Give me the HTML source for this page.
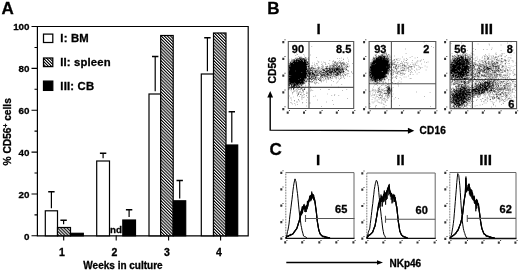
<!DOCTYPE html>
<html><head><meta charset="utf-8"><style>
html,body{margin:0;padding:0;background:#fff;width:520px;height:270px;overflow:hidden}
svg{display:block;will-change:transform}
</style></head><body>
<svg width="520" height="270" viewBox="0 0 520 270">
<rect width="520" height="270" fill="#fff"/>
<text x="1.6" y="14.1" font-size="17" font-family="'Liberation Sans',sans-serif" font-weight="bold" stroke="#000" stroke-width="0.3">A</text>
<path d="M37.4 26.5H248.2V235.8H37.4Z" fill="none" stroke="#000" stroke-width="1.2"/>
<path d="M31.5 235.80H37.5 M34.5 214.87H37.5 M31.5 193.94H37.5 M34.5 173.01H37.5 M31.5 152.08H37.5 M34.5 131.15H37.5 M31.5 110.22H37.5 M34.5 89.29H37.5 M31.5 68.36H37.5 M34.5 47.43H37.5 M31.5 26.50H37.5" stroke="#000" stroke-width="1.1"/>
<text x="29.5" y="239.70" font-size="9.8" text-anchor="end" font-family="'Liberation Sans',sans-serif" font-weight="bold" stroke="#000" stroke-width="0.3">0</text>
<text x="29.5" y="197.84" font-size="9.8" text-anchor="end" font-family="'Liberation Sans',sans-serif" font-weight="bold" stroke="#000" stroke-width="0.3">20</text>
<text x="29.5" y="155.98" font-size="9.8" text-anchor="end" font-family="'Liberation Sans',sans-serif" font-weight="bold" stroke="#000" stroke-width="0.3">40</text>
<text x="29.5" y="114.12" font-size="9.8" text-anchor="end" font-family="'Liberation Sans',sans-serif" font-weight="bold" stroke="#000" stroke-width="0.3">60</text>
<text x="29.5" y="72.26" font-size="9.8" text-anchor="end" font-family="'Liberation Sans',sans-serif" font-weight="bold" stroke="#000" stroke-width="0.3">80</text>
<text x="29.5" y="30.40" font-size="9.8" text-anchor="end" font-family="'Liberation Sans',sans-serif" font-weight="bold" stroke="#000" stroke-width="0.3">100</text>
<path d="M63.7 235.5V240.5 M116.2 235.5V240.5 M168.6 235.5V240.5 M220.6 235.5V240.5" stroke="#000" stroke-width="1.1"/>
<text x="62.0" y="256" font-size="10.5" text-anchor="middle" font-family="'Liberation Sans',sans-serif" font-weight="bold" stroke="#000" stroke-width="0.3">1</text>
<text x="114.5" y="256" font-size="10.5" text-anchor="middle" font-family="'Liberation Sans',sans-serif" font-weight="bold" stroke="#000" stroke-width="0.3">2</text>
<text x="166.9" y="256" font-size="10.5" text-anchor="middle" font-family="'Liberation Sans',sans-serif" font-weight="bold" stroke="#000" stroke-width="0.3">3</text>
<text x="218.9" y="256" font-size="10.5" text-anchor="middle" font-family="'Liberation Sans',sans-serif" font-weight="bold" stroke="#000" stroke-width="0.3">4</text>
<text x="123" y="268.5" font-size="10" text-anchor="middle" font-family="'Liberation Sans',sans-serif" font-weight="bold" stroke="#000" stroke-width="0.3">Weeks in culture</text>
<text transform="translate(11.4,131.8) rotate(-90)" font-size="10.2" text-anchor="middle" font-family="'Liberation Sans',sans-serif" font-weight="bold" stroke="#000" stroke-width="0.3">% CD56<tspan dy="-3.8" font-size="6.5">+</tspan><tspan dy="3.8"> cells</tspan></text>
<defs><filter id="bl" x="-5%" y="-5%" width="110%" height="110%"><feGaussianBlur stdDeviation="0.45"/></filter></defs>
<defs><pattern id="h" patternUnits="userSpaceOnUse" width="2.2" height="2.2" patternTransform="rotate(-45)"><rect width="2.2" height="2.2" fill="#fff"/><rect x="0" y="0" width="1.1" height="2.2" fill="#000"/></pattern></defs>
<rect x="45.30" y="210.80" width="12.20" height="25.00" fill="#fff" stroke="#000" stroke-width="1.2"/>
<rect x="57.50" y="227.50" width="13.00" height="8.30" fill="url(#h)" stroke="#000" stroke-width="1.2"/>
<rect x="70.50" y="233.30" width="12.80" height="2.50" fill="#000" stroke="#000" stroke-width="1.2"/>
<rect x="96.70" y="161.00" width="12.80" height="74.80" fill="#fff" stroke="#000" stroke-width="1.2"/>
<rect x="122.80" y="220.00" width="12.70" height="15.80" fill="#000" stroke="#000" stroke-width="1.2"/>
<rect x="149.00" y="94.00" width="11.70" height="141.80" fill="#fff" stroke="#000" stroke-width="1.2"/>
<rect x="160.70" y="35.50" width="12.50" height="200.30" fill="url(#h)" stroke="#000" stroke-width="1.2"/>
<rect x="173.20" y="200.80" width="12.50" height="35.00" fill="#000" stroke="#000" stroke-width="1.2"/>
<rect x="201.30" y="74.00" width="12.20" height="161.80" fill="#fff" stroke="#000" stroke-width="1.2"/>
<rect x="213.50" y="33.00" width="12.50" height="202.80" fill="url(#h)" stroke="#000" stroke-width="1.2"/>
<rect x="226.00" y="145.00" width="11.70" height="90.80" fill="#000" stroke="#000" stroke-width="1.2"/>
<text x="110" y="232.7" font-size="9.8" font-family="'Liberation Sans',sans-serif" font-weight="bold" stroke="#000" stroke-width="0.3">nd</text>
<path d="M51.40 208.30V191.70 M63.60 224.20V220.20 M103.10 158.30V153.30 M129.10 217.10V209.80 M155.20 91.30V56.50 M179.70 198.50V180.40 M207.40 71.20V37.80 M231.80 142.50V111.70" stroke="#000" stroke-width="1.2" fill="none"/>
<path d="M48.20 191.70H54.60 M60.40 220.20H66.80 M99.90 153.30H106.30 M125.90 209.80H132.30 M152.00 56.50H158.40 M176.50 180.40H182.90 M204.20 37.80H210.60 M228.60 111.70H235.00" stroke="#000" stroke-width="1.5" fill="none"/>
<rect x="43.5" y="34.1" width="9.3" height="8.4" fill="#fff" stroke="#000" stroke-width="1.25"/>
<rect x="43.5" y="58" width="9.3" height="8.6" fill="url(#h)" stroke="#000" stroke-width="1.25"/>
<rect x="43.5" y="81.1" width="9.3" height="9.3" fill="#000" stroke="#000" stroke-width="1.25"/>
<text x="60.3" y="42.1" font-size="11.3" letter-spacing="0.2" font-family="'Liberation Sans',sans-serif" font-weight="bold" stroke="#000" stroke-width="0.3">I: BM</text>
<text x="60.3" y="65.6" font-size="11.3" letter-spacing="0.15" font-family="'Liberation Sans',sans-serif" font-weight="bold" stroke="#000" stroke-width="0.3">II: spleen</text>
<text x="60.3" y="90" font-size="11.3" letter-spacing="0.2" font-family="'Liberation Sans',sans-serif" font-weight="bold" stroke="#000" stroke-width="0.3">III: CB</text>
<text x="267.2" y="13.9" font-size="17" font-family="'Liberation Sans',sans-serif" font-weight="bold" stroke="#000" stroke-width="0.3">B</text>
<text x="318.6" y="33.9" font-size="15.2" text-anchor="middle" font-family="'Liberation Sans',sans-serif" font-weight="bold" stroke="#000" stroke-width="0.3">I</text>
<path d="M288.3 41.5H353.7V108.5H288.3Z M309 41.5V108.5 M288.3 87.4H353.7" fill="none" stroke="#555" stroke-width="1.1"/>
<path d="M282.3 41.0h2v2.2h-2z M284.5 39.3h1v1h-1z M286.7 111.5h2v2.2h-2z M288.9 110.1h1v1h-1z M282.3 57.8h2v2.2h-2z M284.5 56.0h1v1h-1z M303.0 111.5h2v2.2h-2z M305.2 110.1h1v1h-1z M282.3 74.5h2v2.2h-2z M284.5 72.8h1v1h-1z M319.4 111.5h2v2.2h-2z M321.6 110.1h1v1h-1z M282.3 91.2h2v2.2h-2z M284.5 89.5h1v1h-1z M335.8 111.5h2v2.2h-2z M338.0 110.1h1v1h-1z M282.3 108.0h2v2.2h-2z M284.5 106.3h1v1h-1z M352.1 111.5h2v2.2h-2z M354.3 110.1h1v1h-1z" fill="#333" filter="url(#bl)"/>
<text x="400.8" y="33.9" font-size="15.2" text-anchor="middle" font-family="'Liberation Sans',sans-serif" font-weight="bold" stroke="#000" stroke-width="0.3">II</text>
<path d="M369.1 41.5H435.8V108.6H369.1Z M391.4 41.5V108.6 M369.1 83.7H435.8" fill="none" stroke="#555" stroke-width="1.1"/>
<path d="M363.1 41.0h2v2.2h-2z M365.3 39.3h1v1h-1z M367.5 111.6h2v2.2h-2z M369.7 110.2h1v1h-1z M363.1 57.8h2v2.2h-2z M365.3 56.1h1v1h-1z M384.2 111.6h2v2.2h-2z M386.4 110.2h1v1h-1z M363.1 74.5h2v2.2h-2z M365.3 72.8h1v1h-1z M400.9 111.6h2v2.2h-2z M403.1 110.2h1v1h-1z M363.1 91.3h2v2.2h-2z M365.3 89.6h1v1h-1z M417.5 111.6h2v2.2h-2z M419.7 110.2h1v1h-1z M363.1 108.1h2v2.2h-2z M365.3 106.4h1v1h-1z M434.2 111.6h2v2.2h-2z M436.4 110.2h1v1h-1z" fill="#333" filter="url(#bl)"/>
<text x="486.6" y="33.9" font-size="15.2" text-anchor="middle" font-family="'Liberation Sans',sans-serif" font-weight="bold" stroke="#000" stroke-width="0.3">III</text>
<path d="M450.1 41.5H516.6V108.6H450.1Z M472.4 41.5V108.6 M450.1 79.5H516.6" fill="none" stroke="#555" stroke-width="1.1"/>
<path d="M444.1 41.0h2v2.2h-2z M446.3 39.3h1v1h-1z M448.5 111.6h2v2.2h-2z M450.7 110.2h1v1h-1z M444.1 57.8h2v2.2h-2z M446.3 56.1h1v1h-1z M465.1 111.6h2v2.2h-2z M467.3 110.2h1v1h-1z M444.1 74.5h2v2.2h-2z M446.3 72.8h1v1h-1z M481.8 111.6h2v2.2h-2z M484.0 110.2h1v1h-1z M444.1 91.3h2v2.2h-2z M446.3 89.6h1v1h-1z M498.4 111.6h2v2.2h-2z M500.6 110.2h1v1h-1z M444.1 108.1h2v2.2h-2z M446.3 106.4h1v1h-1z M515.0 111.6h2v2.2h-2z M517.2 110.2h1v1h-1z" fill="#333" filter="url(#bl)"/>
<text x="291.8" y="52.6" font-size="11" text-anchor="start" font-family="'Liberation Sans',sans-serif" font-weight="bold" stroke="#000" stroke-width="0.3">90</text>
<text x="351.3" y="52.6" font-size="11" text-anchor="end" font-family="'Liberation Sans',sans-serif" font-weight="bold" stroke="#000" stroke-width="0.3">8.5</text>
<text x="374.2" y="52.6" font-size="11" text-anchor="start" font-family="'Liberation Sans',sans-serif" font-weight="bold" stroke="#000" stroke-width="0.3">93</text>
<text x="429.3" y="52.6" font-size="11" text-anchor="end" font-family="'Liberation Sans',sans-serif" font-weight="bold" stroke="#000" stroke-width="0.3">2</text>
<text x="454.2" y="52.6" font-size="11" text-anchor="start" font-family="'Liberation Sans',sans-serif" font-weight="bold" stroke="#000" stroke-width="0.3">56</text>
<text x="512.8" y="52.6" font-size="11" text-anchor="end" font-family="'Liberation Sans',sans-serif" font-weight="bold" stroke="#000" stroke-width="0.3">8</text>
<text x="514.3" y="107.6" font-size="11" text-anchor="end" font-family="'Liberation Sans',sans-serif" font-weight="bold" stroke="#000" stroke-width="0.3">6</text>
<path d="M270.2 96V130.1L410 130.7" fill="none" stroke="#000" stroke-width="1.4"/>
<path d="M267.3 97.6L270.2 91L273.1 97.6Z M407.9 127.8L414.3 130.75L407.9 133.7Z" fill="#000"/>
<text transform="translate(276,70.2) rotate(-90)" font-size="10.4" text-anchor="middle" font-family="'Liberation Sans',sans-serif" font-weight="bold" stroke="#000" stroke-width="0.3">CD56</text>
<text x="419.6" y="134.1" font-size="10" letter-spacing="0.2" font-family="'Liberation Sans',sans-serif" font-weight="bold" stroke="#000" stroke-width="0.3">CD16</text>
<path d="M311.6 46.3h0.5v0.5h-0.5zM296.6 53.8h0.5v0.5h-0.5zM297.1 54.3h0.5v0.5h-0.5zM303.6 54.3h0.5v0.5h-0.5zM310.1 54.8h0.5v0.5h-0.5zM295.6 55.3h0.5v0.5h-0.5zM304.1 55.8h0.5v0.5h-0.5zM298.1 56.3h0.5v0.5h-0.5zM299.6 56.8h0.5v0.5h-0.5zM300.6 56.8h0.5v0.5h-0.5zM301.6 56.8h0.5v0.5h-0.5zM299.1 57.3h1v0.5h-1zM300.6 57.3h0.5v0.5h-0.5zM305.1 57.3h1v0.5h-1zM308.1 57.3h0.5v0.5h-0.5zM316.1 57.3h0.5v0.5h-0.5zM295.6 57.8h1v0.5h-1zM297.1 57.8h0.5v0.5h-0.5zM300.1 57.8h0.5v0.5h-0.5zM301.1 57.8h1v0.5h-1zM302.6 57.8h0.5v0.5h-0.5zM304.6 57.8h0.5v0.5h-0.5zM306.6 57.8h0.5v0.5h-0.5zM341.6 57.8h0.5v0.5h-0.5zM347.6 57.8h0.5v0.5h-0.5zM295.6 58.3h0.5v0.5h-0.5zM297.1 58.3h0.5v0.5h-0.5zM298.1 58.3h2.5v0.5h-2.5zM301.6 58.3h0.5v0.5h-0.5zM302.6 58.3h1.5v0.5h-1.5zM304.6 58.3h0.5v0.5h-0.5zM305.6 58.3h0.5v0.5h-0.5zM337.1 58.3h0.5v0.5h-0.5zM339.6 58.3h0.5v0.5h-0.5zM291.6 58.8h0.5v0.5h-0.5zM294.6 58.8h0.5v0.5h-0.5zM295.6 58.8h0.5v0.5h-0.5zM296.6 58.8h1v0.5h-1zM298.6 58.8h6v0.5h-6zM305.6 58.8h0.5v0.5h-0.5zM306.6 58.8h0.5v0.5h-0.5zM307.6 58.8h1.5v0.5h-1.5zM343.1 58.8h0.5v0.5h-0.5zM293.6 59.3h1v0.5h-1zM296.1 59.3h1.5v0.5h-1.5zM298.1 59.3h0.5v0.5h-0.5zM299.6 59.3h1.5v0.5h-1.5zM301.6 59.3h1v0.5h-1zM303.1 59.3h0.5v0.5h-0.5zM304.1 59.3h1.5v0.5h-1.5zM306.1 59.3h0.5v0.5h-0.5zM343.1 59.3h0.5v0.5h-0.5zM289.6 59.8h0.5v0.5h-0.5zM291.6 59.8h3v0.5h-3zM295.6 59.8h4v0.5h-4zM300.1 59.8h5.5v0.5h-5.5zM306.1 59.8h0.5v0.5h-0.5zM308.1 59.8h0.5v0.5h-0.5zM348.6 59.8h0.5v0.5h-0.5zM291.6 60.3h0.5v0.5h-0.5zM293.1 60.3h0.5v0.5h-0.5zM294.1 60.3h6v0.5h-6zM300.6 60.3h1.5v0.5h-1.5zM302.6 60.3h0.5v0.5h-0.5zM303.6 60.3h3v0.5h-3zM329.6 60.3h0.5v0.5h-0.5zM339.1 60.3h0.5v0.5h-0.5zM341.6 60.3h0.5v0.5h-0.5zM291.6 60.8h1v0.5h-1zM293.6 60.8h1.5v0.5h-1.5zM295.6 60.8h1.5v0.5h-1.5zM297.6 60.8h5.5v0.5h-5.5zM304.1 60.8h2.5v0.5h-2.5zM317.6 60.8h0.5v0.5h-0.5zM333.1 60.8h1v0.5h-1zM291.6 61.3h1v0.5h-1zM293.1 61.3h2.5v0.5h-2.5zM296.1 61.3h1.5v0.5h-1.5zM298.1 61.3h5v0.5h-5zM303.6 61.3h2v0.5h-2zM306.1 61.3h0.5v0.5h-0.5zM307.1 61.3h0.5v0.5h-0.5zM308.1 61.3h0.5v0.5h-0.5zM318.6 61.3h0.5v0.5h-0.5zM332.6 61.3h0.5v0.5h-0.5zM335.6 61.3h0.5v0.5h-0.5zM338.6 61.3h0.5v0.5h-0.5zM348.1 61.3h0.5v0.5h-0.5zM288.6 61.8h0.5v0.5h-0.5zM289.6 61.8h2v0.5h-2zM293.1 61.8h15v0.5h-15zM321.6 61.8h0.5v0.5h-0.5zM323.6 61.8h0.5v0.5h-0.5zM334.1 61.8h0.5v0.5h-0.5zM335.1 61.8h0.5v0.5h-0.5zM340.1 61.8h1v0.5h-1zM343.6 61.8h0.5v0.5h-0.5zM290.1 62.3h1v0.5h-1zM292.1 62.3h14v0.5h-14zM306.6 62.3h1.5v0.5h-1.5zM318.6 62.3h0.5v0.5h-0.5zM324.6 62.3h0.5v0.5h-0.5zM334.1 62.3h0.5v0.5h-0.5zM335.6 62.3h0.5v0.5h-0.5zM337.6 62.3h0.5v0.5h-0.5zM339.1 62.3h0.5v0.5h-0.5zM342.1 62.3h1v0.5h-1zM343.6 62.3h0.5v0.5h-0.5zM346.1 62.3h0.5v0.5h-0.5zM290.6 62.8h15.5v0.5h-15.5zM306.6 62.8h0.5v0.5h-0.5zM307.6 62.8h0.5v0.5h-0.5zM308.6 62.8h0.5v0.5h-0.5zM312.6 62.8h0.5v0.5h-0.5zM314.6 62.8h0.5v0.5h-0.5zM325.1 62.8h0.5v0.5h-0.5zM332.6 62.8h0.5v0.5h-0.5zM334.6 62.8h1v0.5h-1zM336.6 62.8h1v0.5h-1zM338.6 62.8h1v0.5h-1zM340.1 62.8h1.5v0.5h-1.5zM344.6 62.8h0.5v0.5h-0.5zM288.6 63.3h4.5v0.5h-4.5zM293.6 63.3h13v0.5h-13zM307.1 63.3h0.5v0.5h-0.5zM308.1 63.3h1v0.5h-1zM316.6 63.3h0.5v0.5h-0.5zM328.1 63.3h0.5v0.5h-0.5zM333.6 63.3h0.5v0.5h-0.5zM336.6 63.3h0.5v0.5h-0.5zM337.6 63.3h0.5v0.5h-0.5zM340.6 63.3h1v0.5h-1zM342.1 63.3h1.5v0.5h-1.5zM344.6 63.3h0.5v0.5h-0.5zM352.1 63.3h0.5v0.5h-0.5zM290.1 63.8h17.5v0.5h-17.5zM309.1 63.8h0.5v0.5h-0.5zM316.6 63.8h0.5v0.5h-0.5zM317.6 63.8h0.5v0.5h-0.5zM322.1 63.8h0.5v0.5h-0.5zM325.6 63.8h0.5v0.5h-0.5zM329.6 63.8h0.5v0.5h-0.5zM332.6 63.8h0.5v0.5h-0.5zM334.6 63.8h0.5v0.5h-0.5zM335.6 63.8h0.5v0.5h-0.5zM336.6 63.8h0.5v0.5h-0.5zM338.6 63.8h0.5v0.5h-0.5zM341.6 63.8h0.5v0.5h-0.5zM343.1 63.8h0.5v0.5h-0.5zM344.1 63.8h0.5v0.5h-0.5zM347.1 63.8h1v0.5h-1zM348.6 63.8h0.5v0.5h-0.5zM289.1 64.3h0.5v0.5h-0.5zM290.1 64.3h18.5v0.5h-18.5zM314.1 64.3h0.5v0.5h-0.5zM321.1 64.3h0.5v0.5h-0.5zM325.6 64.3h0.5v0.5h-0.5zM333.1 64.3h0.5v0.5h-0.5zM334.1 64.3h0.5v0.5h-0.5zM336.1 64.3h0.5v0.5h-0.5zM337.1 64.3h0.5v0.5h-0.5zM340.1 64.3h0.5v0.5h-0.5zM341.6 64.3h0.5v0.5h-0.5zM343.1 64.3h1.5v0.5h-1.5zM345.1 64.3h0.5v0.5h-0.5zM346.6 64.3h0.5v0.5h-0.5zM288.6 64.8h19v0.5h-19zM331.6 64.8h0.5v0.5h-0.5zM333.1 64.8h0.5v0.5h-0.5zM334.6 64.8h0.5v0.5h-0.5zM336.1 64.8h0.5v0.5h-0.5zM337.1 64.8h0.5v0.5h-0.5zM340.6 64.8h1v0.5h-1zM288.6 65.3h1v0.5h-1zM290.1 65.3h16v0.5h-16zM306.6 65.3h0.5v0.5h-0.5zM309.1 65.3h0.5v0.5h-0.5zM311.6 65.3h0.5v0.5h-0.5zM312.6 65.3h0.5v0.5h-0.5zM315.6 65.3h0.5v0.5h-0.5zM317.6 65.3h0.5v0.5h-0.5zM322.1 65.3h0.5v0.5h-0.5zM330.6 65.3h0.5v0.5h-0.5zM332.1 65.3h0.5v0.5h-0.5zM333.6 65.3h0.5v0.5h-0.5zM334.6 65.3h2v0.5h-2zM337.1 65.3h0.5v0.5h-0.5zM339.1 65.3h1v0.5h-1zM341.6 65.3h1v0.5h-1zM343.6 65.3h0.5v0.5h-0.5zM344.6 65.3h0.5v0.5h-0.5zM346.6 65.3h0.5v0.5h-0.5zM288.6 65.8h2v0.5h-2zM291.1 65.8h15.5v0.5h-15.5zM307.6 65.8h1v0.5h-1zM309.6 65.8h0.5v0.5h-0.5zM314.1 65.8h0.5v0.5h-0.5zM323.1 65.8h0.5v0.5h-0.5zM327.6 65.8h0.5v0.5h-0.5zM329.1 65.8h1v0.5h-1zM330.6 65.8h1v0.5h-1zM332.1 65.8h1.5v0.5h-1.5zM334.1 65.8h0.5v0.5h-0.5zM335.1 65.8h0.5v0.5h-0.5zM337.6 65.8h1v0.5h-1zM339.1 65.8h0.5v0.5h-0.5zM341.1 65.8h1v0.5h-1zM345.6 65.8h0.5v0.5h-0.5zM346.6 65.8h0.5v0.5h-0.5zM347.6 65.8h0.5v0.5h-0.5zM349.1 65.8h0.5v0.5h-0.5zM288.6 66.3h1v0.5h-1zM290.1 66.3h17v0.5h-17zM307.6 66.3h1.5v0.5h-1.5zM318.6 66.3h0.5v0.5h-0.5zM321.1 66.3h0.5v0.5h-0.5zM322.1 66.3h0.5v0.5h-0.5zM325.1 66.3h0.5v0.5h-0.5zM326.1 66.3h0.5v0.5h-0.5zM327.1 66.3h1v0.5h-1zM330.1 66.3h0.5v0.5h-0.5zM333.1 66.3h1.5v0.5h-1.5zM336.1 66.3h1v0.5h-1zM338.1 66.3h1.5v0.5h-1.5zM340.6 66.3h0.5v0.5h-0.5zM341.6 66.3h1v0.5h-1zM345.6 66.3h0.5v0.5h-0.5zM347.1 66.3h1v0.5h-1zM288.6 66.8h18.5v0.5h-18.5zM307.6 66.8h1v0.5h-1zM309.1 66.8h0.5v0.5h-0.5zM311.1 66.8h0.5v0.5h-0.5zM312.1 66.8h1v0.5h-1zM315.1 66.8h0.5v0.5h-0.5zM323.1 66.8h0.5v0.5h-0.5zM326.1 66.8h0.5v0.5h-0.5zM329.6 66.8h0.5v0.5h-0.5zM332.1 66.8h0.5v0.5h-0.5zM333.6 66.8h0.5v0.5h-0.5zM336.1 66.8h0.5v0.5h-0.5zM337.6 66.8h0.5v0.5h-0.5zM338.6 66.8h1.5v0.5h-1.5zM341.6 66.8h0.5v0.5h-0.5zM343.1 66.8h0.5v0.5h-0.5zM344.6 66.8h0.5v0.5h-0.5zM346.6 66.8h0.5v0.5h-0.5zM347.6 66.8h0.5v0.5h-0.5zM348.6 66.8h0.5v0.5h-0.5zM288.6 67.3h18.5v0.5h-18.5zM310.6 67.3h0.5v0.5h-0.5zM311.6 67.3h0.5v0.5h-0.5zM312.6 67.3h0.5v0.5h-0.5zM313.6 67.3h0.5v0.5h-0.5zM317.1 67.3h0.5v0.5h-0.5zM318.1 67.3h0.5v0.5h-0.5zM319.6 67.3h0.5v0.5h-0.5zM322.6 67.3h0.5v0.5h-0.5zM326.6 67.3h0.5v0.5h-0.5zM329.6 67.3h1v0.5h-1zM331.1 67.3h0.5v0.5h-0.5zM332.1 67.3h0.5v0.5h-0.5zM333.1 67.3h0.5v0.5h-0.5zM334.1 67.3h0.5v0.5h-0.5zM335.1 67.3h0.5v0.5h-0.5zM336.1 67.3h0.5v0.5h-0.5zM337.1 67.3h1v0.5h-1zM338.6 67.3h1v0.5h-1zM340.1 67.3h1v0.5h-1zM341.6 67.3h1v0.5h-1zM346.6 67.3h0.5v0.5h-0.5zM289.1 67.8h17.5v0.5h-17.5zM308.1 67.8h1v0.5h-1zM309.6 67.8h0.5v0.5h-0.5zM311.1 67.8h1v0.5h-1zM318.1 67.8h1v0.5h-1zM319.6 67.8h0.5v0.5h-0.5zM321.1 67.8h0.5v0.5h-0.5zM322.1 67.8h0.5v0.5h-0.5zM325.6 67.8h1v0.5h-1zM327.1 67.8h0.5v0.5h-0.5zM328.1 67.8h0.5v0.5h-0.5zM329.1 67.8h0.5v0.5h-0.5zM330.6 67.8h0.5v0.5h-0.5zM332.6 67.8h1v0.5h-1zM334.1 67.8h1.5v0.5h-1.5zM336.6 67.8h1v0.5h-1zM338.1 67.8h0.5v0.5h-0.5zM342.1 67.8h0.5v0.5h-0.5zM343.6 67.8h1.5v0.5h-1.5zM345.6 67.8h1v0.5h-1zM288.6 68.3h19v0.5h-19zM308.6 68.3h3v0.5h-3zM312.6 68.3h2.5v0.5h-2.5zM315.6 68.3h0.5v0.5h-0.5zM317.6 68.3h1v0.5h-1zM321.1 68.3h0.5v0.5h-0.5zM322.6 68.3h0.5v0.5h-0.5zM324.6 68.3h3v0.5h-3zM328.1 68.3h0.5v0.5h-0.5zM329.1 68.3h1.5v0.5h-1.5zM331.1 68.3h2v0.5h-2zM333.6 68.3h1v0.5h-1zM335.1 68.3h5v0.5h-5zM340.6 68.3h1v0.5h-1zM342.1 68.3h1v0.5h-1zM343.6 68.3h0.5v0.5h-0.5zM288.6 68.8h0.5v0.5h-0.5zM289.6 68.8h18v0.5h-18zM311.6 68.8h0.5v0.5h-0.5zM312.6 68.8h1v0.5h-1zM315.1 68.8h0.5v0.5h-0.5zM316.1 68.8h0.5v0.5h-0.5zM319.1 68.8h0.5v0.5h-0.5zM320.6 68.8h0.5v0.5h-0.5zM323.1 68.8h0.5v0.5h-0.5zM326.1 68.8h2v0.5h-2zM328.6 68.8h2v0.5h-2zM331.1 68.8h1.5v0.5h-1.5zM333.1 68.8h1.5v0.5h-1.5zM335.6 68.8h3v0.5h-3zM339.1 68.8h1v0.5h-1zM340.6 68.8h1.5v0.5h-1.5zM342.6 68.8h0.5v0.5h-0.5zM345.1 68.8h1v0.5h-1zM346.6 68.8h0.5v0.5h-0.5zM288.6 69.3h19v0.5h-19zM308.6 69.3h0.5v0.5h-0.5zM309.6 69.3h1.5v0.5h-1.5zM312.1 69.3h0.5v0.5h-0.5zM314.6 69.3h0.5v0.5h-0.5zM317.6 69.3h1v0.5h-1zM322.1 69.3h2.5v0.5h-2.5zM325.6 69.3h0.5v0.5h-0.5zM326.6 69.3h1v0.5h-1zM329.1 69.3h2v0.5h-2zM331.6 69.3h1.5v0.5h-1.5zM333.6 69.3h1.5v0.5h-1.5zM335.6 69.3h4v0.5h-4zM340.1 69.3h1v0.5h-1zM341.6 69.3h2.5v0.5h-2.5zM344.6 69.3h0.5v0.5h-0.5zM346.1 69.3h1v0.5h-1zM288.6 69.8h1v0.5h-1zM290.1 69.8h17.5v0.5h-17.5zM308.1 69.8h1v0.5h-1zM310.1 69.8h0.5v0.5h-0.5zM311.6 69.8h0.5v0.5h-0.5zM313.1 69.8h0.5v0.5h-0.5zM316.1 69.8h0.5v0.5h-0.5zM317.1 69.8h0.5v0.5h-0.5zM320.1 69.8h0.5v0.5h-0.5zM321.6 69.8h0.5v0.5h-0.5zM322.6 69.8h0.5v0.5h-0.5zM323.6 69.8h1v0.5h-1zM325.6 69.8h0.5v0.5h-0.5zM328.1 69.8h0.5v0.5h-0.5zM329.1 69.8h0.5v0.5h-0.5zM330.6 69.8h0.5v0.5h-0.5zM332.1 69.8h1.5v0.5h-1.5zM334.1 69.8h4.5v0.5h-4.5zM339.1 69.8h1.5v0.5h-1.5zM341.6 69.8h1.5v0.5h-1.5zM346.1 69.8h0.5v0.5h-0.5zM288.6 70.3h17.5v0.5h-17.5zM307.1 70.3h1v0.5h-1zM308.6 70.3h0.5v0.5h-0.5zM309.6 70.3h3v0.5h-3zM313.6 70.3h0.5v0.5h-0.5zM314.6 70.3h0.5v0.5h-0.5zM315.6 70.3h1v0.5h-1zM317.6 70.3h0.5v0.5h-0.5zM319.1 70.3h0.5v0.5h-0.5zM321.6 70.3h0.5v0.5h-0.5zM322.6 70.3h2.5v0.5h-2.5zM326.1 70.3h3.5v0.5h-3.5zM330.1 70.3h1.5v0.5h-1.5zM332.1 70.3h0.5v0.5h-0.5zM333.1 70.3h2v0.5h-2zM336.1 70.3h1.5v0.5h-1.5zM338.1 70.3h1v0.5h-1zM339.6 70.3h1v0.5h-1zM341.6 70.3h0.5v0.5h-0.5zM342.6 70.3h1v0.5h-1zM345.6 70.3h0.5v0.5h-0.5zM347.1 70.3h0.5v0.5h-0.5zM348.1 70.3h0.5v0.5h-0.5zM289.1 70.8h6.5v0.5h-6.5zM296.1 70.8h12v0.5h-12zM308.6 70.8h0.5v0.5h-0.5zM309.6 70.8h1v0.5h-1zM311.1 70.8h0.5v0.5h-0.5zM312.1 70.8h1v0.5h-1zM314.1 70.8h2.5v0.5h-2.5zM317.6 70.8h1.5v0.5h-1.5zM319.6 70.8h0.5v0.5h-0.5zM320.6 70.8h0.5v0.5h-0.5zM323.6 70.8h1.5v0.5h-1.5zM325.6 70.8h0.5v0.5h-0.5zM326.6 70.8h3.5v0.5h-3.5zM330.6 70.8h0.5v0.5h-0.5zM331.6 70.8h1.5v0.5h-1.5zM334.1 70.8h2v0.5h-2zM336.6 70.8h0.5v0.5h-0.5zM337.6 70.8h0.5v0.5h-0.5zM338.6 70.8h1v0.5h-1zM340.1 70.8h2v0.5h-2zM343.1 70.8h1v0.5h-1zM347.6 70.8h0.5v0.5h-0.5zM288.6 71.3h18v0.5h-18zM307.1 71.3h1v0.5h-1zM308.6 71.3h1v0.5h-1zM312.6 71.3h0.5v0.5h-0.5zM315.1 71.3h1v0.5h-1zM317.6 71.3h0.5v0.5h-0.5zM319.1 71.3h0.5v0.5h-0.5zM320.1 71.3h1.5v0.5h-1.5zM325.1 71.3h3v0.5h-3zM328.6 71.3h0.5v0.5h-0.5zM329.6 71.3h3.5v0.5h-3.5zM333.6 71.3h0.5v0.5h-0.5zM334.6 71.3h1.5v0.5h-1.5zM336.6 71.3h0.5v0.5h-0.5zM337.6 71.3h2.5v0.5h-2.5zM341.1 71.3h0.5v0.5h-0.5zM342.1 71.3h0.5v0.5h-0.5zM343.1 71.3h1.5v0.5h-1.5zM348.1 71.3h0.5v0.5h-0.5zM351.1 71.3h0.5v0.5h-0.5zM288.6 71.8h18.5v0.5h-18.5zM307.6 71.8h3v0.5h-3zM311.6 71.8h1.5v0.5h-1.5zM313.6 71.8h0.5v0.5h-0.5zM314.6 71.8h1v0.5h-1zM316.1 71.8h1.5v0.5h-1.5zM318.1 71.8h0.5v0.5h-0.5zM320.1 71.8h0.5v0.5h-0.5zM321.1 71.8h1v0.5h-1zM322.6 71.8h1.5v0.5h-1.5zM325.1 71.8h2v0.5h-2zM328.6 71.8h1.5v0.5h-1.5zM330.6 71.8h2v0.5h-2zM333.1 71.8h0.5v0.5h-0.5zM334.1 71.8h2v0.5h-2zM336.6 71.8h0.5v0.5h-0.5zM338.6 71.8h3v0.5h-3zM342.1 71.8h2v0.5h-2zM288.6 72.3h13v0.5h-13zM302.1 72.3h4v0.5h-4zM306.6 72.3h0.5v0.5h-0.5zM307.6 72.3h0.5v0.5h-0.5zM308.6 72.3h1v0.5h-1zM310.1 72.3h2.5v0.5h-2.5zM314.6 72.3h1v0.5h-1zM316.1 72.3h0.5v0.5h-0.5zM317.1 72.3h0.5v0.5h-0.5zM319.1 72.3h1v0.5h-1zM321.1 72.3h0.5v0.5h-0.5zM322.1 72.3h1.5v0.5h-1.5zM324.1 72.3h1v0.5h-1zM326.1 72.3h0.5v0.5h-0.5zM327.6 72.3h0.5v0.5h-0.5zM328.6 72.3h3.5v0.5h-3.5zM332.6 72.3h2v0.5h-2zM335.1 72.3h0.5v0.5h-0.5zM336.1 72.3h2.5v0.5h-2.5zM339.1 72.3h0.5v0.5h-0.5zM340.1 72.3h1.5v0.5h-1.5zM342.1 72.3h0.5v0.5h-0.5zM343.6 72.3h0.5v0.5h-0.5zM345.6 72.3h0.5v0.5h-0.5zM351.6 72.3h0.5v0.5h-0.5zM288.6 72.8h18.5v0.5h-18.5zM307.6 72.8h2v0.5h-2zM310.6 72.8h0.5v0.5h-0.5zM312.1 72.8h2v0.5h-2zM314.6 72.8h1.5v0.5h-1.5zM316.6 72.8h0.5v0.5h-0.5zM318.1 72.8h0.5v0.5h-0.5zM319.1 72.8h1.5v0.5h-1.5zM322.6 72.8h1.5v0.5h-1.5zM324.6 72.8h3.5v0.5h-3.5zM328.6 72.8h0.5v0.5h-0.5zM329.6 72.8h1.5v0.5h-1.5zM331.6 72.8h0.5v0.5h-0.5zM332.6 72.8h0.5v0.5h-0.5zM333.6 72.8h0.5v0.5h-0.5zM334.6 72.8h0.5v0.5h-0.5zM335.6 72.8h0.5v0.5h-0.5zM336.6 72.8h2v0.5h-2zM339.1 72.8h2.5v0.5h-2.5zM343.6 72.8h0.5v0.5h-0.5zM288.6 73.3h19v0.5h-19zM308.1 73.3h3v0.5h-3zM311.6 73.3h2.5v0.5h-2.5zM317.1 73.3h0.5v0.5h-0.5zM318.1 73.3h0.5v0.5h-0.5zM319.1 73.3h0.5v0.5h-0.5zM320.1 73.3h0.5v0.5h-0.5zM321.1 73.3h0.5v0.5h-0.5zM322.1 73.3h0.5v0.5h-0.5zM324.6 73.3h0.5v0.5h-0.5zM325.6 73.3h0.5v0.5h-0.5zM327.1 73.3h1v0.5h-1zM328.6 73.3h0.5v0.5h-0.5zM329.6 73.3h1v0.5h-1zM331.1 73.3h1v0.5h-1zM333.1 73.3h1v0.5h-1zM336.1 73.3h0.5v0.5h-0.5zM337.1 73.3h1.5v0.5h-1.5zM340.1 73.3h0.5v0.5h-0.5zM343.6 73.3h0.5v0.5h-0.5zM347.6 73.3h0.5v0.5h-0.5zM348.6 73.3h0.5v0.5h-0.5zM352.6 73.3h0.5v0.5h-0.5zM289.1 73.8h18.5v0.5h-18.5zM308.6 73.8h2.5v0.5h-2.5zM311.6 73.8h1.5v0.5h-1.5zM313.6 73.8h1v0.5h-1zM315.6 73.8h2v0.5h-2zM318.1 73.8h0.5v0.5h-0.5zM320.1 73.8h1.5v0.5h-1.5zM323.1 73.8h0.5v0.5h-0.5zM324.1 73.8h0.5v0.5h-0.5zM325.1 73.8h0.5v0.5h-0.5zM326.6 73.8h2v0.5h-2zM330.1 73.8h0.5v0.5h-0.5zM331.6 73.8h0.5v0.5h-0.5zM334.1 73.8h1.5v0.5h-1.5zM336.1 73.8h3v0.5h-3zM339.6 73.8h0.5v0.5h-0.5zM340.6 73.8h0.5v0.5h-0.5zM342.1 73.8h0.5v0.5h-0.5zM344.6 73.8h0.5v0.5h-0.5zM346.1 73.8h0.5v0.5h-0.5zM347.6 73.8h0.5v0.5h-0.5zM288.6 74.3h18v0.5h-18zM307.6 74.3h0.5v0.5h-0.5zM309.1 74.3h1v0.5h-1zM310.6 74.3h0.5v0.5h-0.5zM311.6 74.3h0.5v0.5h-0.5zM312.6 74.3h2.5v0.5h-2.5zM317.6 74.3h0.5v0.5h-0.5zM320.6 74.3h1v0.5h-1zM322.1 74.3h2.5v0.5h-2.5zM326.1 74.3h3.5v0.5h-3.5zM330.1 74.3h0.5v0.5h-0.5zM331.1 74.3h1.5v0.5h-1.5zM333.1 74.3h0.5v0.5h-0.5zM334.6 74.3h2v0.5h-2zM337.1 74.3h0.5v0.5h-0.5zM338.1 74.3h0.5v0.5h-0.5zM339.1 74.3h0.5v0.5h-0.5zM340.1 74.3h0.5v0.5h-0.5zM342.1 74.3h0.5v0.5h-0.5zM344.6 74.3h0.5v0.5h-0.5zM345.6 74.3h0.5v0.5h-0.5zM288.6 74.8h19.5v0.5h-19.5zM309.1 74.8h2.5v0.5h-2.5zM312.1 74.8h1.5v0.5h-1.5zM314.1 74.8h4v0.5h-4zM318.6 74.8h1v0.5h-1zM320.1 74.8h0.5v0.5h-0.5zM321.1 74.8h1v0.5h-1zM322.6 74.8h0.5v0.5h-0.5zM323.6 74.8h2.5v0.5h-2.5zM326.6 74.8h0.5v0.5h-0.5zM327.6 74.8h0.5v0.5h-0.5zM328.6 74.8h1v0.5h-1zM331.6 74.8h0.5v0.5h-0.5zM333.1 74.8h1v0.5h-1zM335.6 74.8h0.5v0.5h-0.5zM336.6 74.8h2.5v0.5h-2.5zM340.1 74.8h0.5v0.5h-0.5zM345.1 74.8h0.5v0.5h-0.5zM288.6 75.3h0.5v0.5h-0.5zM289.6 75.3h1v0.5h-1zM291.1 75.3h15v0.5h-15zM306.6 75.3h1.5v0.5h-1.5zM309.6 75.3h1v0.5h-1zM311.1 75.3h0.5v0.5h-0.5zM313.1 75.3h0.5v0.5h-0.5zM314.1 75.3h1.5v0.5h-1.5zM316.1 75.3h1.5v0.5h-1.5zM318.1 75.3h1v0.5h-1zM321.1 75.3h2.5v0.5h-2.5zM324.1 75.3h1.5v0.5h-1.5zM326.1 75.3h0.5v0.5h-0.5zM327.1 75.3h0.5v0.5h-0.5zM328.1 75.3h1v0.5h-1zM329.6 75.3h2v0.5h-2zM333.6 75.3h0.5v0.5h-0.5zM335.6 75.3h2v0.5h-2zM339.6 75.3h0.5v0.5h-0.5zM341.1 75.3h0.5v0.5h-0.5zM342.6 75.3h0.5v0.5h-0.5zM343.6 75.3h0.5v0.5h-0.5zM345.1 75.3h0.5v0.5h-0.5zM288.6 75.8h18v0.5h-18zM307.1 75.8h0.5v0.5h-0.5zM308.1 75.8h1.5v0.5h-1.5zM311.6 75.8h1.5v0.5h-1.5zM313.6 75.8h0.5v0.5h-0.5zM314.6 75.8h0.5v0.5h-0.5zM317.6 75.8h0.5v0.5h-0.5zM320.1 75.8h0.5v0.5h-0.5zM321.6 75.8h1v0.5h-1zM323.6 75.8h0.5v0.5h-0.5zM327.1 75.8h0.5v0.5h-0.5zM329.6 75.8h0.5v0.5h-0.5zM330.6 75.8h0.5v0.5h-0.5zM332.1 75.8h0.5v0.5h-0.5zM334.6 75.8h0.5v0.5h-0.5zM335.6 75.8h1v0.5h-1zM337.6 75.8h0.5v0.5h-0.5zM340.1 75.8h1v0.5h-1zM343.1 75.8h0.5v0.5h-0.5zM347.1 75.8h0.5v0.5h-0.5zM288.6 76.3h18v0.5h-18zM307.1 76.3h1.5v0.5h-1.5zM309.1 76.3h1v0.5h-1zM310.6 76.3h1.5v0.5h-1.5zM312.6 76.3h0.5v0.5h-0.5zM313.6 76.3h1v0.5h-1zM315.6 76.3h0.5v0.5h-0.5zM316.6 76.3h0.5v0.5h-0.5zM320.6 76.3h0.5v0.5h-0.5zM321.6 76.3h0.5v0.5h-0.5zM324.1 76.3h3.5v0.5h-3.5zM331.6 76.3h1v0.5h-1zM333.1 76.3h0.5v0.5h-0.5zM334.6 76.3h0.5v0.5h-0.5zM343.6 76.3h0.5v0.5h-0.5zM349.6 76.3h0.5v0.5h-0.5zM288.6 76.8h18v0.5h-18zM308.1 76.8h0.5v0.5h-0.5zM309.1 76.8h0.5v0.5h-0.5zM311.6 76.8h1v0.5h-1zM313.1 76.8h1v0.5h-1zM314.6 76.8h2v0.5h-2zM320.1 76.8h1.5v0.5h-1.5zM322.1 76.8h0.5v0.5h-0.5zM323.1 76.8h0.5v0.5h-0.5zM327.1 76.8h0.5v0.5h-0.5zM328.1 76.8h0.5v0.5h-0.5zM329.6 76.8h1v0.5h-1zM334.1 76.8h0.5v0.5h-0.5zM335.1 76.8h0.5v0.5h-0.5zM338.1 76.8h0.5v0.5h-0.5zM341.6 76.8h0.5v0.5h-0.5zM288.6 77.3h1v0.5h-1zM290.1 77.3h17v0.5h-17zM309.6 77.3h0.5v0.5h-0.5zM311.1 77.3h1v0.5h-1zM312.6 77.3h0.5v0.5h-0.5zM313.6 77.3h0.5v0.5h-0.5zM315.1 77.3h1v0.5h-1zM317.1 77.3h0.5v0.5h-0.5zM318.6 77.3h0.5v0.5h-0.5zM320.6 77.3h0.5v0.5h-0.5zM322.1 77.3h1v0.5h-1zM324.6 77.3h0.5v0.5h-0.5zM325.6 77.3h0.5v0.5h-0.5zM327.1 77.3h0.5v0.5h-0.5zM328.6 77.3h0.5v0.5h-0.5zM330.1 77.3h1v0.5h-1zM332.1 77.3h0.5v0.5h-0.5zM336.6 77.3h0.5v0.5h-0.5zM343.6 77.3h0.5v0.5h-0.5zM289.1 77.8h17.5v0.5h-17.5zM308.1 77.8h0.5v0.5h-0.5zM309.1 77.8h2.5v0.5h-2.5zM314.1 77.8h0.5v0.5h-0.5zM315.1 77.8h0.5v0.5h-0.5zM316.1 77.8h1v0.5h-1zM319.1 77.8h0.5v0.5h-0.5zM321.6 77.8h0.5v0.5h-0.5zM326.6 77.8h0.5v0.5h-0.5zM327.6 77.8h0.5v0.5h-0.5zM329.6 77.8h0.5v0.5h-0.5zM330.6 77.8h0.5v0.5h-0.5zM335.1 77.8h0.5v0.5h-0.5zM336.1 77.8h0.5v0.5h-0.5zM340.6 77.8h0.5v0.5h-0.5zM341.6 77.8h0.5v0.5h-0.5zM288.6 78.3h11.5v0.5h-11.5zM300.6 78.3h4v0.5h-4zM305.1 78.3h0.5v0.5h-0.5zM306.6 78.3h1.5v0.5h-1.5zM308.6 78.3h2.5v0.5h-2.5zM312.1 78.3h2.5v0.5h-2.5zM315.1 78.3h0.5v0.5h-0.5zM317.1 78.3h0.5v0.5h-0.5zM319.1 78.3h0.5v0.5h-0.5zM320.6 78.3h0.5v0.5h-0.5zM323.1 78.3h0.5v0.5h-0.5zM325.1 78.3h0.5v0.5h-0.5zM328.1 78.3h0.5v0.5h-0.5zM331.6 78.3h0.5v0.5h-0.5zM332.6 78.3h0.5v0.5h-0.5zM338.6 78.3h0.5v0.5h-0.5zM340.1 78.3h0.5v0.5h-0.5zM344.1 78.3h0.5v0.5h-0.5zM288.6 78.8h17.5v0.5h-17.5zM306.6 78.8h0.5v0.5h-0.5zM309.1 78.8h0.5v0.5h-0.5zM311.1 78.8h0.5v0.5h-0.5zM312.1 78.8h0.5v0.5h-0.5zM313.1 78.8h0.5v0.5h-0.5zM314.1 78.8h0.5v0.5h-0.5zM315.1 78.8h1v0.5h-1zM318.1 78.8h1v0.5h-1zM320.1 78.8h0.5v0.5h-0.5zM321.1 78.8h0.5v0.5h-0.5zM325.1 78.8h1v0.5h-1zM327.1 78.8h0.5v0.5h-0.5zM328.1 78.8h0.5v0.5h-0.5zM330.1 78.8h0.5v0.5h-0.5zM336.6 78.8h0.5v0.5h-0.5zM288.6 79.3h10v0.5h-10zM299.1 79.3h5.5v0.5h-5.5zM307.1 79.3h1.5v0.5h-1.5zM309.6 79.3h1v0.5h-1zM311.1 79.3h1.5v0.5h-1.5zM314.1 79.3h0.5v0.5h-0.5zM315.1 79.3h0.5v0.5h-0.5zM316.6 79.3h0.5v0.5h-0.5zM318.1 79.3h1v0.5h-1zM320.1 79.3h0.5v0.5h-0.5zM328.6 79.3h0.5v0.5h-0.5zM339.1 79.3h0.5v0.5h-0.5zM288.6 79.8h16v0.5h-16zM305.1 79.8h0.5v0.5h-0.5zM306.1 79.8h0.5v0.5h-0.5zM307.1 79.8h0.5v0.5h-0.5zM308.6 79.8h1v0.5h-1zM311.1 79.8h0.5v0.5h-0.5zM314.1 79.8h0.5v0.5h-0.5zM316.1 79.8h1v0.5h-1zM319.6 79.8h0.5v0.5h-0.5zM320.6 79.8h0.5v0.5h-0.5zM322.6 79.8h0.5v0.5h-0.5zM323.6 79.8h1v0.5h-1zM326.1 79.8h0.5v0.5h-0.5zM288.6 80.3h16.5v0.5h-16.5zM306.1 80.3h0.5v0.5h-0.5zM309.1 80.3h0.5v0.5h-0.5zM313.1 80.3h1v0.5h-1zM319.1 80.3h1.5v0.5h-1.5zM331.1 80.3h0.5v0.5h-0.5zM288.6 80.8h1v0.5h-1zM290.1 80.8h13v0.5h-13zM303.6 80.8h1.5v0.5h-1.5zM305.6 80.8h0.5v0.5h-0.5zM307.1 80.8h0.5v0.5h-0.5zM308.6 80.8h0.5v0.5h-0.5zM311.6 80.8h0.5v0.5h-0.5zM315.1 80.8h0.5v0.5h-0.5zM316.6 80.8h0.5v0.5h-0.5zM320.1 80.8h0.5v0.5h-0.5zM321.1 80.8h1v0.5h-1zM323.1 80.8h0.5v0.5h-0.5zM338.6 80.8h0.5v0.5h-0.5zM288.6 81.3h12v0.5h-12zM301.1 81.3h3v0.5h-3zM305.1 81.3h2v0.5h-2zM308.1 81.3h0.5v0.5h-0.5zM309.1 81.3h1.5v0.5h-1.5zM311.6 81.3h1.5v0.5h-1.5zM333.1 81.3h0.5v0.5h-0.5zM288.6 81.8h14.5v0.5h-14.5zM303.6 81.8h1v0.5h-1zM306.1 81.8h0.5v0.5h-0.5zM309.6 81.8h1v0.5h-1zM314.1 81.8h0.5v0.5h-0.5zM321.1 81.8h0.5v0.5h-0.5zM326.1 81.8h0.5v0.5h-0.5zM337.1 81.8h0.5v0.5h-0.5zM288.6 82.3h1v0.5h-1zM290.1 82.3h14.5v0.5h-14.5zM305.6 82.3h0.5v0.5h-0.5zM311.1 82.3h0.5v0.5h-0.5zM312.6 82.3h0.5v0.5h-0.5zM314.1 82.3h0.5v0.5h-0.5zM316.1 82.3h0.5v0.5h-0.5zM317.6 82.3h0.5v0.5h-0.5zM289.1 82.8h5v0.5h-5zM294.6 82.8h9.5v0.5h-9.5zM315.1 82.8h0.5v0.5h-0.5zM316.1 82.8h0.5v0.5h-0.5zM336.6 82.8h0.5v0.5h-0.5zM288.6 83.3h2.5v0.5h-2.5zM291.6 83.3h1v0.5h-1zM293.1 83.3h2v0.5h-2zM295.6 83.3h3.5v0.5h-3.5zM299.6 83.3h1.5v0.5h-1.5zM301.6 83.3h3.5v0.5h-3.5zM308.6 83.3h0.5v0.5h-0.5zM314.6 83.3h0.5v0.5h-0.5zM318.6 83.3h0.5v0.5h-0.5zM288.6 83.8h0.5v0.5h-0.5zM289.6 83.8h3.5v0.5h-3.5zM293.6 83.8h5v0.5h-5zM299.1 83.8h3.5v0.5h-3.5zM305.6 83.8h0.5v0.5h-0.5zM315.1 83.8h0.5v0.5h-0.5zM288.6 84.3h1v0.5h-1zM290.1 84.3h0.5v0.5h-0.5zM291.1 84.3h1.5v0.5h-1.5zM293.1 84.3h3.5v0.5h-3.5zM297.1 84.3h1.5v0.5h-1.5zM299.1 84.3h0.5v0.5h-0.5zM300.1 84.3h0.5v0.5h-0.5zM301.6 84.3h0.5v0.5h-0.5zM302.6 84.3h0.5v0.5h-0.5zM303.6 84.3h0.5v0.5h-0.5zM309.1 84.3h0.5v0.5h-0.5zM341.6 84.3h0.5v0.5h-0.5zM288.6 84.8h1.5v0.5h-1.5zM290.6 84.8h1v0.5h-1zM292.6 84.8h1v0.5h-1zM294.1 84.8h1v0.5h-1zM295.6 84.8h2.5v0.5h-2.5zM298.6 84.8h1v0.5h-1zM300.6 84.8h1v0.5h-1zM302.6 84.8h0.5v0.5h-0.5zM331.6 84.8h0.5v0.5h-0.5zM288.6 85.3h1v0.5h-1zM291.1 85.3h1v0.5h-1zM293.1 85.3h3.5v0.5h-3.5zM297.6 85.3h1.5v0.5h-1.5zM301.1 85.3h1v0.5h-1zM305.6 85.3h0.5v0.5h-0.5zM289.1 85.8h1v0.5h-1zM291.1 85.8h4v0.5h-4zM295.6 85.8h0.5v0.5h-0.5zM296.6 85.8h0.5v0.5h-0.5zM297.6 85.8h0.5v0.5h-0.5zM299.1 85.8h0.5v0.5h-0.5zM300.1 85.8h0.5v0.5h-0.5zM301.6 85.8h0.5v0.5h-0.5zM291.1 86.3h0.5v0.5h-0.5zM292.6 86.3h2v0.5h-2zM296.1 86.3h1v0.5h-1zM298.1 86.3h0.5v0.5h-0.5zM299.1 86.3h1v0.5h-1zM290.6 86.8h3v0.5h-3zM294.1 86.8h1v0.5h-1zM295.6 86.8h1v0.5h-1zM297.1 86.8h1.5v0.5h-1.5zM299.1 86.8h0.5v0.5h-0.5zM302.1 86.8h0.5v0.5h-0.5zM303.1 86.8h0.5v0.5h-0.5zM305.1 86.8h0.5v0.5h-0.5zM308.6 86.8h0.5v0.5h-0.5zM310.1 86.8h0.5v0.5h-0.5zM338.6 86.8h0.5v0.5h-0.5zM289.6 87.3h0.5v0.5h-0.5zM291.6 87.3h1.5v0.5h-1.5zM294.1 87.3h1.5v0.5h-1.5zM296.6 87.3h0.5v0.5h-0.5zM297.6 87.3h2.5v0.5h-2.5zM301.6 87.3h0.5v0.5h-0.5zM302.6 87.3h0.5v0.5h-0.5zM310.1 87.3h0.5v0.5h-0.5zM290.6 87.8h0.5v0.5h-0.5zM291.6 87.8h0.5v0.5h-0.5zM293.1 87.8h1v0.5h-1zM297.6 87.8h0.5v0.5h-0.5zM310.6 87.8h0.5v0.5h-0.5zM288.6 88.3h1v0.5h-1zM290.6 88.3h1v0.5h-1zM293.1 88.3h1v0.5h-1zM294.6 88.3h0.5v0.5h-0.5zM297.6 88.3h0.5v0.5h-0.5zM300.1 88.3h0.5v0.5h-0.5zM301.1 88.3h1v0.5h-1zM304.6 88.3h0.5v0.5h-0.5zM288.6 88.8h1v0.5h-1zM291.1 88.8h0.5v0.5h-0.5zM293.1 88.8h0.5v0.5h-0.5zM296.1 88.8h0.5v0.5h-0.5zM298.6 88.8h0.5v0.5h-0.5zM301.1 88.8h0.5v0.5h-0.5zM302.6 88.8h0.5v0.5h-0.5zM304.1 88.8h1v0.5h-1zM288.6 89.3h0.5v0.5h-0.5zM291.1 89.3h0.5v0.5h-0.5zM293.1 89.3h1v0.5h-1zM298.6 89.3h0.5v0.5h-0.5zM299.6 89.3h1v0.5h-1zM302.6 89.3h0.5v0.5h-0.5zM303.6 89.3h1.5v0.5h-1.5zM320.1 89.3h0.5v0.5h-0.5zM328.1 89.3h0.5v0.5h-0.5zM329.1 89.3h0.5v0.5h-0.5zM346.6 89.3h0.5v0.5h-0.5zM290.6 89.8h0.5v0.5h-0.5zM295.6 89.8h1v0.5h-1zM297.6 89.8h0.5v0.5h-0.5zM310.6 89.8h1v0.5h-1zM294.6 90.3h0.5v0.5h-0.5zM302.1 90.3h1.5v0.5h-1.5zM312.6 90.3h0.5v0.5h-0.5zM342.1 90.3h0.5v0.5h-0.5zM291.6 90.8h0.5v0.5h-0.5zM293.1 90.8h0.5v0.5h-0.5zM297.1 90.8h0.5v0.5h-0.5zM300.1 90.8h0.5v0.5h-0.5zM310.6 90.8h0.5v0.5h-0.5zM294.6 91.3h0.5v0.5h-0.5zM296.6 91.3h0.5v0.5h-0.5zM299.1 91.3h0.5v0.5h-0.5zM303.1 91.3h0.5v0.5h-0.5zM293.6 91.8h0.5v0.5h-0.5zM300.6 91.8h0.5v0.5h-0.5zM302.6 91.8h1v0.5h-1zM306.6 91.8h0.5v0.5h-0.5zM292.6 92.3h0.5v0.5h-0.5zM298.6 92.3h0.5v0.5h-0.5zM299.6 92.3h0.5v0.5h-0.5zM301.6 92.3h0.5v0.5h-0.5zM292.1 92.8h0.5v0.5h-0.5zM296.6 92.8h0.5v0.5h-0.5zM297.6 92.8h0.5v0.5h-0.5zM306.6 92.8h1v0.5h-1zM298.6 93.3h0.5v0.5h-0.5zM306.6 93.3h0.5v0.5h-0.5zM292.6 93.8h0.5v0.5h-0.5zM298.1 93.8h1v0.5h-1zM301.1 93.8h0.5v0.5h-0.5zM303.6 93.8h0.5v0.5h-0.5zM327.6 93.8h0.5v0.5h-0.5zM297.6 94.3h1v0.5h-1zM300.1 94.3h1v0.5h-1zM304.1 94.3h0.5v0.5h-0.5zM334.6 94.3h0.5v0.5h-0.5zM303.6 94.8h0.5v0.5h-0.5zM297.1 95.3h0.5v0.5h-0.5zM302.1 95.3h0.5v0.5h-0.5zM306.1 95.3h0.5v0.5h-0.5zM331.6 95.3h0.5v0.5h-0.5zM334.1 95.3h0.5v0.5h-0.5zM338.6 95.3h0.5v0.5h-0.5zM289.1 95.8h0.5v0.5h-0.5zM297.1 95.8h0.5v0.5h-0.5zM301.1 95.8h0.5v0.5h-0.5zM306.6 95.8h0.5v0.5h-0.5zM315.1 95.8h0.5v0.5h-0.5zM299.1 96.3h0.5v0.5h-0.5zM313.6 96.3h0.5v0.5h-0.5zM293.6 96.8h0.5v0.5h-0.5zM302.1 96.8h0.5v0.5h-0.5zM304.6 96.8h0.5v0.5h-0.5zM301.6 97.3h0.5v0.5h-0.5zM303.1 97.3h0.5v0.5h-0.5zM307.1 97.3h0.5v0.5h-0.5zM288.6 97.8h0.5v0.5h-0.5zM290.1 97.8h0.5v0.5h-0.5zM291.6 97.8h0.5v0.5h-0.5zM347.1 98.3h0.5v0.5h-0.5zM301.1 98.8h0.5v0.5h-0.5zM302.6 98.8h0.5v0.5h-0.5zM298.1 99.3h0.5v0.5h-0.5zM291.1 99.8h0.5v0.5h-0.5zM298.1 99.8h0.5v0.5h-0.5zM306.1 99.8h0.5v0.5h-0.5zM317.1 99.8h0.5v0.5h-0.5zM294.1 100.3h0.5v0.5h-0.5zM332.1 100.3h0.5v0.5h-0.5zM294.1 100.8h0.5v0.5h-0.5zM299.1 100.8h0.5v0.5h-0.5zM296.1 101.8h0.5v0.5h-0.5zM297.1 101.8h0.5v0.5h-0.5zM326.1 101.8h0.5v0.5h-0.5zM290.6 102.3h0.5v0.5h-0.5zM302.6 102.3h0.5v0.5h-0.5zM306.1 102.3h0.5v0.5h-0.5zM291.1 102.8h0.5v0.5h-0.5zM302.1 102.8h0.5v0.5h-0.5zM309.1 102.8h0.5v0.5h-0.5zM310.6 102.8h0.5v0.5h-0.5zM294.6 103.3h0.5v0.5h-0.5zM292.1 103.8h0.5v0.5h-0.5zM297.1 104.3h0.5v0.5h-0.5zM333.1 104.3h0.5v0.5h-0.5zM295.1 104.8h0.5v0.5h-0.5zM306.1 105.8h0.5v0.5h-0.5zM321.1 106.3h0.5v0.5h-0.5z" fill="#000" filter="url(#bl)"/>
<path d="M423.8 41.8h0.5v0.5h-0.5zM431.3 46.3h0.5v0.5h-0.5zM381.8 46.8h0.5v0.5h-0.5zM433.3 47.3h0.5v0.5h-0.5zM405.3 48.8h0.5v0.5h-0.5zM378.8 51.8h0.5v0.5h-0.5zM381.8 52.3h0.5v0.5h-0.5zM379.3 52.8h0.5v0.5h-0.5zM384.8 52.8h0.5v0.5h-0.5zM386.3 52.8h0.5v0.5h-0.5zM384.3 53.3h0.5v0.5h-0.5zM385.8 53.3h0.5v0.5h-0.5zM405.8 53.3h0.5v0.5h-0.5zM382.3 53.8h1.5v0.5h-1.5zM384.3 53.8h1v0.5h-1zM385.8 53.8h0.5v0.5h-0.5zM376.3 54.3h0.5v0.5h-0.5zM380.8 54.3h0.5v0.5h-0.5zM381.8 54.3h0.5v0.5h-0.5zM386.3 54.3h0.5v0.5h-0.5zM388.3 54.3h1v0.5h-1zM374.8 54.8h1v0.5h-1zM381.3 54.8h0.5v0.5h-0.5zM382.3 54.8h1v0.5h-1zM386.3 54.8h0.5v0.5h-0.5zM387.8 54.8h0.5v0.5h-0.5zM375.8 55.3h0.5v0.5h-0.5zM378.3 55.3h1v0.5h-1zM380.3 55.3h0.5v0.5h-0.5zM381.3 55.3h2v0.5h-2zM384.8 55.3h0.5v0.5h-0.5zM386.8 55.3h0.5v0.5h-0.5zM375.3 55.8h1v0.5h-1zM378.8 55.8h0.5v0.5h-0.5zM379.8 55.8h0.5v0.5h-0.5zM380.8 55.8h0.5v0.5h-0.5zM382.8 55.8h0.5v0.5h-0.5zM383.8 55.8h1.5v0.5h-1.5zM386.8 55.8h1.5v0.5h-1.5zM389.3 55.8h1v0.5h-1zM394.3 55.8h0.5v0.5h-0.5zM376.3 56.3h0.5v0.5h-0.5zM377.8 56.3h0.5v0.5h-0.5zM378.8 56.3h6v0.5h-6zM385.3 56.3h1v0.5h-1zM387.3 56.3h0.5v0.5h-0.5zM411.8 56.3h0.5v0.5h-0.5zM373.3 56.8h0.5v0.5h-0.5zM376.3 56.8h0.5v0.5h-0.5zM377.8 56.8h4v0.5h-4zM382.8 56.8h2.5v0.5h-2.5zM385.8 56.8h0.5v0.5h-0.5zM386.8 56.8h0.5v0.5h-0.5zM388.8 56.8h0.5v0.5h-0.5zM390.8 56.8h0.5v0.5h-0.5zM402.3 56.8h0.5v0.5h-0.5zM373.8 57.3h0.5v0.5h-0.5zM375.3 57.3h1v0.5h-1zM377.3 57.3h6v0.5h-6zM383.8 57.3h1.5v0.5h-1.5zM386.8 57.3h0.5v0.5h-0.5zM387.8 57.3h0.5v0.5h-0.5zM389.8 57.3h0.5v0.5h-0.5zM409.8 57.3h0.5v0.5h-0.5zM417.3 57.3h0.5v0.5h-0.5zM372.8 57.8h1v0.5h-1zM374.3 57.8h0.5v0.5h-0.5zM375.8 57.8h2v0.5h-2zM378.3 57.8h1v0.5h-1zM379.8 57.8h5.5v0.5h-5.5zM385.8 57.8h1.5v0.5h-1.5zM387.8 57.8h0.5v0.5h-0.5zM414.8 57.8h0.5v0.5h-0.5zM373.3 58.3h1.5v0.5h-1.5zM375.8 58.3h11v0.5h-11zM387.3 58.3h2v0.5h-2zM397.8 58.3h0.5v0.5h-0.5zM406.3 58.3h0.5v0.5h-0.5zM372.8 58.8h0.5v0.5h-0.5zM374.3 58.8h8v0.5h-8zM382.8 58.8h2v0.5h-2zM385.3 58.8h1.5v0.5h-1.5zM387.3 58.8h1v0.5h-1zM390.8 58.8h0.5v0.5h-0.5zM395.8 58.8h0.5v0.5h-0.5zM399.8 58.8h0.5v0.5h-0.5zM403.8 58.8h0.5v0.5h-0.5zM372.3 59.3h0.5v0.5h-0.5zM373.3 59.3h0.5v0.5h-0.5zM374.3 59.3h1v0.5h-1zM375.8 59.3h10v0.5h-10zM386.3 59.3h2v0.5h-2zM389.3 59.3h0.5v0.5h-0.5zM390.3 59.3h0.5v0.5h-0.5zM393.8 59.3h1v0.5h-1zM396.3 59.3h1v0.5h-1zM407.3 59.3h0.5v0.5h-0.5zM423.3 59.3h0.5v0.5h-0.5zM370.8 59.8h0.5v0.5h-0.5zM373.3 59.8h0.5v0.5h-0.5zM374.3 59.8h0.5v0.5h-0.5zM375.3 59.8h11.5v0.5h-11.5zM387.3 59.8h2v0.5h-2zM403.8 59.8h0.5v0.5h-0.5zM421.3 59.8h0.5v0.5h-0.5zM373.3 60.3h14.5v0.5h-14.5zM388.3 60.3h0.5v0.5h-0.5zM389.8 60.3h0.5v0.5h-0.5zM393.3 60.3h0.5v0.5h-0.5zM394.3 60.3h0.5v0.5h-0.5zM396.8 60.3h0.5v0.5h-0.5zM398.8 60.3h0.5v0.5h-0.5zM405.8 60.3h1v0.5h-1zM412.3 60.3h0.5v0.5h-0.5zM371.8 60.8h18v0.5h-18zM391.8 60.8h1v0.5h-1zM417.3 60.8h1v0.5h-1zM419.8 60.8h1v0.5h-1zM372.8 61.3h16v0.5h-16zM394.8 61.3h0.5v0.5h-0.5zM401.3 61.3h0.5v0.5h-0.5zM403.3 61.3h0.5v0.5h-0.5zM371.3 61.8h0.5v0.5h-0.5zM372.8 61.8h16.5v0.5h-16.5zM390.8 61.8h1v0.5h-1zM395.3 61.8h0.5v0.5h-0.5zM416.3 61.8h0.5v0.5h-0.5zM424.3 61.8h0.5v0.5h-0.5zM427.8 61.8h0.5v0.5h-0.5zM370.3 62.3h0.5v0.5h-0.5zM371.3 62.3h17v0.5h-17zM388.8 62.3h0.5v0.5h-0.5zM390.3 62.3h0.5v0.5h-0.5zM392.8 62.3h0.5v0.5h-0.5zM394.3 62.3h0.5v0.5h-0.5zM397.3 62.3h1v0.5h-1zM401.8 62.3h0.5v0.5h-0.5zM404.8 62.3h0.5v0.5h-0.5zM406.3 62.3h0.5v0.5h-0.5zM411.8 62.3h0.5v0.5h-0.5zM426.3 62.3h0.5v0.5h-0.5zM370.3 62.8h0.5v0.5h-0.5zM371.8 62.8h17.5v0.5h-17.5zM389.8 62.8h0.5v0.5h-0.5zM391.3 62.8h0.5v0.5h-0.5zM392.3 62.8h1v0.5h-1zM394.3 62.8h0.5v0.5h-0.5zM404.3 62.8h0.5v0.5h-0.5zM406.8 62.8h0.5v0.5h-0.5zM407.8 62.8h0.5v0.5h-0.5zM414.8 62.8h0.5v0.5h-0.5zM416.8 62.8h0.5v0.5h-0.5zM370.3 63.3h0.5v0.5h-0.5zM371.3 63.3h4v0.5h-4zM375.8 63.3h12.5v0.5h-12.5zM388.8 63.3h0.5v0.5h-0.5zM389.8 63.3h0.5v0.5h-0.5zM400.3 63.3h1v0.5h-1zM401.8 63.3h0.5v0.5h-0.5zM370.8 63.8h17.5v0.5h-17.5zM388.8 63.8h0.5v0.5h-0.5zM389.8 63.8h0.5v0.5h-0.5zM391.3 63.8h3v0.5h-3zM396.8 63.8h0.5v0.5h-0.5zM402.3 63.8h0.5v0.5h-0.5zM407.3 63.8h0.5v0.5h-0.5zM412.8 63.8h0.5v0.5h-0.5zM415.3 63.8h0.5v0.5h-0.5zM421.3 63.8h0.5v0.5h-0.5zM370.3 64.3h1.5v0.5h-1.5zM372.3 64.3h1.5v0.5h-1.5zM374.3 64.3h16v0.5h-16zM391.3 64.3h1v0.5h-1zM393.8 64.3h1v0.5h-1zM395.3 64.3h0.5v0.5h-0.5zM396.3 64.3h0.5v0.5h-0.5zM398.8 64.3h0.5v0.5h-0.5zM403.8 64.3h0.5v0.5h-0.5zM410.3 64.3h0.5v0.5h-0.5zM412.8 64.3h0.5v0.5h-0.5zM370.3 64.8h0.5v0.5h-0.5zM371.3 64.8h19v0.5h-19zM391.8 64.8h0.5v0.5h-0.5zM394.8 64.8h0.5v0.5h-0.5zM397.8 64.8h0.5v0.5h-0.5zM399.8 64.8h0.5v0.5h-0.5zM402.3 64.8h0.5v0.5h-0.5zM403.3 64.8h1v0.5h-1zM406.8 64.8h0.5v0.5h-0.5zM414.3 64.8h0.5v0.5h-0.5zM415.3 64.8h0.5v0.5h-0.5zM370.8 65.3h19v0.5h-19zM392.3 65.3h0.5v0.5h-0.5zM395.8 65.3h1v0.5h-1zM401.8 65.3h1v0.5h-1zM404.3 65.3h0.5v0.5h-0.5zM408.8 65.3h0.5v0.5h-0.5zM416.3 65.3h0.5v0.5h-0.5zM417.8 65.3h0.5v0.5h-0.5zM369.8 65.8h1v0.5h-1zM371.3 65.8h17.5v0.5h-17.5zM389.3 65.8h1v0.5h-1zM390.8 65.8h0.5v0.5h-0.5zM395.8 65.8h1v0.5h-1zM398.3 65.8h0.5v0.5h-0.5zM399.8 65.8h1v0.5h-1zM403.8 65.8h2.5v0.5h-2.5zM408.3 65.8h0.5v0.5h-0.5zM413.3 65.8h0.5v0.5h-0.5zM424.8 65.8h0.5v0.5h-0.5zM370.3 66.3h20v0.5h-20zM390.8 66.3h0.5v0.5h-0.5zM393.3 66.3h0.5v0.5h-0.5zM395.3 66.3h1v0.5h-1zM398.3 66.3h1v0.5h-1zM401.8 66.3h0.5v0.5h-0.5zM405.8 66.3h0.5v0.5h-0.5zM409.3 66.3h1v0.5h-1zM410.8 66.3h1v0.5h-1zM412.3 66.3h0.5v0.5h-0.5zM414.3 66.3h0.5v0.5h-0.5zM418.8 66.3h0.5v0.5h-0.5zM369.8 66.8h16.5v0.5h-16.5zM386.8 66.8h1v0.5h-1zM388.3 66.8h1.5v0.5h-1.5zM391.3 66.8h0.5v0.5h-0.5zM393.8 66.8h0.5v0.5h-0.5zM394.8 66.8h0.5v0.5h-0.5zM396.8 66.8h0.5v0.5h-0.5zM404.3 66.8h0.5v0.5h-0.5zM410.3 66.8h0.5v0.5h-0.5zM411.3 66.8h0.5v0.5h-0.5zM426.8 66.8h0.5v0.5h-0.5zM369.8 67.3h20v0.5h-20zM390.3 67.3h1v0.5h-1zM393.3 67.3h1v0.5h-1zM395.3 67.3h0.5v0.5h-0.5zM400.8 67.3h0.5v0.5h-0.5zM402.3 67.3h1v0.5h-1zM405.8 67.3h0.5v0.5h-0.5zM408.3 67.3h1v0.5h-1zM410.8 67.3h0.5v0.5h-0.5zM414.3 67.3h0.5v0.5h-0.5zM418.8 67.3h0.5v0.5h-0.5zM420.3 67.3h0.5v0.5h-0.5zM421.8 67.3h0.5v0.5h-0.5zM369.8 67.8h20.5v0.5h-20.5zM390.8 67.8h0.5v0.5h-0.5zM392.8 67.8h0.5v0.5h-0.5zM395.3 67.8h0.5v0.5h-0.5zM397.3 67.8h1.5v0.5h-1.5zM403.3 67.8h0.5v0.5h-0.5zM406.8 67.8h1.5v0.5h-1.5zM369.3 68.3h0.5v0.5h-0.5zM370.3 68.3h19v0.5h-19zM395.3 68.3h1v0.5h-1zM400.8 68.3h0.5v0.5h-0.5zM404.3 68.3h0.5v0.5h-0.5zM405.8 68.3h0.5v0.5h-0.5zM408.3 68.3h0.5v0.5h-0.5zM411.3 68.3h0.5v0.5h-0.5zM420.3 68.3h0.5v0.5h-0.5zM370.3 68.8h18.5v0.5h-18.5zM389.3 68.8h0.5v0.5h-0.5zM394.3 68.8h0.5v0.5h-0.5zM395.8 68.8h1.5v0.5h-1.5zM400.3 68.8h0.5v0.5h-0.5zM402.3 68.8h0.5v0.5h-0.5zM403.8 68.8h1v0.5h-1zM412.3 68.8h0.5v0.5h-0.5zM416.3 68.8h0.5v0.5h-0.5zM369.3 69.3h0.5v0.5h-0.5zM370.3 69.3h17.5v0.5h-17.5zM388.8 69.3h1v0.5h-1zM391.3 69.3h1v0.5h-1zM396.3 69.3h0.5v0.5h-0.5zM408.8 69.3h0.5v0.5h-0.5zM410.8 69.3h0.5v0.5h-0.5zM418.8 69.3h0.5v0.5h-0.5zM369.3 69.8h20.5v0.5h-20.5zM392.3 69.8h1v0.5h-1zM402.3 69.8h0.5v0.5h-0.5zM403.3 69.8h0.5v0.5h-0.5zM404.8 69.8h0.5v0.5h-0.5zM406.3 69.8h0.5v0.5h-0.5zM408.3 69.8h0.5v0.5h-0.5zM416.8 69.8h0.5v0.5h-0.5zM425.8 69.8h0.5v0.5h-0.5zM369.8 70.3h18v0.5h-18zM388.3 70.3h0.5v0.5h-0.5zM389.8 70.3h1v0.5h-1zM393.3 70.3h0.5v0.5h-0.5zM396.3 70.3h0.5v0.5h-0.5zM400.8 70.3h1v0.5h-1zM402.3 70.3h1.5v0.5h-1.5zM404.3 70.3h0.5v0.5h-0.5zM410.3 70.3h0.5v0.5h-0.5zM414.3 70.3h0.5v0.5h-0.5zM369.8 70.8h0.5v0.5h-0.5zM370.8 70.8h19v0.5h-19zM390.3 70.8h0.5v0.5h-0.5zM392.3 70.8h0.5v0.5h-0.5zM394.3 70.8h0.5v0.5h-0.5zM396.8 70.8h0.5v0.5h-0.5zM398.8 70.8h0.5v0.5h-0.5zM399.8 70.8h0.5v0.5h-0.5zM401.3 70.8h0.5v0.5h-0.5zM405.3 70.8h0.5v0.5h-0.5zM408.8 70.8h0.5v0.5h-0.5zM369.3 71.3h0.5v0.5h-0.5zM370.3 71.3h11.5v0.5h-11.5zM382.8 71.3h5v0.5h-5zM388.3 71.3h0.5v0.5h-0.5zM391.3 71.3h0.5v0.5h-0.5zM393.8 71.3h0.5v0.5h-0.5zM395.8 71.3h0.5v0.5h-0.5zM398.3 71.3h1v0.5h-1zM408.3 71.3h0.5v0.5h-0.5zM411.3 71.3h0.5v0.5h-0.5zM369.3 71.8h1.5v0.5h-1.5zM371.3 71.8h16v0.5h-16zM387.8 71.8h0.5v0.5h-0.5zM389.3 71.8h1v0.5h-1zM393.3 71.8h0.5v0.5h-0.5zM394.8 71.8h0.5v0.5h-0.5zM396.8 71.8h0.5v0.5h-0.5zM397.8 71.8h0.5v0.5h-0.5zM399.8 71.8h0.5v0.5h-0.5zM402.8 71.8h0.5v0.5h-0.5zM415.3 71.8h0.5v0.5h-0.5zM369.3 72.3h18.5v0.5h-18.5zM388.3 72.3h0.5v0.5h-0.5zM392.8 72.3h0.5v0.5h-0.5zM397.3 72.3h0.5v0.5h-0.5zM399.8 72.3h0.5v0.5h-0.5zM410.3 72.3h0.5v0.5h-0.5zM411.8 72.3h0.5v0.5h-0.5zM418.8 72.3h0.5v0.5h-0.5zM369.8 72.8h18v0.5h-18zM388.3 72.8h0.5v0.5h-0.5zM391.8 72.8h0.5v0.5h-0.5zM392.8 72.8h0.5v0.5h-0.5zM395.3 72.8h1v0.5h-1zM397.8 72.8h0.5v0.5h-0.5zM400.8 72.8h0.5v0.5h-0.5zM402.3 72.8h0.5v0.5h-0.5zM369.3 73.3h0.5v0.5h-0.5zM370.8 73.3h16.5v0.5h-16.5zM387.8 73.3h1v0.5h-1zM390.8 73.3h0.5v0.5h-0.5zM396.3 73.3h0.5v0.5h-0.5zM397.3 73.3h0.5v0.5h-0.5zM400.3 73.3h0.5v0.5h-0.5zM401.3 73.3h0.5v0.5h-0.5zM402.8 73.3h0.5v0.5h-0.5zM404.8 73.3h0.5v0.5h-0.5zM369.3 73.8h16.5v0.5h-16.5zM386.3 73.8h2v0.5h-2zM390.3 73.8h1.5v0.5h-1.5zM392.8 73.8h0.5v0.5h-0.5zM397.3 73.8h0.5v0.5h-0.5zM400.3 73.8h0.5v0.5h-0.5zM402.8 73.8h0.5v0.5h-0.5zM403.8 73.8h0.5v0.5h-0.5zM410.3 73.8h0.5v0.5h-0.5zM416.8 73.8h0.5v0.5h-0.5zM369.8 74.3h16v0.5h-16zM388.3 74.3h0.5v0.5h-0.5zM391.8 74.3h0.5v0.5h-0.5zM393.3 74.3h0.5v0.5h-0.5zM398.8 74.3h0.5v0.5h-0.5zM404.3 74.3h0.5v0.5h-0.5zM409.8 74.3h0.5v0.5h-0.5zM412.8 74.3h0.5v0.5h-0.5zM369.3 74.8h0.5v0.5h-0.5zM370.3 74.8h1v0.5h-1zM371.8 74.8h14v0.5h-14zM386.3 74.8h0.5v0.5h-0.5zM387.8 74.8h0.5v0.5h-0.5zM390.8 74.8h0.5v0.5h-0.5zM402.3 74.8h0.5v0.5h-0.5zM369.3 75.3h2v0.5h-2zM371.8 75.3h13v0.5h-13zM385.3 75.3h1v0.5h-1zM392.3 75.3h0.5v0.5h-0.5zM396.3 75.3h0.5v0.5h-0.5zM400.8 75.3h0.5v0.5h-0.5zM369.3 75.8h0.5v0.5h-0.5zM370.3 75.8h15.5v0.5h-15.5zM386.3 75.8h1v0.5h-1zM388.8 75.8h0.5v0.5h-0.5zM408.3 75.8h0.5v0.5h-0.5zM370.3 76.3h1v0.5h-1zM371.8 76.3h15v0.5h-15zM395.8 76.3h0.5v0.5h-0.5zM396.8 76.3h0.5v0.5h-0.5zM369.3 76.8h4v0.5h-4zM373.8 76.8h12v0.5h-12zM386.3 76.8h1v0.5h-1zM393.3 76.8h0.5v0.5h-0.5zM395.3 76.8h0.5v0.5h-0.5zM403.8 76.8h0.5v0.5h-0.5zM405.8 76.8h0.5v0.5h-0.5zM370.3 77.3h2v0.5h-2zM372.8 77.3h11.5v0.5h-11.5zM384.8 77.3h0.5v0.5h-0.5zM386.8 77.3h0.5v0.5h-0.5zM389.8 77.3h0.5v0.5h-0.5zM392.3 77.3h0.5v0.5h-0.5zM394.8 77.3h0.5v0.5h-0.5zM399.8 77.3h0.5v0.5h-0.5zM370.3 77.8h15v0.5h-15zM396.3 77.8h0.5v0.5h-0.5zM370.8 78.3h1v0.5h-1zM372.3 78.3h9.5v0.5h-9.5zM382.3 78.3h1v0.5h-1zM383.8 78.3h0.5v0.5h-0.5zM386.3 78.3h0.5v0.5h-0.5zM387.3 78.3h0.5v0.5h-0.5zM392.3 78.3h0.5v0.5h-0.5zM396.3 78.3h0.5v0.5h-0.5zM409.8 78.3h0.5v0.5h-0.5zM410.8 78.3h0.5v0.5h-0.5zM370.8 78.8h1v0.5h-1zM372.3 78.8h0.5v0.5h-0.5zM373.3 78.8h0.5v0.5h-0.5zM374.3 78.8h3.5v0.5h-3.5zM378.3 78.8h3.5v0.5h-3.5zM382.3 78.8h0.5v0.5h-0.5zM384.3 78.8h0.5v0.5h-0.5zM401.3 78.8h0.5v0.5h-0.5zM370.3 79.3h1.5v0.5h-1.5zM372.3 79.3h5.5v0.5h-5.5zM378.8 79.3h1.5v0.5h-1.5zM380.8 79.3h1v0.5h-1zM382.3 79.3h1v0.5h-1zM384.3 79.3h1v0.5h-1zM388.3 79.3h1v0.5h-1zM370.3 79.8h0.5v0.5h-0.5zM371.8 79.8h0.5v0.5h-0.5zM372.8 79.8h0.5v0.5h-0.5zM373.8 79.8h2.5v0.5h-2.5zM377.3 79.8h1v0.5h-1zM378.8 79.8h2.5v0.5h-2.5zM381.8 79.8h0.5v0.5h-0.5zM382.8 79.8h0.5v0.5h-0.5zM383.8 79.8h1v0.5h-1zM385.3 79.8h0.5v0.5h-0.5zM390.3 79.8h0.5v0.5h-0.5zM369.8 80.3h0.5v0.5h-0.5zM370.8 80.3h0.5v0.5h-0.5zM371.8 80.3h2v0.5h-2zM374.3 80.3h1.5v0.5h-1.5zM376.3 80.3h2.5v0.5h-2.5zM379.3 80.3h2.5v0.5h-2.5zM388.3 80.3h0.5v0.5h-0.5zM371.3 80.8h0.5v0.5h-0.5zM372.3 80.8h0.5v0.5h-0.5zM373.8 80.8h0.5v0.5h-0.5zM374.8 80.8h2.5v0.5h-2.5zM381.3 80.8h0.5v0.5h-0.5zM393.8 80.8h0.5v0.5h-0.5zM398.8 80.8h0.5v0.5h-0.5zM370.3 81.3h0.5v0.5h-0.5zM371.8 81.3h0.5v0.5h-0.5zM374.3 81.3h2v0.5h-2zM377.3 81.3h0.5v0.5h-0.5zM378.8 81.3h1.5v0.5h-1.5zM381.3 81.3h0.5v0.5h-0.5zM383.3 81.3h0.5v0.5h-0.5zM373.3 81.8h0.5v0.5h-0.5zM375.3 81.8h1.5v0.5h-1.5zM377.3 81.8h0.5v0.5h-0.5zM380.3 81.8h0.5v0.5h-0.5zM382.3 81.8h1v0.5h-1zM384.8 81.8h0.5v0.5h-0.5zM388.3 81.8h0.5v0.5h-0.5zM400.8 81.8h0.5v0.5h-0.5zM370.8 82.3h0.5v0.5h-0.5zM372.8 82.3h0.5v0.5h-0.5zM374.3 82.3h0.5v0.5h-0.5zM375.8 82.3h0.5v0.5h-0.5zM377.3 82.3h1v0.5h-1zM378.8 82.3h0.5v0.5h-0.5zM383.3 82.3h0.5v0.5h-0.5zM385.3 82.3h0.5v0.5h-0.5zM391.8 82.3h1v0.5h-1zM397.8 82.3h0.5v0.5h-0.5zM376.8 82.8h0.5v0.5h-0.5zM378.8 82.8h0.5v0.5h-0.5zM381.8 82.8h0.5v0.5h-0.5zM386.3 82.8h0.5v0.5h-0.5zM369.3 83.3h0.5v0.5h-0.5zM373.8 83.3h0.5v0.5h-0.5zM376.3 83.3h0.5v0.5h-0.5zM377.3 83.3h0.5v0.5h-0.5zM379.3 83.3h0.5v0.5h-0.5zM388.3 83.3h0.5v0.5h-0.5zM389.8 83.3h0.5v0.5h-0.5zM395.3 83.3h0.5v0.5h-0.5zM383.3 83.8h0.5v0.5h-0.5zM375.3 84.3h0.5v0.5h-0.5zM376.3 84.3h0.5v0.5h-0.5zM387.3 84.3h1v0.5h-1zM397.8 84.3h0.5v0.5h-0.5zM374.3 84.8h0.5v0.5h-0.5zM381.8 84.8h0.5v0.5h-0.5zM382.8 84.8h0.5v0.5h-0.5zM388.3 84.8h0.5v0.5h-0.5zM389.3 84.8h0.5v0.5h-0.5zM377.3 85.3h0.5v0.5h-0.5zM381.3 85.3h0.5v0.5h-0.5zM385.3 85.3h0.5v0.5h-0.5zM386.3 85.3h0.5v0.5h-0.5zM384.8 85.8h0.5v0.5h-0.5zM388.3 85.8h0.5v0.5h-0.5zM389.3 85.8h0.5v0.5h-0.5zM398.3 85.8h0.5v0.5h-0.5zM379.8 86.3h0.5v0.5h-0.5zM386.8 86.3h1v0.5h-1zM388.3 86.3h1v0.5h-1zM373.3 86.8h0.5v0.5h-0.5zM387.3 86.8h0.5v0.5h-0.5zM388.8 86.8h0.5v0.5h-0.5zM379.3 87.3h0.5v0.5h-0.5zM385.8 87.3h1v0.5h-1zM387.8 87.3h2v0.5h-2zM392.8 87.3h0.5v0.5h-0.5zM377.8 87.8h0.5v0.5h-0.5zM378.8 87.8h0.5v0.5h-0.5zM380.8 87.8h0.5v0.5h-0.5zM385.8 87.8h0.5v0.5h-0.5zM386.8 87.8h1.5v0.5h-1.5zM388.8 87.8h1.5v0.5h-1.5zM378.3 88.3h1v0.5h-1zM384.3 88.3h0.5v0.5h-0.5zM387.8 88.3h2v0.5h-2zM391.3 88.3h0.5v0.5h-0.5zM372.3 88.8h0.5v0.5h-0.5zM382.8 88.8h0.5v0.5h-0.5zM387.3 88.8h3v0.5h-3zM390.8 88.8h0.5v0.5h-0.5zM391.8 88.8h0.5v0.5h-0.5zM374.8 89.3h0.5v0.5h-0.5zM378.8 89.3h1v0.5h-1zM380.8 89.3h0.5v0.5h-0.5zM381.8 89.3h0.5v0.5h-0.5zM387.8 89.3h2.5v0.5h-2.5zM391.3 89.3h0.5v0.5h-0.5zM372.8 89.8h1v0.5h-1zM377.3 89.8h0.5v0.5h-0.5zM378.3 89.8h1v0.5h-1zM381.8 89.8h0.5v0.5h-0.5zM383.3 89.8h0.5v0.5h-0.5zM385.8 89.8h1v0.5h-1zM387.3 89.8h1.5v0.5h-1.5zM389.8 89.8h0.5v0.5h-0.5zM390.8 89.8h0.5v0.5h-0.5zM372.3 90.3h0.5v0.5h-0.5zM375.3 90.3h0.5v0.5h-0.5zM377.8 90.3h0.5v0.5h-0.5zM382.3 90.3h0.5v0.5h-0.5zM384.3 90.3h0.5v0.5h-0.5zM385.3 90.3h0.5v0.5h-0.5zM386.8 90.3h1v0.5h-1zM388.3 90.3h2.5v0.5h-2.5zM391.3 90.3h0.5v0.5h-0.5zM370.8 90.8h0.5v0.5h-0.5zM374.3 90.8h0.5v0.5h-0.5zM376.3 90.8h0.5v0.5h-0.5zM378.3 90.8h0.5v0.5h-0.5zM379.3 90.8h0.5v0.5h-0.5zM380.3 90.8h0.5v0.5h-0.5zM381.3 90.8h0.5v0.5h-0.5zM383.8 90.8h0.5v0.5h-0.5zM385.8 90.8h0.5v0.5h-0.5zM386.8 90.8h1.5v0.5h-1.5zM388.8 90.8h1.5v0.5h-1.5zM392.3 90.8h0.5v0.5h-0.5zM369.3 91.3h0.5v0.5h-0.5zM378.3 91.3h0.5v0.5h-0.5zM379.3 91.3h1v0.5h-1zM380.8 91.3h0.5v0.5h-0.5zM383.8 91.3h0.5v0.5h-0.5zM386.8 91.3h0.5v0.5h-0.5zM387.8 91.3h1.5v0.5h-1.5zM390.3 91.3h0.5v0.5h-0.5zM370.3 91.8h0.5v0.5h-0.5zM372.8 91.8h0.5v0.5h-0.5zM375.3 91.8h0.5v0.5h-0.5zM377.3 91.8h1v0.5h-1zM379.8 91.8h0.5v0.5h-0.5zM387.3 91.8h1v0.5h-1zM389.3 91.8h0.5v0.5h-0.5zM390.3 91.8h1v0.5h-1zM416.3 91.8h0.5v0.5h-0.5zM377.3 92.3h0.5v0.5h-0.5zM378.3 92.3h0.5v0.5h-0.5zM380.8 92.3h0.5v0.5h-0.5zM381.8 92.3h0.5v0.5h-0.5zM387.3 92.3h2.5v0.5h-2.5zM429.8 92.3h0.5v0.5h-0.5zM375.3 92.8h0.5v0.5h-0.5zM379.8 92.8h0.5v0.5h-0.5zM380.8 92.8h0.5v0.5h-0.5zM381.8 92.8h0.5v0.5h-0.5zM384.3 92.8h1.5v0.5h-1.5zM386.3 92.8h0.5v0.5h-0.5zM387.8 92.8h0.5v0.5h-0.5zM388.8 92.8h1.5v0.5h-1.5zM379.8 93.3h0.5v0.5h-0.5zM383.8 93.3h1v0.5h-1zM385.3 93.3h2v0.5h-2zM387.8 93.3h1.5v0.5h-1.5zM389.8 93.3h0.5v0.5h-0.5zM370.3 93.8h0.5v0.5h-0.5zM372.3 93.8h0.5v0.5h-0.5zM382.8 93.8h0.5v0.5h-0.5zM387.8 93.8h0.5v0.5h-0.5zM388.8 93.8h0.5v0.5h-0.5zM392.8 93.8h0.5v0.5h-0.5zM374.3 94.3h0.5v0.5h-0.5zM375.8 94.3h0.5v0.5h-0.5zM377.8 94.3h0.5v0.5h-0.5zM379.8 94.3h1v0.5h-1zM386.8 94.3h0.5v0.5h-0.5zM388.3 94.3h0.5v0.5h-0.5zM390.8 94.3h0.5v0.5h-0.5zM373.3 94.8h0.5v0.5h-0.5zM379.3 94.8h0.5v0.5h-0.5zM382.3 94.8h0.5v0.5h-0.5zM385.3 94.8h1v0.5h-1zM387.3 94.8h0.5v0.5h-0.5zM388.3 94.8h1v0.5h-1zM371.8 95.3h0.5v0.5h-0.5zM374.3 95.3h0.5v0.5h-0.5zM378.8 95.3h1v0.5h-1zM380.3 95.3h0.5v0.5h-0.5zM381.3 95.3h1v0.5h-1zM385.8 95.3h0.5v0.5h-0.5zM387.3 95.3h0.5v0.5h-0.5zM388.3 95.3h0.5v0.5h-0.5zM370.8 95.8h0.5v0.5h-0.5zM376.3 95.8h0.5v0.5h-0.5zM388.8 95.8h1v0.5h-1zM391.8 95.8h0.5v0.5h-0.5zM377.3 96.3h0.5v0.5h-0.5zM382.3 96.3h0.5v0.5h-0.5zM384.8 96.3h0.5v0.5h-0.5zM386.8 96.3h1v0.5h-1zM391.8 96.3h0.5v0.5h-0.5zM424.3 96.3h0.5v0.5h-0.5zM375.8 96.8h0.5v0.5h-0.5zM381.3 96.8h1v0.5h-1zM388.8 96.8h0.5v0.5h-0.5zM372.8 97.3h0.5v0.5h-0.5zM378.3 97.3h0.5v0.5h-0.5zM380.3 97.3h0.5v0.5h-0.5zM386.8 97.3h0.5v0.5h-0.5zM388.3 97.3h0.5v0.5h-0.5zM395.3 97.3h0.5v0.5h-0.5zM374.8 97.8h0.5v0.5h-0.5zM378.8 97.8h0.5v0.5h-0.5zM379.8 97.8h1v0.5h-1zM381.8 97.8h0.5v0.5h-0.5zM384.3 97.8h0.5v0.5h-0.5zM387.3 97.8h0.5v0.5h-0.5zM383.3 98.3h0.5v0.5h-0.5zM384.8 98.3h0.5v0.5h-0.5zM387.8 98.3h0.5v0.5h-0.5zM398.3 98.3h0.5v0.5h-0.5zM374.8 98.8h0.5v0.5h-0.5zM381.3 98.8h0.5v0.5h-0.5zM384.3 98.8h0.5v0.5h-0.5zM393.8 98.8h0.5v0.5h-0.5zM371.8 99.3h0.5v0.5h-0.5zM378.8 99.3h0.5v0.5h-0.5zM382.3 99.3h0.5v0.5h-0.5zM385.8 99.3h0.5v0.5h-0.5zM376.8 99.8h0.5v0.5h-0.5zM383.8 99.8h0.5v0.5h-0.5zM386.8 99.8h0.5v0.5h-0.5zM382.8 100.3h0.5v0.5h-0.5zM386.8 100.3h0.5v0.5h-0.5zM374.8 100.8h0.5v0.5h-0.5zM376.8 100.8h0.5v0.5h-0.5zM381.3 100.8h0.5v0.5h-0.5zM384.8 100.8h0.5v0.5h-0.5zM391.3 100.8h0.5v0.5h-0.5zM371.8 101.8h0.5v0.5h-0.5zM373.8 101.8h0.5v0.5h-0.5zM377.8 101.8h0.5v0.5h-0.5zM384.8 101.8h1v0.5h-1zM378.8 102.3h0.5v0.5h-0.5zM372.8 102.8h0.5v0.5h-0.5zM379.8 102.8h0.5v0.5h-0.5zM381.3 102.8h1v0.5h-1zM369.3 103.3h0.5v0.5h-0.5zM369.8 103.8h0.5v0.5h-0.5zM383.3 103.8h0.5v0.5h-0.5zM383.8 104.3h0.5v0.5h-0.5zM376.3 105.3h0.5v0.5h-0.5zM385.8 105.3h0.5v0.5h-0.5zM399.3 105.3h0.5v0.5h-0.5zM375.3 105.8h0.5v0.5h-0.5zM369.8 106.3h0.5v0.5h-0.5zM430.3 106.3h0.5v0.5h-0.5zM375.3 106.8h0.5v0.5h-0.5zM382.8 106.8h0.5v0.5h-0.5zM384.3 106.8h0.5v0.5h-0.5z" fill="#000" filter="url(#bl)"/>
<path d="M510.8 41.8h0.5v0.5h-0.5zM461.3 42.8h0.5v0.5h-0.5zM507.3 42.8h0.5v0.5h-0.5zM450.8 43.3h0.5v0.5h-0.5zM477.8 43.8h0.5v0.5h-0.5zM488.8 43.8h0.5v0.5h-0.5zM489.3 44.8h0.5v0.5h-0.5zM500.8 44.8h0.5v0.5h-0.5zM458.3 47.3h0.5v0.5h-0.5zM491.8 47.8h0.5v0.5h-0.5zM472.8 48.3h0.5v0.5h-0.5zM475.3 49.3h0.5v0.5h-0.5zM483.3 49.3h0.5v0.5h-0.5zM486.8 49.3h0.5v0.5h-0.5zM491.3 49.3h0.5v0.5h-0.5zM461.3 49.8h0.5v0.5h-0.5zM513.3 49.8h0.5v0.5h-0.5zM467.3 50.3h0.5v0.5h-0.5zM500.8 50.3h0.5v0.5h-0.5zM463.3 51.3h0.5v0.5h-0.5zM472.8 51.3h0.5v0.5h-0.5zM461.3 51.8h0.5v0.5h-0.5zM464.8 51.8h0.5v0.5h-0.5zM459.3 52.3h0.5v0.5h-0.5zM462.8 52.3h0.5v0.5h-0.5zM508.3 52.3h0.5v0.5h-0.5zM470.8 52.8h0.5v0.5h-0.5zM495.8 52.8h0.5v0.5h-0.5zM513.8 52.8h0.5v0.5h-0.5zM451.8 53.3h0.5v0.5h-0.5zM463.3 53.3h0.5v0.5h-0.5zM465.8 53.3h0.5v0.5h-0.5zM471.8 53.3h0.5v0.5h-0.5zM501.8 53.3h0.5v0.5h-0.5zM503.8 53.3h0.5v0.5h-0.5zM457.3 53.8h0.5v0.5h-0.5zM460.3 53.8h0.5v0.5h-0.5zM462.3 53.8h1v0.5h-1zM463.8 53.8h1v0.5h-1zM465.8 53.8h0.5v0.5h-0.5zM466.8 53.8h0.5v0.5h-0.5zM472.8 53.8h0.5v0.5h-0.5zM488.8 53.8h0.5v0.5h-0.5zM495.3 53.8h0.5v0.5h-0.5zM501.8 53.8h0.5v0.5h-0.5zM456.8 54.3h0.5v0.5h-0.5zM461.8 54.3h0.5v0.5h-0.5zM465.3 54.3h0.5v0.5h-0.5zM468.8 54.3h0.5v0.5h-0.5zM472.3 54.3h0.5v0.5h-0.5zM485.3 54.3h0.5v0.5h-0.5zM496.3 54.3h0.5v0.5h-0.5zM450.3 54.8h0.5v0.5h-0.5zM455.8 54.8h0.5v0.5h-0.5zM458.8 54.8h0.5v0.5h-0.5zM459.8 54.8h0.5v0.5h-0.5zM462.8 54.8h0.5v0.5h-0.5zM464.8 54.8h1v0.5h-1zM467.3 54.8h0.5v0.5h-0.5zM469.8 54.8h0.5v0.5h-0.5zM473.8 54.8h0.5v0.5h-0.5zM499.8 54.8h0.5v0.5h-0.5zM501.8 54.8h0.5v0.5h-0.5zM510.8 54.8h0.5v0.5h-0.5zM454.3 55.3h0.5v0.5h-0.5zM457.3 55.3h2v0.5h-2zM460.3 55.3h1v0.5h-1zM462.3 55.3h0.5v0.5h-0.5zM463.8 55.3h0.5v0.5h-0.5zM464.8 55.3h0.5v0.5h-0.5zM465.8 55.3h1v0.5h-1zM469.8 55.3h0.5v0.5h-0.5zM483.8 55.3h0.5v0.5h-0.5zM485.8 55.3h0.5v0.5h-0.5zM488.8 55.3h0.5v0.5h-0.5zM492.8 55.3h0.5v0.5h-0.5zM500.8 55.3h0.5v0.5h-0.5zM506.3 55.3h0.5v0.5h-0.5zM451.8 55.8h1.5v0.5h-1.5zM454.3 55.8h1v0.5h-1zM457.8 55.8h1v0.5h-1zM459.3 55.8h0.5v0.5h-0.5zM460.8 55.8h1v0.5h-1zM462.8 55.8h1v0.5h-1zM464.8 55.8h1v0.5h-1zM467.3 55.8h1v0.5h-1zM471.3 55.8h0.5v0.5h-0.5zM490.8 55.8h0.5v0.5h-0.5zM498.8 55.8h0.5v0.5h-0.5zM501.3 55.8h0.5v0.5h-0.5zM452.3 56.3h0.5v0.5h-0.5zM453.3 56.3h0.5v0.5h-0.5zM455.3 56.3h1v0.5h-1zM457.3 56.3h0.5v0.5h-0.5zM458.3 56.3h0.5v0.5h-0.5zM460.3 56.3h2v0.5h-2zM462.8 56.3h1v0.5h-1zM464.8 56.3h0.5v0.5h-0.5zM468.3 56.3h0.5v0.5h-0.5zM469.3 56.3h0.5v0.5h-0.5zM470.3 56.3h0.5v0.5h-0.5zM484.3 56.3h1v0.5h-1zM487.3 56.3h0.5v0.5h-0.5zM493.3 56.3h0.5v0.5h-0.5zM495.3 56.3h0.5v0.5h-0.5zM498.3 56.3h0.5v0.5h-0.5zM500.8 56.3h0.5v0.5h-0.5zM504.8 56.3h0.5v0.5h-0.5zM452.8 56.8h0.5v0.5h-0.5zM454.8 56.8h0.5v0.5h-0.5zM456.3 56.8h0.5v0.5h-0.5zM457.8 56.8h1.5v0.5h-1.5zM459.8 56.8h3.5v0.5h-3.5zM464.8 56.8h1v0.5h-1zM466.8 56.8h1v0.5h-1zM468.3 56.8h0.5v0.5h-0.5zM476.8 56.8h0.5v0.5h-0.5zM482.3 56.8h0.5v0.5h-0.5zM485.8 56.8h0.5v0.5h-0.5zM487.3 56.8h0.5v0.5h-0.5zM489.3 56.8h0.5v0.5h-0.5zM491.3 56.8h0.5v0.5h-0.5zM492.8 56.8h0.5v0.5h-0.5zM496.3 56.8h1v0.5h-1zM497.8 56.8h0.5v0.5h-0.5zM504.8 56.8h0.5v0.5h-0.5zM453.8 57.3h0.5v0.5h-0.5zM456.3 57.3h0.5v0.5h-0.5zM457.3 57.3h1v0.5h-1zM458.8 57.3h5.5v0.5h-5.5zM464.8 57.3h1.5v0.5h-1.5zM467.8 57.3h1v0.5h-1zM469.8 57.3h0.5v0.5h-0.5zM470.8 57.3h1.5v0.5h-1.5zM487.8 57.3h1v0.5h-1zM495.3 57.3h1v0.5h-1zM508.8 57.3h0.5v0.5h-0.5zM451.8 57.8h0.5v0.5h-0.5zM452.8 57.8h0.5v0.5h-0.5zM453.8 57.8h1v0.5h-1zM455.3 57.8h2.5v0.5h-2.5zM458.3 57.8h0.5v0.5h-0.5zM459.3 57.8h0.5v0.5h-0.5zM460.8 57.8h2v0.5h-2zM463.3 57.8h0.5v0.5h-0.5zM465.3 57.8h0.5v0.5h-0.5zM466.3 57.8h0.5v0.5h-0.5zM467.3 57.8h0.5v0.5h-0.5zM469.3 57.8h1v0.5h-1zM475.3 57.8h0.5v0.5h-0.5zM481.8 57.8h0.5v0.5h-0.5zM484.3 57.8h0.5v0.5h-0.5zM491.8 57.8h0.5v0.5h-0.5zM493.8 57.8h1v0.5h-1zM495.3 57.8h0.5v0.5h-0.5zM507.8 57.8h0.5v0.5h-0.5zM510.3 57.8h1v0.5h-1zM452.3 58.3h1v0.5h-1zM453.8 58.3h0.5v0.5h-0.5zM454.8 58.3h1.5v0.5h-1.5zM456.8 58.3h3.5v0.5h-3.5zM461.3 58.3h2.5v0.5h-2.5zM464.8 58.3h1.5v0.5h-1.5zM467.3 58.3h0.5v0.5h-0.5zM468.3 58.3h1v0.5h-1zM470.3 58.3h0.5v0.5h-0.5zM484.8 58.3h0.5v0.5h-0.5zM487.3 58.3h1.5v0.5h-1.5zM492.8 58.3h0.5v0.5h-0.5zM497.3 58.3h0.5v0.5h-0.5zM501.3 58.3h1v0.5h-1zM454.3 58.8h0.5v0.5h-0.5zM455.3 58.8h0.5v0.5h-0.5zM456.8 58.8h10v0.5h-10zM467.3 58.8h0.5v0.5h-0.5zM468.8 58.8h2v0.5h-2zM472.8 58.8h0.5v0.5h-0.5zM473.8 58.8h0.5v0.5h-0.5zM477.3 58.8h0.5v0.5h-0.5zM484.3 58.8h0.5v0.5h-0.5zM486.8 58.8h0.5v0.5h-0.5zM488.3 58.8h0.5v0.5h-0.5zM489.8 58.8h0.5v0.5h-0.5zM491.3 58.8h0.5v0.5h-0.5zM499.3 58.8h0.5v0.5h-0.5zM500.8 58.8h1v0.5h-1zM502.3 58.8h0.5v0.5h-0.5zM450.8 59.3h0.5v0.5h-0.5zM452.3 59.3h1v0.5h-1zM453.8 59.3h1v0.5h-1zM455.3 59.3h2.5v0.5h-2.5zM458.8 59.3h5v0.5h-5zM464.3 59.3h4.5v0.5h-4.5zM469.3 59.3h0.5v0.5h-0.5zM470.3 59.3h0.5v0.5h-0.5zM487.3 59.3h1v0.5h-1zM489.8 59.3h0.5v0.5h-0.5zM494.3 59.3h0.5v0.5h-0.5zM495.8 59.3h1.5v0.5h-1.5zM504.3 59.3h0.5v0.5h-0.5zM505.3 59.3h0.5v0.5h-0.5zM451.8 59.8h0.5v0.5h-0.5zM452.8 59.8h2.5v0.5h-2.5zM455.8 59.8h5.5v0.5h-5.5zM461.8 59.8h0.5v0.5h-0.5zM462.8 59.8h1v0.5h-1zM464.3 59.8h4v0.5h-4zM469.8 59.8h0.5v0.5h-0.5zM470.8 59.8h0.5v0.5h-0.5zM479.3 59.8h1v0.5h-1zM483.8 59.8h0.5v0.5h-0.5zM485.3 59.8h0.5v0.5h-0.5zM491.8 59.8h0.5v0.5h-0.5zM493.8 59.8h0.5v0.5h-0.5zM496.8 59.8h0.5v0.5h-0.5zM497.8 59.8h0.5v0.5h-0.5zM503.8 59.8h0.5v0.5h-0.5zM507.8 59.8h0.5v0.5h-0.5zM509.3 59.8h0.5v0.5h-0.5zM450.8 60.3h0.5v0.5h-0.5zM452.8 60.3h4v0.5h-4zM457.3 60.3h7v0.5h-7zM464.8 60.3h3v0.5h-3zM468.3 60.3h1.5v0.5h-1.5zM474.8 60.3h0.5v0.5h-0.5zM476.3 60.3h0.5v0.5h-0.5zM481.3 60.3h0.5v0.5h-0.5zM482.3 60.3h0.5v0.5h-0.5zM486.3 60.3h0.5v0.5h-0.5zM496.8 60.3h0.5v0.5h-0.5zM498.3 60.3h0.5v0.5h-0.5zM499.8 60.3h0.5v0.5h-0.5zM504.3 60.3h0.5v0.5h-0.5zM505.3 60.3h1v0.5h-1zM511.8 60.3h0.5v0.5h-0.5zM450.3 60.8h0.5v0.5h-0.5zM451.3 60.8h0.5v0.5h-0.5zM452.3 60.8h0.5v0.5h-0.5zM453.3 60.8h1.5v0.5h-1.5zM455.3 60.8h5v0.5h-5zM460.8 60.8h5v0.5h-5zM466.3 60.8h2v0.5h-2zM468.8 60.8h0.5v0.5h-0.5zM469.8 60.8h0.5v0.5h-0.5zM470.8 60.8h0.5v0.5h-0.5zM471.8 60.8h0.5v0.5h-0.5zM475.3 60.8h0.5v0.5h-0.5zM482.8 60.8h0.5v0.5h-0.5zM484.8 60.8h0.5v0.5h-0.5zM488.8 60.8h0.5v0.5h-0.5zM491.3 60.8h2v0.5h-2zM495.8 60.8h0.5v0.5h-0.5zM497.8 60.8h0.5v0.5h-0.5zM499.3 60.8h0.5v0.5h-0.5zM500.8 60.8h1v0.5h-1zM504.8 60.8h1.5v0.5h-1.5zM508.8 60.8h0.5v0.5h-0.5zM512.8 60.8h0.5v0.5h-0.5zM453.3 61.3h3v0.5h-3zM456.8 61.3h3v0.5h-3zM460.3 61.3h5v0.5h-5zM465.8 61.3h3.5v0.5h-3.5zM470.3 61.3h0.5v0.5h-0.5zM471.8 61.3h0.5v0.5h-0.5zM477.8 61.3h0.5v0.5h-0.5zM479.8 61.3h0.5v0.5h-0.5zM481.8 61.3h0.5v0.5h-0.5zM484.3 61.3h0.5v0.5h-0.5zM485.3 61.3h0.5v0.5h-0.5zM488.3 61.3h0.5v0.5h-0.5zM491.8 61.3h0.5v0.5h-0.5zM492.8 61.3h0.5v0.5h-0.5zM501.3 61.3h0.5v0.5h-0.5zM502.3 61.3h0.5v0.5h-0.5zM503.3 61.3h0.5v0.5h-0.5zM508.3 61.3h0.5v0.5h-0.5zM450.3 61.8h4v0.5h-4zM454.8 61.8h6v0.5h-6zM461.3 61.8h1.5v0.5h-1.5zM463.3 61.8h2v0.5h-2zM465.8 61.8h2.5v0.5h-2.5zM468.8 61.8h0.5v0.5h-0.5zM469.8 61.8h0.5v0.5h-0.5zM470.8 61.8h1v0.5h-1zM478.3 61.8h0.5v0.5h-0.5zM481.8 61.8h0.5v0.5h-0.5zM484.8 61.8h1.5v0.5h-1.5zM487.8 61.8h1v0.5h-1zM489.3 61.8h1v0.5h-1zM490.8 61.8h0.5v0.5h-0.5zM494.8 61.8h0.5v0.5h-0.5zM495.8 61.8h1v0.5h-1zM497.8 61.8h0.5v0.5h-0.5zM500.3 61.8h0.5v0.5h-0.5zM501.3 61.8h0.5v0.5h-0.5zM502.3 61.8h0.5v0.5h-0.5zM512.8 61.8h0.5v0.5h-0.5zM450.8 62.3h0.5v0.5h-0.5zM451.8 62.3h1.5v0.5h-1.5zM453.8 62.3h4.5v0.5h-4.5zM458.8 62.3h6v0.5h-6zM465.3 62.3h1.5v0.5h-1.5zM467.3 62.3h3v0.5h-3zM471.8 62.3h0.5v0.5h-0.5zM473.8 62.3h0.5v0.5h-0.5zM475.3 62.3h0.5v0.5h-0.5zM482.3 62.3h0.5v0.5h-0.5zM483.3 62.3h0.5v0.5h-0.5zM485.3 62.3h0.5v0.5h-0.5zM488.8 62.3h0.5v0.5h-0.5zM491.3 62.3h1v0.5h-1zM493.8 62.3h1v0.5h-1zM496.3 62.3h1.5v0.5h-1.5zM505.8 62.3h0.5v0.5h-0.5zM451.3 62.8h0.5v0.5h-0.5zM452.3 62.8h2.5v0.5h-2.5zM455.3 62.8h6.5v0.5h-6.5zM462.3 62.8h7v0.5h-7zM471.8 62.8h0.5v0.5h-0.5zM473.3 62.8h1.5v0.5h-1.5zM479.8 62.8h0.5v0.5h-0.5zM483.3 62.8h0.5v0.5h-0.5zM485.8 62.8h0.5v0.5h-0.5zM486.8 62.8h0.5v0.5h-0.5zM487.8 62.8h0.5v0.5h-0.5zM492.8 62.8h0.5v0.5h-0.5zM494.3 62.8h0.5v0.5h-0.5zM496.8 62.8h1.5v0.5h-1.5zM500.8 62.8h0.5v0.5h-0.5zM502.3 62.8h0.5v0.5h-0.5zM515.8 62.8h0.5v0.5h-0.5zM451.3 63.3h1.5v0.5h-1.5zM454.3 63.3h14.5v0.5h-14.5zM469.3 63.3h2v0.5h-2zM471.8 63.3h0.5v0.5h-0.5zM474.8 63.3h0.5v0.5h-0.5zM478.8 63.3h1v0.5h-1zM485.8 63.3h1v0.5h-1zM487.8 63.3h1.5v0.5h-1.5zM490.8 63.3h0.5v0.5h-0.5zM491.8 63.3h0.5v0.5h-0.5zM492.8 63.3h1.5v0.5h-1.5zM494.8 63.3h1v0.5h-1zM496.3 63.3h0.5v0.5h-0.5zM497.8 63.3h0.5v0.5h-0.5zM504.8 63.3h1v0.5h-1zM507.8 63.3h0.5v0.5h-0.5zM509.3 63.3h0.5v0.5h-0.5zM450.3 63.8h1.5v0.5h-1.5zM452.8 63.8h12v0.5h-12zM465.8 63.8h1v0.5h-1zM467.8 63.8h1v0.5h-1zM469.3 63.8h1v0.5h-1zM470.8 63.8h0.5v0.5h-0.5zM473.8 63.8h0.5v0.5h-0.5zM475.3 63.8h0.5v0.5h-0.5zM476.3 63.8h1v0.5h-1zM480.3 63.8h0.5v0.5h-0.5zM481.8 63.8h0.5v0.5h-0.5zM483.8 63.8h1v0.5h-1zM485.3 63.8h0.5v0.5h-0.5zM489.3 63.8h1v0.5h-1zM490.8 63.8h0.5v0.5h-0.5zM491.8 63.8h1v0.5h-1zM494.3 63.8h0.5v0.5h-0.5zM495.8 63.8h0.5v0.5h-0.5zM497.3 63.8h0.5v0.5h-0.5zM500.8 63.8h0.5v0.5h-0.5zM505.3 63.8h0.5v0.5h-0.5zM450.3 64.3h4v0.5h-4zM454.8 64.3h0.5v0.5h-0.5zM455.8 64.3h10v0.5h-10zM466.3 64.3h3.5v0.5h-3.5zM471.8 64.3h0.5v0.5h-0.5zM473.8 64.3h0.5v0.5h-0.5zM474.8 64.3h1.5v0.5h-1.5zM477.3 64.3h0.5v0.5h-0.5zM479.3 64.3h0.5v0.5h-0.5zM480.3 64.3h0.5v0.5h-0.5zM481.3 64.3h1v0.5h-1zM482.8 64.3h0.5v0.5h-0.5zM485.3 64.3h0.5v0.5h-0.5zM486.3 64.3h0.5v0.5h-0.5zM488.3 64.3h1v0.5h-1zM491.8 64.3h0.5v0.5h-0.5zM492.8 64.3h0.5v0.5h-0.5zM494.3 64.3h0.5v0.5h-0.5zM495.3 64.3h0.5v0.5h-0.5zM500.3 64.3h0.5v0.5h-0.5zM450.3 64.8h17.5v0.5h-17.5zM468.8 64.8h0.5v0.5h-0.5zM469.8 64.8h1v0.5h-1zM472.8 64.8h1v0.5h-1zM478.3 64.8h0.5v0.5h-0.5zM479.8 64.8h0.5v0.5h-0.5zM482.3 64.8h0.5v0.5h-0.5zM483.3 64.8h0.5v0.5h-0.5zM486.8 64.8h0.5v0.5h-0.5zM489.8 64.8h1v0.5h-1zM491.8 64.8h1v0.5h-1zM493.3 64.8h1v0.5h-1zM495.3 64.8h1v0.5h-1zM496.8 64.8h0.5v0.5h-0.5zM498.8 64.8h1v0.5h-1zM500.8 64.8h0.5v0.5h-0.5zM504.8 64.8h0.5v0.5h-0.5zM450.3 65.3h0.5v0.5h-0.5zM451.3 65.3h0.5v0.5h-0.5zM452.3 65.3h5.5v0.5h-5.5zM458.3 65.3h2.5v0.5h-2.5zM461.3 65.3h2.5v0.5h-2.5zM464.3 65.3h1v0.5h-1zM465.8 65.3h2v0.5h-2zM469.8 65.3h2v0.5h-2zM472.8 65.3h1v0.5h-1zM474.8 65.3h0.5v0.5h-0.5zM475.8 65.3h0.5v0.5h-0.5zM476.8 65.3h1.5v0.5h-1.5zM479.3 65.3h0.5v0.5h-0.5zM480.3 65.3h1v0.5h-1zM482.3 65.3h0.5v0.5h-0.5zM483.3 65.3h1v0.5h-1zM485.8 65.3h1v0.5h-1zM491.3 65.3h0.5v0.5h-0.5zM492.3 65.3h0.5v0.5h-0.5zM493.3 65.3h1v0.5h-1zM496.8 65.3h0.5v0.5h-0.5zM497.8 65.3h0.5v0.5h-0.5zM498.8 65.3h0.5v0.5h-0.5zM502.3 65.3h0.5v0.5h-0.5zM508.8 65.3h0.5v0.5h-0.5zM514.8 65.3h0.5v0.5h-0.5zM450.8 65.8h10.5v0.5h-10.5zM461.8 65.8h7v0.5h-7zM469.3 65.8h0.5v0.5h-0.5zM470.3 65.8h0.5v0.5h-0.5zM471.3 65.8h0.5v0.5h-0.5zM472.8 65.8h1.5v0.5h-1.5zM477.8 65.8h0.5v0.5h-0.5zM478.8 65.8h1v0.5h-1zM481.3 65.8h0.5v0.5h-0.5zM483.8 65.8h1v0.5h-1zM485.3 65.8h0.5v0.5h-0.5zM486.3 65.8h0.5v0.5h-0.5zM487.3 65.8h0.5v0.5h-0.5zM488.3 65.8h0.5v0.5h-0.5zM489.3 65.8h1v0.5h-1zM492.3 65.8h0.5v0.5h-0.5zM493.3 65.8h0.5v0.5h-0.5zM495.3 65.8h0.5v0.5h-0.5zM497.3 65.8h0.5v0.5h-0.5zM498.3 65.8h0.5v0.5h-0.5zM501.8 65.8h0.5v0.5h-0.5zM502.8 65.8h1v0.5h-1zM505.8 65.8h0.5v0.5h-0.5zM510.8 65.8h0.5v0.5h-0.5zM450.3 66.3h1v0.5h-1zM451.8 66.3h5v0.5h-5zM457.3 66.3h3v0.5h-3zM460.8 66.3h8.5v0.5h-8.5zM469.8 66.3h0.5v0.5h-0.5zM470.8 66.3h0.5v0.5h-0.5zM473.8 66.3h1v0.5h-1zM475.8 66.3h0.5v0.5h-0.5zM478.3 66.3h0.5v0.5h-0.5zM479.8 66.3h1.5v0.5h-1.5zM481.8 66.3h0.5v0.5h-0.5zM483.3 66.3h0.5v0.5h-0.5zM484.3 66.3h0.5v0.5h-0.5zM485.3 66.3h0.5v0.5h-0.5zM486.3 66.3h0.5v0.5h-0.5zM489.3 66.3h2v0.5h-2zM492.3 66.3h0.5v0.5h-0.5zM493.3 66.3h4v0.5h-4zM497.8 66.3h0.5v0.5h-0.5zM499.3 66.3h0.5v0.5h-0.5zM502.3 66.3h1v0.5h-1zM505.8 66.3h0.5v0.5h-0.5zM512.8 66.3h0.5v0.5h-0.5zM450.3 66.8h11v0.5h-11zM461.8 66.8h7v0.5h-7zM469.3 66.8h2v0.5h-2zM474.3 66.8h0.5v0.5h-0.5zM478.8 66.8h0.5v0.5h-0.5zM480.3 66.8h0.5v0.5h-0.5zM481.3 66.8h0.5v0.5h-0.5zM482.8 66.8h0.5v0.5h-0.5zM483.8 66.8h1.5v0.5h-1.5zM485.8 66.8h1v0.5h-1zM487.3 66.8h1v0.5h-1zM488.8 66.8h0.5v0.5h-0.5zM491.3 66.8h0.5v0.5h-0.5zM492.8 66.8h1v0.5h-1zM494.8 66.8h0.5v0.5h-0.5zM495.8 66.8h1.5v0.5h-1.5zM497.8 66.8h1.5v0.5h-1.5zM501.8 66.8h0.5v0.5h-0.5zM503.8 66.8h0.5v0.5h-0.5zM450.3 67.3h1.5v0.5h-1.5zM452.3 67.3h11v0.5h-11zM463.8 67.3h4v0.5h-4zM468.3 67.3h1.5v0.5h-1.5zM470.3 67.3h0.5v0.5h-0.5zM471.3 67.3h0.5v0.5h-0.5zM473.3 67.3h1v0.5h-1zM478.3 67.3h0.5v0.5h-0.5zM479.3 67.3h0.5v0.5h-0.5zM482.3 67.3h0.5v0.5h-0.5zM483.8 67.3h1v0.5h-1zM485.3 67.3h0.5v0.5h-0.5zM486.3 67.3h2v0.5h-2zM490.3 67.3h1v0.5h-1zM495.3 67.3h0.5v0.5h-0.5zM498.3 67.3h0.5v0.5h-0.5zM499.3 67.3h0.5v0.5h-0.5zM501.3 67.3h0.5v0.5h-0.5zM502.3 67.3h0.5v0.5h-0.5zM507.8 67.3h0.5v0.5h-0.5zM508.8 67.3h0.5v0.5h-0.5zM450.3 67.8h1.5v0.5h-1.5zM452.3 67.8h4v0.5h-4zM456.8 67.8h4.5v0.5h-4.5zM461.8 67.8h1v0.5h-1zM463.3 67.8h6v0.5h-6zM469.8 67.8h0.5v0.5h-0.5zM470.8 67.8h1v0.5h-1zM472.8 67.8h0.5v0.5h-0.5zM473.8 67.8h1v0.5h-1zM477.8 67.8h1v0.5h-1zM479.3 67.8h0.5v0.5h-0.5zM481.3 67.8h0.5v0.5h-0.5zM483.3 67.8h1v0.5h-1zM486.8 67.8h3v0.5h-3zM491.3 67.8h0.5v0.5h-0.5zM492.3 67.8h1.5v0.5h-1.5zM494.8 67.8h0.5v0.5h-0.5zM495.8 67.8h1v0.5h-1zM497.3 67.8h1v0.5h-1zM504.8 67.8h0.5v0.5h-0.5zM506.3 67.8h0.5v0.5h-0.5zM510.3 67.8h0.5v0.5h-0.5zM450.3 68.3h0.5v0.5h-0.5zM451.3 68.3h4v0.5h-4zM455.8 68.3h12v0.5h-12zM468.3 68.3h1.5v0.5h-1.5zM470.3 68.3h0.5v0.5h-0.5zM471.8 68.3h1v0.5h-1zM473.3 68.3h0.5v0.5h-0.5zM477.8 68.3h0.5v0.5h-0.5zM478.8 68.3h1.5v0.5h-1.5zM482.8 68.3h0.5v0.5h-0.5zM483.8 68.3h0.5v0.5h-0.5zM484.8 68.3h0.5v0.5h-0.5zM485.8 68.3h1v0.5h-1zM487.3 68.3h0.5v0.5h-0.5zM488.3 68.3h3v0.5h-3zM492.8 68.3h0.5v0.5h-0.5zM494.8 68.3h1v0.5h-1zM496.3 68.3h0.5v0.5h-0.5zM497.8 68.3h2v0.5h-2zM450.8 68.8h18.5v0.5h-18.5zM469.8 68.8h0.5v0.5h-0.5zM471.3 68.8h0.5v0.5h-0.5zM474.3 68.8h2v0.5h-2zM476.8 68.8h1v0.5h-1zM478.8 68.8h0.5v0.5h-0.5zM479.8 68.8h0.5v0.5h-0.5zM482.8 68.8h1.5v0.5h-1.5zM484.8 68.8h0.5v0.5h-0.5zM485.8 68.8h4v0.5h-4zM490.3 68.8h1.5v0.5h-1.5zM493.3 68.8h0.5v0.5h-0.5zM498.3 68.8h0.5v0.5h-0.5zM499.8 68.8h0.5v0.5h-0.5zM501.8 68.8h0.5v0.5h-0.5zM503.3 68.8h0.5v0.5h-0.5zM505.3 68.8h1v0.5h-1zM509.3 68.8h0.5v0.5h-0.5zM450.3 69.3h0.5v0.5h-0.5zM451.3 69.3h9v0.5h-9zM460.8 69.3h6v0.5h-6zM467.3 69.3h1.5v0.5h-1.5zM470.3 69.3h0.5v0.5h-0.5zM471.3 69.3h0.5v0.5h-0.5zM474.3 69.3h0.5v0.5h-0.5zM475.3 69.3h0.5v0.5h-0.5zM477.3 69.3h0.5v0.5h-0.5zM479.3 69.3h0.5v0.5h-0.5zM480.8 69.3h1v0.5h-1zM484.3 69.3h2v0.5h-2zM487.3 69.3h2v0.5h-2zM490.3 69.3h0.5v0.5h-0.5zM491.8 69.3h0.5v0.5h-0.5zM495.3 69.3h0.5v0.5h-0.5zM496.3 69.3h0.5v0.5h-0.5zM497.3 69.3h0.5v0.5h-0.5zM499.8 69.3h1v0.5h-1zM507.3 69.3h0.5v0.5h-0.5zM514.3 69.3h0.5v0.5h-0.5zM450.3 69.8h7v0.5h-7zM457.8 69.8h2.5v0.5h-2.5zM460.8 69.8h8.5v0.5h-8.5zM469.8 69.8h0.5v0.5h-0.5zM470.8 69.8h1v0.5h-1zM472.3 69.8h0.5v0.5h-0.5zM473.3 69.8h0.5v0.5h-0.5zM476.3 69.8h0.5v0.5h-0.5zM477.3 69.8h0.5v0.5h-0.5zM478.3 69.8h0.5v0.5h-0.5zM479.8 69.8h3.5v0.5h-3.5zM483.8 69.8h1v0.5h-1zM485.8 69.8h0.5v0.5h-0.5zM487.3 69.8h0.5v0.5h-0.5zM488.8 69.8h0.5v0.5h-0.5zM490.8 69.8h1.5v0.5h-1.5zM493.3 69.8h0.5v0.5h-0.5zM494.3 69.8h0.5v0.5h-0.5zM495.3 69.8h0.5v0.5h-0.5zM496.8 69.8h2v0.5h-2zM500.3 69.8h0.5v0.5h-0.5zM501.3 69.8h0.5v0.5h-0.5zM502.3 69.8h1v0.5h-1zM505.8 69.8h0.5v0.5h-0.5zM507.3 69.8h0.5v0.5h-0.5zM509.8 69.8h0.5v0.5h-0.5zM513.3 69.8h0.5v0.5h-0.5zM450.3 70.3h8v0.5h-8zM458.8 70.3h2v0.5h-2zM461.3 70.3h5.5v0.5h-5.5zM468.3 70.3h1.5v0.5h-1.5zM470.3 70.3h1v0.5h-1zM472.8 70.3h0.5v0.5h-0.5zM474.8 70.3h0.5v0.5h-0.5zM476.8 70.3h0.5v0.5h-0.5zM478.3 70.3h0.5v0.5h-0.5zM479.3 70.3h0.5v0.5h-0.5zM480.3 70.3h0.5v0.5h-0.5zM482.8 70.3h0.5v0.5h-0.5zM483.8 70.3h1.5v0.5h-1.5zM486.3 70.3h0.5v0.5h-0.5zM487.8 70.3h0.5v0.5h-0.5zM488.8 70.3h1v0.5h-1zM491.8 70.3h1.5v0.5h-1.5zM493.8 70.3h0.5v0.5h-0.5zM494.8 70.3h0.5v0.5h-0.5zM495.8 70.3h1.5v0.5h-1.5zM497.8 70.3h1.5v0.5h-1.5zM500.3 70.3h0.5v0.5h-0.5zM501.3 70.3h0.5v0.5h-0.5zM503.8 70.3h1v0.5h-1zM505.3 70.3h0.5v0.5h-0.5zM507.3 70.3h0.5v0.5h-0.5zM508.3 70.3h0.5v0.5h-0.5zM511.3 70.3h0.5v0.5h-0.5zM450.3 70.8h8v0.5h-8zM458.8 70.8h1v0.5h-1zM460.3 70.8h7v0.5h-7zM467.8 70.8h1.5v0.5h-1.5zM469.8 70.8h0.5v0.5h-0.5zM470.8 70.8h0.5v0.5h-0.5zM473.3 70.8h1v0.5h-1zM474.8 70.8h0.5v0.5h-0.5zM477.3 70.8h1v0.5h-1zM478.8 70.8h1.5v0.5h-1.5zM480.8 70.8h1v0.5h-1zM482.3 70.8h1.5v0.5h-1.5zM484.3 70.8h0.5v0.5h-0.5zM485.8 70.8h0.5v0.5h-0.5zM486.8 70.8h0.5v0.5h-0.5zM487.8 70.8h0.5v0.5h-0.5zM489.8 70.8h0.5v0.5h-0.5zM491.8 70.8h1v0.5h-1zM494.3 70.8h0.5v0.5h-0.5zM495.8 70.8h0.5v0.5h-0.5zM498.8 70.8h0.5v0.5h-0.5zM499.8 70.8h0.5v0.5h-0.5zM501.8 70.8h0.5v0.5h-0.5zM504.8 70.8h0.5v0.5h-0.5zM507.3 70.8h0.5v0.5h-0.5zM509.8 70.8h0.5v0.5h-0.5zM450.3 71.3h0.5v0.5h-0.5zM451.3 71.3h4v0.5h-4zM455.8 71.3h0.5v0.5h-0.5zM456.8 71.3h2.5v0.5h-2.5zM459.8 71.3h4v0.5h-4zM464.8 71.3h2v0.5h-2zM467.3 71.3h0.5v0.5h-0.5zM468.8 71.3h0.5v0.5h-0.5zM469.8 71.3h0.5v0.5h-0.5zM471.8 71.3h1v0.5h-1zM476.3 71.3h1v0.5h-1zM478.8 71.3h0.5v0.5h-0.5zM479.8 71.3h1v0.5h-1zM481.8 71.3h0.5v0.5h-0.5zM482.8 71.3h1v0.5h-1zM484.3 71.3h0.5v0.5h-0.5zM485.8 71.3h1v0.5h-1zM487.8 71.3h1v0.5h-1zM489.8 71.3h1v0.5h-1zM492.8 71.3h0.5v0.5h-0.5zM494.3 71.3h0.5v0.5h-0.5zM495.3 71.3h1v0.5h-1zM496.8 71.3h1v0.5h-1zM498.3 71.3h1v0.5h-1zM503.8 71.3h1v0.5h-1zM505.3 71.3h0.5v0.5h-0.5zM450.3 71.8h19v0.5h-19zM469.8 71.8h0.5v0.5h-0.5zM471.3 71.8h1v0.5h-1zM474.3 71.8h0.5v0.5h-0.5zM478.3 71.8h0.5v0.5h-0.5zM482.3 71.8h0.5v0.5h-0.5zM483.8 71.8h0.5v0.5h-0.5zM486.8 71.8h0.5v0.5h-0.5zM488.8 71.8h0.5v0.5h-0.5zM492.8 71.8h0.5v0.5h-0.5zM493.8 71.8h0.5v0.5h-0.5zM494.8 71.8h0.5v0.5h-0.5zM498.8 71.8h1v0.5h-1zM501.8 71.8h1v0.5h-1zM505.3 71.8h0.5v0.5h-0.5zM508.3 71.8h0.5v0.5h-0.5zM512.3 71.8h0.5v0.5h-0.5zM513.3 71.8h0.5v0.5h-0.5zM450.3 72.3h2v0.5h-2zM453.3 72.3h13v0.5h-13zM466.8 72.3h2.5v0.5h-2.5zM469.8 72.3h0.5v0.5h-0.5zM471.3 72.3h0.5v0.5h-0.5zM472.8 72.3h0.5v0.5h-0.5zM476.3 72.3h0.5v0.5h-0.5zM477.8 72.3h2.5v0.5h-2.5zM482.3 72.3h0.5v0.5h-0.5zM483.3 72.3h1.5v0.5h-1.5zM485.3 72.3h2v0.5h-2zM487.8 72.3h1v0.5h-1zM489.8 72.3h0.5v0.5h-0.5zM492.3 72.3h0.5v0.5h-0.5zM493.8 72.3h2.5v0.5h-2.5zM498.3 72.3h0.5v0.5h-0.5zM500.3 72.3h0.5v0.5h-0.5zM501.3 72.3h1v0.5h-1zM502.8 72.3h0.5v0.5h-0.5zM506.8 72.3h0.5v0.5h-0.5zM450.3 72.8h3v0.5h-3zM453.8 72.8h10.5v0.5h-10.5zM464.8 72.8h4v0.5h-4zM470.8 72.8h0.5v0.5h-0.5zM471.8 72.8h0.5v0.5h-0.5zM472.8 72.8h1v0.5h-1zM474.8 72.8h0.5v0.5h-0.5zM476.3 72.8h0.5v0.5h-0.5zM477.3 72.8h1v0.5h-1zM478.8 72.8h1.5v0.5h-1.5zM484.3 72.8h0.5v0.5h-0.5zM485.3 72.8h1v0.5h-1zM487.3 72.8h0.5v0.5h-0.5zM491.3 72.8h1v0.5h-1zM492.8 72.8h1.5v0.5h-1.5zM495.8 72.8h0.5v0.5h-0.5zM450.3 73.3h2v0.5h-2zM452.8 73.3h0.5v0.5h-0.5zM453.8 73.3h3.5v0.5h-3.5zM457.8 73.3h4.5v0.5h-4.5zM462.8 73.3h2v0.5h-2zM465.3 73.3h2v0.5h-2zM467.8 73.3h0.5v0.5h-0.5zM469.3 73.3h0.5v0.5h-0.5zM470.3 73.3h1v0.5h-1zM473.3 73.3h0.5v0.5h-0.5zM475.3 73.3h0.5v0.5h-0.5zM476.8 73.3h0.5v0.5h-0.5zM478.8 73.3h0.5v0.5h-0.5zM479.8 73.3h0.5v0.5h-0.5zM482.8 73.3h0.5v0.5h-0.5zM486.8 73.3h0.5v0.5h-0.5zM488.3 73.3h1v0.5h-1zM489.8 73.3h1v0.5h-1zM494.3 73.3h0.5v0.5h-0.5zM495.8 73.3h0.5v0.5h-0.5zM499.8 73.3h0.5v0.5h-0.5zM507.3 73.3h0.5v0.5h-0.5zM509.8 73.3h0.5v0.5h-0.5zM512.8 73.3h0.5v0.5h-0.5zM451.3 73.8h3v0.5h-3zM455.3 73.8h0.5v0.5h-0.5zM456.8 73.8h9v0.5h-9zM466.3 73.8h1v0.5h-1zM468.8 73.8h0.5v0.5h-0.5zM471.3 73.8h1v0.5h-1zM472.8 73.8h0.5v0.5h-0.5zM474.3 73.8h1v0.5h-1zM475.8 73.8h0.5v0.5h-0.5zM476.8 73.8h1v0.5h-1zM478.8 73.8h1.5v0.5h-1.5zM485.3 73.8h1.5v0.5h-1.5zM487.3 73.8h1v0.5h-1zM489.3 73.8h0.5v0.5h-0.5zM491.3 73.8h0.5v0.5h-0.5zM492.3 73.8h0.5v0.5h-0.5zM495.8 73.8h1v0.5h-1zM497.3 73.8h0.5v0.5h-0.5zM498.8 73.8h0.5v0.5h-0.5zM500.8 73.8h0.5v0.5h-0.5zM505.8 73.8h0.5v0.5h-0.5zM508.8 73.8h0.5v0.5h-0.5zM514.3 73.8h0.5v0.5h-0.5zM450.3 74.3h0.5v0.5h-0.5zM452.8 74.3h2.5v0.5h-2.5zM455.8 74.3h9v0.5h-9zM465.3 74.3h2v0.5h-2zM467.8 74.3h0.5v0.5h-0.5zM468.8 74.3h0.5v0.5h-0.5zM470.3 74.3h1.5v0.5h-1.5zM474.3 74.3h0.5v0.5h-0.5zM475.3 74.3h0.5v0.5h-0.5zM481.3 74.3h1v0.5h-1zM483.8 74.3h1v0.5h-1zM487.3 74.3h0.5v0.5h-0.5zM488.3 74.3h0.5v0.5h-0.5zM489.8 74.3h2v0.5h-2zM493.3 74.3h0.5v0.5h-0.5zM494.3 74.3h0.5v0.5h-0.5zM496.8 74.3h0.5v0.5h-0.5zM497.8 74.3h0.5v0.5h-0.5zM498.8 74.3h1v0.5h-1zM500.3 74.3h0.5v0.5h-0.5zM509.8 74.3h0.5v0.5h-0.5zM514.8 74.3h0.5v0.5h-0.5zM450.3 74.8h1v0.5h-1zM451.8 74.8h2v0.5h-2zM454.8 74.8h2v0.5h-2zM457.8 74.8h1.5v0.5h-1.5zM459.8 74.8h6v0.5h-6zM466.3 74.8h1.5v0.5h-1.5zM468.3 74.8h1v0.5h-1zM470.3 74.8h1v0.5h-1zM471.8 74.8h0.5v0.5h-0.5zM473.3 74.8h0.5v0.5h-0.5zM474.8 74.8h1v0.5h-1zM476.8 74.8h0.5v0.5h-0.5zM477.8 74.8h0.5v0.5h-0.5zM478.8 74.8h0.5v0.5h-0.5zM479.8 74.8h0.5v0.5h-0.5zM481.3 74.8h0.5v0.5h-0.5zM482.3 74.8h0.5v0.5h-0.5zM483.8 74.8h0.5v0.5h-0.5zM486.3 74.8h0.5v0.5h-0.5zM487.8 74.8h0.5v0.5h-0.5zM489.3 74.8h0.5v0.5h-0.5zM491.8 74.8h1v0.5h-1zM494.3 74.8h1.5v0.5h-1.5zM496.3 74.8h2v0.5h-2zM499.8 74.8h0.5v0.5h-0.5zM500.8 74.8h1v0.5h-1zM503.3 74.8h1.5v0.5h-1.5zM505.3 74.8h0.5v0.5h-0.5zM506.8 74.8h1v0.5h-1zM514.3 74.8h0.5v0.5h-0.5zM515.8 74.8h0.5v0.5h-0.5zM450.8 75.3h0.5v0.5h-0.5zM451.8 75.3h2.5v0.5h-2.5zM454.8 75.3h3v0.5h-3zM458.3 75.3h3v0.5h-3zM461.8 75.3h2.5v0.5h-2.5zM464.8 75.3h0.5v0.5h-0.5zM465.8 75.3h3v0.5h-3zM469.3 75.3h1v0.5h-1zM470.8 75.3h1v0.5h-1zM477.3 75.3h0.5v0.5h-0.5zM481.3 75.3h2v0.5h-2zM483.8 75.3h1.5v0.5h-1.5zM487.8 75.3h0.5v0.5h-0.5zM488.8 75.3h0.5v0.5h-0.5zM490.3 75.3h0.5v0.5h-0.5zM491.3 75.3h0.5v0.5h-0.5zM494.3 75.3h0.5v0.5h-0.5zM496.3 75.3h0.5v0.5h-0.5zM499.3 75.3h1v0.5h-1zM502.8 75.3h0.5v0.5h-0.5zM505.3 75.3h0.5v0.5h-0.5zM506.8 75.3h0.5v0.5h-0.5zM513.3 75.3h0.5v0.5h-0.5zM450.3 75.8h0.5v0.5h-0.5zM451.3 75.8h6v0.5h-6zM457.8 75.8h1.5v0.5h-1.5zM459.8 75.8h5v0.5h-5zM465.8 75.8h1v0.5h-1zM467.3 75.8h0.5v0.5h-0.5zM468.3 75.8h0.5v0.5h-0.5zM471.3 75.8h0.5v0.5h-0.5zM472.3 75.8h0.5v0.5h-0.5zM473.3 75.8h1v0.5h-1zM475.3 75.8h3.5v0.5h-3.5zM479.3 75.8h0.5v0.5h-0.5zM481.3 75.8h0.5v0.5h-0.5zM482.8 75.8h1v0.5h-1zM484.8 75.8h2v0.5h-2zM489.8 75.8h0.5v0.5h-0.5zM490.8 75.8h0.5v0.5h-0.5zM492.3 75.8h1v0.5h-1zM494.3 75.8h0.5v0.5h-0.5zM495.3 75.8h0.5v0.5h-0.5zM496.8 75.8h0.5v0.5h-0.5zM499.8 75.8h0.5v0.5h-0.5zM504.3 75.8h0.5v0.5h-0.5zM505.8 75.8h0.5v0.5h-0.5zM509.3 75.8h0.5v0.5h-0.5zM450.8 76.3h1v0.5h-1zM452.8 76.3h1v0.5h-1zM454.8 76.3h1v0.5h-1zM456.8 76.3h6v0.5h-6zM463.3 76.3h1v0.5h-1zM464.8 76.3h1.5v0.5h-1.5zM467.3 76.3h0.5v0.5h-0.5zM470.3 76.3h0.5v0.5h-0.5zM473.8 76.3h1v0.5h-1zM475.3 76.3h0.5v0.5h-0.5zM477.3 76.3h0.5v0.5h-0.5zM478.3 76.3h1v0.5h-1zM480.8 76.3h0.5v0.5h-0.5zM482.8 76.3h0.5v0.5h-0.5zM484.3 76.3h0.5v0.5h-0.5zM485.3 76.3h1v0.5h-1zM486.8 76.3h0.5v0.5h-0.5zM487.8 76.3h1.5v0.5h-1.5zM489.8 76.3h0.5v0.5h-0.5zM491.8 76.3h0.5v0.5h-0.5zM495.8 76.3h0.5v0.5h-0.5zM496.8 76.3h0.5v0.5h-0.5zM500.3 76.3h0.5v0.5h-0.5zM501.3 76.3h0.5v0.5h-0.5zM502.3 76.3h0.5v0.5h-0.5zM508.3 76.3h0.5v0.5h-0.5zM451.8 76.8h8.5v0.5h-8.5zM460.8 76.8h1v0.5h-1zM462.3 76.8h1v0.5h-1zM463.8 76.8h0.5v0.5h-0.5zM465.3 76.8h0.5v0.5h-0.5zM466.3 76.8h0.5v0.5h-0.5zM468.8 76.8h1v0.5h-1zM471.8 76.8h0.5v0.5h-0.5zM472.8 76.8h0.5v0.5h-0.5zM473.8 76.8h0.5v0.5h-0.5zM474.8 76.8h0.5v0.5h-0.5zM477.8 76.8h0.5v0.5h-0.5zM478.8 76.8h0.5v0.5h-0.5zM482.8 76.8h0.5v0.5h-0.5zM484.3 76.8h0.5v0.5h-0.5zM488.8 76.8h0.5v0.5h-0.5zM490.3 76.8h1v0.5h-1zM493.3 76.8h1.5v0.5h-1.5zM495.3 76.8h0.5v0.5h-0.5zM496.3 76.8h0.5v0.5h-0.5zM497.3 76.8h0.5v0.5h-0.5zM498.8 76.8h0.5v0.5h-0.5zM499.8 76.8h0.5v0.5h-0.5zM505.8 76.8h0.5v0.5h-0.5zM450.8 77.3h1.5v0.5h-1.5zM453.3 77.3h0.5v0.5h-0.5zM455.3 77.3h0.5v0.5h-0.5zM456.3 77.3h2v0.5h-2zM458.8 77.3h1v0.5h-1zM460.3 77.3h2.5v0.5h-2.5zM464.8 77.3h0.5v0.5h-0.5zM466.3 77.3h2v0.5h-2zM469.3 77.3h0.5v0.5h-0.5zM472.3 77.3h0.5v0.5h-0.5zM473.3 77.3h1v0.5h-1zM475.8 77.3h0.5v0.5h-0.5zM478.8 77.3h0.5v0.5h-0.5zM480.3 77.3h0.5v0.5h-0.5zM486.3 77.3h0.5v0.5h-0.5zM487.3 77.3h0.5v0.5h-0.5zM488.8 77.3h1v0.5h-1zM492.3 77.3h1v0.5h-1zM495.3 77.3h0.5v0.5h-0.5zM496.3 77.3h0.5v0.5h-0.5zM501.8 77.3h0.5v0.5h-0.5zM503.3 77.3h1v0.5h-1zM507.3 77.3h1v0.5h-1zM450.8 77.8h0.5v0.5h-0.5zM451.8 77.8h1.5v0.5h-1.5zM454.3 77.8h1.5v0.5h-1.5zM456.3 77.8h2v0.5h-2zM458.8 77.8h1v0.5h-1zM460.8 77.8h2.5v0.5h-2.5zM463.8 77.8h1.5v0.5h-1.5zM465.8 77.8h0.5v0.5h-0.5zM467.8 77.8h1v0.5h-1zM470.8 77.8h1.5v0.5h-1.5zM477.3 77.8h0.5v0.5h-0.5zM478.3 77.8h0.5v0.5h-0.5zM480.8 77.8h0.5v0.5h-0.5zM489.8 77.8h0.5v0.5h-0.5zM491.3 77.8h0.5v0.5h-0.5zM492.3 77.8h0.5v0.5h-0.5zM494.8 77.8h0.5v0.5h-0.5zM502.3 77.8h0.5v0.5h-0.5zM504.8 77.8h1v0.5h-1zM509.3 77.8h0.5v0.5h-0.5zM450.8 78.3h1.5v0.5h-1.5zM454.3 78.3h0.5v0.5h-0.5zM455.3 78.3h1v0.5h-1zM457.8 78.3h0.5v0.5h-0.5zM459.3 78.3h2v0.5h-2zM462.3 78.3h4.5v0.5h-4.5zM467.3 78.3h1v0.5h-1zM468.8 78.3h0.5v0.5h-0.5zM469.8 78.3h1v0.5h-1zM471.3 78.3h0.5v0.5h-0.5zM473.8 78.3h1v0.5h-1zM477.3 78.3h0.5v0.5h-0.5zM478.8 78.3h0.5v0.5h-0.5zM481.8 78.3h0.5v0.5h-0.5zM485.3 78.3h0.5v0.5h-0.5zM486.8 78.3h0.5v0.5h-0.5zM488.3 78.3h1v0.5h-1zM489.8 78.3h1v0.5h-1zM491.8 78.3h0.5v0.5h-0.5zM492.8 78.3h0.5v0.5h-0.5zM494.3 78.3h0.5v0.5h-0.5zM496.3 78.3h0.5v0.5h-0.5zM498.3 78.3h0.5v0.5h-0.5zM500.8 78.3h0.5v0.5h-0.5zM506.8 78.3h0.5v0.5h-0.5zM509.8 78.3h0.5v0.5h-0.5zM450.8 78.8h0.5v0.5h-0.5zM452.3 78.8h0.5v0.5h-0.5zM454.3 78.8h0.5v0.5h-0.5zM455.3 78.8h0.5v0.5h-0.5zM456.3 78.8h0.5v0.5h-0.5zM457.8 78.8h1v0.5h-1zM459.3 78.8h1v0.5h-1zM460.8 78.8h0.5v0.5h-0.5zM462.3 78.8h0.5v0.5h-0.5zM463.8 78.8h4.5v0.5h-4.5zM470.8 78.8h0.5v0.5h-0.5zM473.8 78.8h1.5v0.5h-1.5zM484.3 78.8h0.5v0.5h-0.5zM485.3 78.8h1v0.5h-1zM486.8 78.8h0.5v0.5h-0.5zM487.8 78.8h0.5v0.5h-0.5zM491.3 78.8h0.5v0.5h-0.5zM493.3 78.8h0.5v0.5h-0.5zM495.3 78.8h0.5v0.5h-0.5zM497.8 78.8h0.5v0.5h-0.5zM500.8 78.8h0.5v0.5h-0.5zM503.3 78.8h0.5v0.5h-0.5zM504.8 78.8h0.5v0.5h-0.5zM507.3 78.8h0.5v0.5h-0.5zM510.8 78.8h0.5v0.5h-0.5zM514.3 78.8h0.5v0.5h-0.5zM515.8 78.8h0.5v0.5h-0.5zM453.8 79.3h0.5v0.5h-0.5zM454.8 79.3h0.5v0.5h-0.5zM455.8 79.3h3v0.5h-3zM459.8 79.3h1v0.5h-1zM461.3 79.3h0.5v0.5h-0.5zM462.8 79.3h0.5v0.5h-0.5zM463.8 79.3h1.5v0.5h-1.5zM465.8 79.3h0.5v0.5h-0.5zM470.3 79.3h1v0.5h-1zM474.3 79.3h1.5v0.5h-1.5zM476.8 79.3h0.5v0.5h-0.5zM478.8 79.3h0.5v0.5h-0.5zM479.8 79.3h0.5v0.5h-0.5zM481.3 79.3h0.5v0.5h-0.5zM484.8 79.3h1v0.5h-1zM490.8 79.3h1v0.5h-1zM494.3 79.3h0.5v0.5h-0.5zM495.8 79.3h0.5v0.5h-0.5zM498.3 79.3h0.5v0.5h-0.5zM505.3 79.3h1v0.5h-1zM506.8 79.3h0.5v0.5h-0.5zM512.3 79.3h0.5v0.5h-0.5zM513.3 79.3h0.5v0.5h-0.5zM451.8 79.8h1v0.5h-1zM453.3 79.8h1.5v0.5h-1.5zM455.3 79.8h0.5v0.5h-0.5zM456.3 79.8h0.5v0.5h-0.5zM457.3 79.8h0.5v0.5h-0.5zM459.3 79.8h2.5v0.5h-2.5zM462.3 79.8h1v0.5h-1zM463.8 79.8h0.5v0.5h-0.5zM465.3 79.8h0.5v0.5h-0.5zM470.8 79.8h1v0.5h-1zM474.8 79.8h0.5v0.5h-0.5zM476.3 79.8h0.5v0.5h-0.5zM477.8 79.8h0.5v0.5h-0.5zM478.8 79.8h0.5v0.5h-0.5zM479.8 79.8h0.5v0.5h-0.5zM481.8 79.8h1v0.5h-1zM489.8 79.8h0.5v0.5h-0.5zM490.8 79.8h0.5v0.5h-0.5zM491.8 79.8h0.5v0.5h-0.5zM494.3 79.8h0.5v0.5h-0.5zM495.8 79.8h0.5v0.5h-0.5zM496.8 79.8h0.5v0.5h-0.5zM498.8 79.8h0.5v0.5h-0.5zM504.8 79.8h0.5v0.5h-0.5zM508.8 79.8h0.5v0.5h-0.5zM452.3 80.3h0.5v0.5h-0.5zM454.3 80.3h0.5v0.5h-0.5zM456.8 80.3h0.5v0.5h-0.5zM458.3 80.3h1v0.5h-1zM463.3 80.3h0.5v0.5h-0.5zM465.3 80.3h0.5v0.5h-0.5zM468.3 80.3h2v0.5h-2zM470.8 80.3h0.5v0.5h-0.5zM472.8 80.3h0.5v0.5h-0.5zM475.8 80.3h0.5v0.5h-0.5zM477.8 80.3h0.5v0.5h-0.5zM480.3 80.3h0.5v0.5h-0.5zM481.8 80.3h0.5v0.5h-0.5zM482.8 80.3h0.5v0.5h-0.5zM483.8 80.3h1v0.5h-1zM487.3 80.3h0.5v0.5h-0.5zM488.3 80.3h0.5v0.5h-0.5zM489.3 80.3h0.5v0.5h-0.5zM493.3 80.3h1.5v0.5h-1.5zM495.3 80.3h0.5v0.5h-0.5zM496.8 80.3h1v0.5h-1zM498.3 80.3h0.5v0.5h-0.5zM508.3 80.3h0.5v0.5h-0.5zM510.8 80.3h1v0.5h-1zM512.8 80.3h0.5v0.5h-0.5zM451.8 80.8h0.5v0.5h-0.5zM453.8 80.8h1v0.5h-1zM455.3 80.8h1v0.5h-1zM456.8 80.8h1.5v0.5h-1.5zM459.8 80.8h0.5v0.5h-0.5zM461.3 80.8h1v0.5h-1zM464.3 80.8h0.5v0.5h-0.5zM465.3 80.8h0.5v0.5h-0.5zM468.3 80.8h0.5v0.5h-0.5zM469.8 80.8h1v0.5h-1zM473.3 80.8h0.5v0.5h-0.5zM476.3 80.8h0.5v0.5h-0.5zM477.8 80.8h0.5v0.5h-0.5zM479.3 80.8h0.5v0.5h-0.5zM482.8 80.8h0.5v0.5h-0.5zM484.8 80.8h0.5v0.5h-0.5zM486.8 80.8h3.5v0.5h-3.5zM490.8 80.8h1.5v0.5h-1.5zM492.8 80.8h0.5v0.5h-0.5zM493.8 80.8h0.5v0.5h-0.5zM494.8 80.8h0.5v0.5h-0.5zM499.3 80.8h0.5v0.5h-0.5zM500.3 80.8h0.5v0.5h-0.5zM502.8 80.8h0.5v0.5h-0.5zM503.8 80.8h0.5v0.5h-0.5zM506.3 80.8h1v0.5h-1zM507.8 80.8h0.5v0.5h-0.5zM451.8 81.3h1v0.5h-1zM455.3 81.3h0.5v0.5h-0.5zM456.3 81.3h0.5v0.5h-0.5zM457.8 81.3h0.5v0.5h-0.5zM458.8 81.3h0.5v0.5h-0.5zM460.3 81.3h0.5v0.5h-0.5zM461.3 81.3h1v0.5h-1zM463.3 81.3h2v0.5h-2zM466.3 81.3h0.5v0.5h-0.5zM467.3 81.3h1v0.5h-1zM468.8 81.3h0.5v0.5h-0.5zM469.8 81.3h0.5v0.5h-0.5zM471.3 81.3h0.5v0.5h-0.5zM473.3 81.3h0.5v0.5h-0.5zM475.3 81.3h0.5v0.5h-0.5zM476.8 81.3h1v0.5h-1zM478.8 81.3h0.5v0.5h-0.5zM481.3 81.3h0.5v0.5h-0.5zM482.8 81.3h1v0.5h-1zM484.8 81.3h1v0.5h-1zM486.8 81.3h0.5v0.5h-0.5zM488.8 81.3h0.5v0.5h-0.5zM489.8 81.3h1.5v0.5h-1.5zM491.8 81.3h0.5v0.5h-0.5zM493.3 81.3h1v0.5h-1zM496.3 81.3h0.5v0.5h-0.5zM498.3 81.3h0.5v0.5h-0.5zM499.8 81.3h0.5v0.5h-0.5zM500.8 81.3h1v0.5h-1zM502.8 81.3h1v0.5h-1zM504.3 81.3h0.5v0.5h-0.5zM507.3 81.3h0.5v0.5h-0.5zM512.3 81.3h0.5v0.5h-0.5zM513.3 81.3h0.5v0.5h-0.5zM514.8 81.3h0.5v0.5h-0.5zM451.3 81.8h1v0.5h-1zM457.3 81.8h0.5v0.5h-0.5zM459.3 81.8h0.5v0.5h-0.5zM460.8 81.8h2v0.5h-2zM463.3 81.8h2.5v0.5h-2.5zM466.8 81.8h0.5v0.5h-0.5zM468.3 81.8h1v0.5h-1zM476.3 81.8h0.5v0.5h-0.5zM479.3 81.8h0.5v0.5h-0.5zM480.8 81.8h0.5v0.5h-0.5zM484.3 81.8h0.5v0.5h-0.5zM485.3 81.8h3v0.5h-3zM489.3 81.8h1v0.5h-1zM490.8 81.8h0.5v0.5h-0.5zM492.8 81.8h1.5v0.5h-1.5zM494.8 81.8h1v0.5h-1zM497.3 81.8h0.5v0.5h-0.5zM501.3 81.8h1v0.5h-1zM502.8 81.8h0.5v0.5h-0.5zM505.3 81.8h0.5v0.5h-0.5zM509.3 81.8h0.5v0.5h-0.5zM512.3 81.8h1v0.5h-1zM514.8 81.8h0.5v0.5h-0.5zM450.8 82.3h0.5v0.5h-0.5zM453.8 82.3h0.5v0.5h-0.5zM454.8 82.3h0.5v0.5h-0.5zM456.3 82.3h0.5v0.5h-0.5zM457.8 82.3h0.5v0.5h-0.5zM458.8 82.3h0.5v0.5h-0.5zM459.8 82.3h0.5v0.5h-0.5zM461.3 82.3h0.5v0.5h-0.5zM462.8 82.3h0.5v0.5h-0.5zM463.8 82.3h0.5v0.5h-0.5zM464.8 82.3h1.5v0.5h-1.5zM468.3 82.3h0.5v0.5h-0.5zM469.3 82.3h1v0.5h-1zM471.3 82.3h0.5v0.5h-0.5zM474.8 82.3h0.5v0.5h-0.5zM478.8 82.3h1v0.5h-1zM480.3 82.3h0.5v0.5h-0.5zM481.8 82.3h1v0.5h-1zM483.8 82.3h6.5v0.5h-6.5zM491.8 82.3h1.5v0.5h-1.5zM494.8 82.3h1v0.5h-1zM496.8 82.3h0.5v0.5h-0.5zM498.8 82.3h0.5v0.5h-0.5zM500.8 82.3h0.5v0.5h-0.5zM502.8 82.3h0.5v0.5h-0.5zM506.3 82.3h0.5v0.5h-0.5zM510.3 82.3h0.5v0.5h-0.5zM451.8 82.8h0.5v0.5h-0.5zM454.3 82.8h1.5v0.5h-1.5zM456.8 82.8h0.5v0.5h-0.5zM458.8 82.8h0.5v0.5h-0.5zM460.8 82.8h0.5v0.5h-0.5zM463.8 82.8h1.5v0.5h-1.5zM466.8 82.8h2v0.5h-2zM474.8 82.8h0.5v0.5h-0.5zM476.8 82.8h0.5v0.5h-0.5zM478.3 82.8h0.5v0.5h-0.5zM479.8 82.8h1v0.5h-1zM481.8 82.8h0.5v0.5h-0.5zM483.8 82.8h3v0.5h-3zM487.3 82.8h1v0.5h-1zM488.8 82.8h1v0.5h-1zM490.3 82.8h1.5v0.5h-1.5zM492.3 82.8h0.5v0.5h-0.5zM493.3 82.8h0.5v0.5h-0.5zM494.3 82.8h0.5v0.5h-0.5zM495.8 82.8h0.5v0.5h-0.5zM497.3 82.8h0.5v0.5h-0.5zM499.3 82.8h0.5v0.5h-0.5zM500.3 82.8h1v0.5h-1zM502.3 82.8h0.5v0.5h-0.5zM506.8 82.8h0.5v0.5h-0.5zM508.8 82.8h0.5v0.5h-0.5zM453.3 83.3h1v0.5h-1zM455.8 83.3h1.5v0.5h-1.5zM457.8 83.3h0.5v0.5h-0.5zM464.3 83.3h1v0.5h-1zM466.8 83.3h0.5v0.5h-0.5zM468.3 83.3h0.5v0.5h-0.5zM474.8 83.3h1v0.5h-1zM476.3 83.3h0.5v0.5h-0.5zM478.3 83.3h0.5v0.5h-0.5zM480.3 83.3h1v0.5h-1zM481.8 83.3h2v0.5h-2zM484.3 83.3h1.5v0.5h-1.5zM486.8 83.3h3.5v0.5h-3.5zM490.8 83.3h0.5v0.5h-0.5zM491.8 83.3h0.5v0.5h-0.5zM492.8 83.3h0.5v0.5h-0.5zM495.3 83.3h1v0.5h-1zM496.8 83.3h0.5v0.5h-0.5zM498.3 83.3h0.5v0.5h-0.5zM500.3 83.3h0.5v0.5h-0.5zM503.8 83.3h1v0.5h-1zM506.8 83.3h1v0.5h-1zM508.3 83.3h1v0.5h-1zM510.8 83.3h0.5v0.5h-0.5zM512.8 83.3h0.5v0.5h-0.5zM451.3 83.8h0.5v0.5h-0.5zM452.8 83.8h0.5v0.5h-0.5zM453.8 83.8h0.5v0.5h-0.5zM455.3 83.8h0.5v0.5h-0.5zM456.8 83.8h1v0.5h-1zM458.3 83.8h1v0.5h-1zM459.8 83.8h1v0.5h-1zM461.8 83.8h0.5v0.5h-0.5zM463.3 83.8h4v0.5h-4zM468.8 83.8h0.5v0.5h-0.5zM469.8 83.8h0.5v0.5h-0.5zM471.3 83.8h0.5v0.5h-0.5zM472.8 83.8h0.5v0.5h-0.5zM474.8 83.8h1.5v0.5h-1.5zM478.3 83.8h0.5v0.5h-0.5zM479.8 83.8h1v0.5h-1zM481.3 83.8h0.5v0.5h-0.5zM482.8 83.8h1v0.5h-1zM484.3 83.8h1.5v0.5h-1.5zM486.3 83.8h3.5v0.5h-3.5zM490.3 83.8h1v0.5h-1zM491.8 83.8h2.5v0.5h-2.5zM495.8 83.8h0.5v0.5h-0.5zM497.8 83.8h1v0.5h-1zM499.8 83.8h0.5v0.5h-0.5zM502.3 83.8h0.5v0.5h-0.5zM505.3 83.8h1.5v0.5h-1.5zM507.8 83.8h0.5v0.5h-0.5zM510.3 83.8h0.5v0.5h-0.5zM514.3 83.8h0.5v0.5h-0.5zM452.8 84.3h0.5v0.5h-0.5zM453.8 84.3h1.5v0.5h-1.5zM457.8 84.3h0.5v0.5h-0.5zM458.8 84.3h1.5v0.5h-1.5zM460.8 84.3h0.5v0.5h-0.5zM461.8 84.3h1v0.5h-1zM465.3 84.3h0.5v0.5h-0.5zM475.3 84.3h0.5v0.5h-0.5zM476.3 84.3h1v0.5h-1zM477.8 84.3h1v0.5h-1zM479.8 84.3h3v0.5h-3zM483.3 84.3h1.5v0.5h-1.5zM485.3 84.3h1v0.5h-1zM486.8 84.3h0.5v0.5h-0.5zM487.8 84.3h2v0.5h-2zM490.3 84.3h0.5v0.5h-0.5zM492.3 84.3h1.5v0.5h-1.5zM494.8 84.3h1.5v0.5h-1.5zM497.3 84.3h0.5v0.5h-0.5zM504.8 84.3h0.5v0.5h-0.5zM506.3 84.3h0.5v0.5h-0.5zM507.8 84.3h0.5v0.5h-0.5zM510.8 84.3h0.5v0.5h-0.5zM514.8 84.3h1v0.5h-1zM451.3 84.8h0.5v0.5h-0.5zM453.3 84.8h0.5v0.5h-0.5zM458.3 84.8h0.5v0.5h-0.5zM460.8 84.8h2.5v0.5h-2.5zM463.8 84.8h0.5v0.5h-0.5zM464.8 84.8h0.5v0.5h-0.5zM466.8 84.8h0.5v0.5h-0.5zM468.8 84.8h0.5v0.5h-0.5zM469.8 84.8h0.5v0.5h-0.5zM471.8 84.8h1v0.5h-1zM473.8 84.8h0.5v0.5h-0.5zM474.8 84.8h0.5v0.5h-0.5zM477.3 84.8h1v0.5h-1zM478.8 84.8h2.5v0.5h-2.5zM481.8 84.8h1.5v0.5h-1.5zM483.8 84.8h2v0.5h-2zM487.3 84.8h1.5v0.5h-1.5zM489.3 84.8h0.5v0.5h-0.5zM490.3 84.8h1v0.5h-1zM492.3 84.8h0.5v0.5h-0.5zM496.3 84.8h1v0.5h-1zM497.8 84.8h0.5v0.5h-0.5zM499.8 84.8h0.5v0.5h-0.5zM501.3 84.8h0.5v0.5h-0.5zM506.3 84.8h0.5v0.5h-0.5zM509.8 84.8h0.5v0.5h-0.5zM456.8 85.3h0.5v0.5h-0.5zM458.3 85.3h1.5v0.5h-1.5zM461.3 85.3h0.5v0.5h-0.5zM463.8 85.3h0.5v0.5h-0.5zM465.3 85.3h1v0.5h-1zM466.8 85.3h0.5v0.5h-0.5zM467.8 85.3h0.5v0.5h-0.5zM471.3 85.3h0.5v0.5h-0.5zM472.3 85.3h0.5v0.5h-0.5zM474.8 85.3h0.5v0.5h-0.5zM475.8 85.3h1.5v0.5h-1.5zM477.8 85.3h0.5v0.5h-0.5zM478.8 85.3h1.5v0.5h-1.5zM480.8 85.3h3v0.5h-3zM484.3 85.3h2v0.5h-2zM486.8 85.3h2v0.5h-2zM489.3 85.3h1v0.5h-1zM490.8 85.3h3.5v0.5h-3.5zM494.8 85.3h0.5v0.5h-0.5zM497.8 85.3h1v0.5h-1zM500.3 85.3h0.5v0.5h-0.5zM501.3 85.3h0.5v0.5h-0.5zM503.3 85.3h0.5v0.5h-0.5zM504.3 85.3h1v0.5h-1zM506.8 85.3h0.5v0.5h-0.5zM507.8 85.3h0.5v0.5h-0.5zM509.3 85.3h0.5v0.5h-0.5zM510.8 85.3h0.5v0.5h-0.5zM515.8 85.3h0.5v0.5h-0.5zM455.3 85.8h0.5v0.5h-0.5zM456.8 85.8h0.5v0.5h-0.5zM458.3 85.8h1v0.5h-1zM459.8 85.8h0.5v0.5h-0.5zM460.8 85.8h1v0.5h-1zM463.3 85.8h3v0.5h-3zM468.3 85.8h0.5v0.5h-0.5zM471.3 85.8h0.5v0.5h-0.5zM472.8 85.8h0.5v0.5h-0.5zM476.3 85.8h2v0.5h-2zM479.8 85.8h1v0.5h-1zM481.8 85.8h8.5v0.5h-8.5zM490.8 85.8h0.5v0.5h-0.5zM492.3 85.8h1.5v0.5h-1.5zM494.8 85.8h0.5v0.5h-0.5zM495.8 85.8h1v0.5h-1zM497.8 85.8h1v0.5h-1zM500.3 85.8h0.5v0.5h-0.5zM502.8 85.8h3v0.5h-3zM506.8 85.8h0.5v0.5h-0.5zM508.3 85.8h0.5v0.5h-0.5zM509.8 85.8h0.5v0.5h-0.5zM513.8 85.8h1v0.5h-1zM455.3 86.3h0.5v0.5h-0.5zM456.3 86.3h0.5v0.5h-0.5zM457.3 86.3h1.5v0.5h-1.5zM459.3 86.3h0.5v0.5h-0.5zM460.8 86.3h2v0.5h-2zM463.8 86.3h0.5v0.5h-0.5zM465.3 86.3h1v0.5h-1zM467.3 86.3h1v0.5h-1zM468.8 86.3h0.5v0.5h-0.5zM471.3 86.3h0.5v0.5h-0.5zM474.3 86.3h2v0.5h-2zM476.8 86.3h0.5v0.5h-0.5zM477.8 86.3h3.5v0.5h-3.5zM482.3 86.3h2.5v0.5h-2.5zM485.3 86.3h3v0.5h-3zM488.8 86.3h2v0.5h-2zM491.3 86.3h1v0.5h-1zM493.3 86.3h0.5v0.5h-0.5zM496.3 86.3h0.5v0.5h-0.5zM498.3 86.3h0.5v0.5h-0.5zM505.8 86.3h0.5v0.5h-0.5zM508.8 86.3h0.5v0.5h-0.5zM514.8 86.3h1v0.5h-1zM455.3 86.8h1.5v0.5h-1.5zM457.8 86.8h0.5v0.5h-0.5zM458.8 86.8h0.5v0.5h-0.5zM460.3 86.8h0.5v0.5h-0.5zM461.3 86.8h0.5v0.5h-0.5zM462.3 86.8h2.5v0.5h-2.5zM465.8 86.8h1v0.5h-1zM467.3 86.8h1v0.5h-1zM469.3 86.8h0.5v0.5h-0.5zM471.8 86.8h1v0.5h-1zM473.8 86.8h0.5v0.5h-0.5zM474.8 86.8h0.5v0.5h-0.5zM475.8 86.8h1v0.5h-1zM477.3 86.8h0.5v0.5h-0.5zM478.3 86.8h3v0.5h-3zM481.8 86.8h1v0.5h-1zM483.8 86.8h3v0.5h-3zM487.3 86.8h0.5v0.5h-0.5zM488.3 86.8h0.5v0.5h-0.5zM489.3 86.8h3v0.5h-3zM493.3 86.8h1.5v0.5h-1.5zM495.8 86.8h0.5v0.5h-0.5zM496.8 86.8h0.5v0.5h-0.5zM498.3 86.8h1v0.5h-1zM500.8 86.8h0.5v0.5h-0.5zM502.8 86.8h0.5v0.5h-0.5zM504.3 86.8h1v0.5h-1zM507.3 86.8h1v0.5h-1zM508.8 86.8h0.5v0.5h-0.5zM510.3 86.8h0.5v0.5h-0.5zM514.3 86.8h0.5v0.5h-0.5zM515.8 86.8h0.5v0.5h-0.5zM456.3 87.3h0.5v0.5h-0.5zM458.3 87.3h0.5v0.5h-0.5zM459.8 87.3h0.5v0.5h-0.5zM461.3 87.3h2.5v0.5h-2.5zM464.3 87.3h1v0.5h-1zM465.8 87.3h1v0.5h-1zM468.3 87.3h0.5v0.5h-0.5zM469.8 87.3h1.5v0.5h-1.5zM472.3 87.3h2v0.5h-2zM475.3 87.3h0.5v0.5h-0.5zM476.3 87.3h2.5v0.5h-2.5zM479.3 87.3h3.5v0.5h-3.5zM483.3 87.3h3.5v0.5h-3.5zM487.8 87.3h2v0.5h-2zM491.3 87.3h0.5v0.5h-0.5zM492.3 87.3h1v0.5h-1zM495.3 87.3h0.5v0.5h-0.5zM496.8 87.3h1v0.5h-1zM498.8 87.3h0.5v0.5h-0.5zM499.8 87.3h0.5v0.5h-0.5zM501.8 87.3h0.5v0.5h-0.5zM504.3 87.3h0.5v0.5h-0.5zM505.3 87.3h0.5v0.5h-0.5zM510.8 87.3h0.5v0.5h-0.5zM450.3 87.8h0.5v0.5h-0.5zM452.3 87.8h0.5v0.5h-0.5zM453.3 87.8h0.5v0.5h-0.5zM455.8 87.8h0.5v0.5h-0.5zM456.8 87.8h0.5v0.5h-0.5zM457.8 87.8h0.5v0.5h-0.5zM459.3 87.8h0.5v0.5h-0.5zM460.3 87.8h1.5v0.5h-1.5zM462.3 87.8h4v0.5h-4zM466.8 87.8h1v0.5h-1zM468.3 87.8h1.5v0.5h-1.5zM470.8 87.8h2v0.5h-2zM475.8 87.8h1v0.5h-1zM477.8 87.8h1v0.5h-1zM479.8 87.8h3v0.5h-3zM483.3 87.8h3.5v0.5h-3.5zM487.3 87.8h0.5v0.5h-0.5zM488.3 87.8h3.5v0.5h-3.5zM492.3 87.8h0.5v0.5h-0.5zM493.3 87.8h0.5v0.5h-0.5zM495.3 87.8h0.5v0.5h-0.5zM496.8 87.8h0.5v0.5h-0.5zM501.3 87.8h1.5v0.5h-1.5zM503.8 87.8h1.5v0.5h-1.5zM506.3 87.8h1.5v0.5h-1.5zM509.3 87.8h0.5v0.5h-0.5zM451.8 88.3h0.5v0.5h-0.5zM453.3 88.3h0.5v0.5h-0.5zM455.8 88.3h0.5v0.5h-0.5zM456.8 88.3h0.5v0.5h-0.5zM458.3 88.3h1v0.5h-1zM459.8 88.3h1.5v0.5h-1.5zM462.3 88.3h0.5v0.5h-0.5zM463.3 88.3h3.5v0.5h-3.5zM468.8 88.3h0.5v0.5h-0.5zM469.8 88.3h0.5v0.5h-0.5zM473.8 88.3h0.5v0.5h-0.5zM474.8 88.3h2.5v0.5h-2.5zM477.8 88.3h3v0.5h-3zM481.3 88.3h0.5v0.5h-0.5zM482.3 88.3h1.5v0.5h-1.5zM484.8 88.3h3.5v0.5h-3.5zM488.8 88.3h0.5v0.5h-0.5zM489.8 88.3h0.5v0.5h-0.5zM490.8 88.3h0.5v0.5h-0.5zM491.8 88.3h1.5v0.5h-1.5zM493.8 88.3h1.5v0.5h-1.5zM496.3 88.3h1v0.5h-1zM498.3 88.3h0.5v0.5h-0.5zM499.3 88.3h0.5v0.5h-0.5zM500.3 88.3h1v0.5h-1zM503.8 88.3h0.5v0.5h-0.5zM504.8 88.3h1v0.5h-1zM506.8 88.3h0.5v0.5h-0.5zM507.8 88.3h0.5v0.5h-0.5zM509.8 88.3h0.5v0.5h-0.5zM513.8 88.3h0.5v0.5h-0.5zM451.3 88.8h0.5v0.5h-0.5zM454.3 88.8h0.5v0.5h-0.5zM456.3 88.8h5.5v0.5h-5.5zM462.3 88.8h3v0.5h-3zM465.8 88.8h0.5v0.5h-0.5zM466.8 88.8h1.5v0.5h-1.5zM468.8 88.8h0.5v0.5h-0.5zM471.3 88.8h0.5v0.5h-0.5zM472.8 88.8h5.5v0.5h-5.5zM478.8 88.8h2.5v0.5h-2.5zM481.8 88.8h7v0.5h-7zM490.3 88.8h0.5v0.5h-0.5zM491.3 88.8h1v0.5h-1zM492.8 88.8h1.5v0.5h-1.5zM497.3 88.8h1v0.5h-1zM498.8 88.8h1v0.5h-1zM500.3 88.8h0.5v0.5h-0.5zM501.3 88.8h1.5v0.5h-1.5zM503.3 88.8h1v0.5h-1zM504.8 88.8h0.5v0.5h-0.5zM508.8 88.8h0.5v0.5h-0.5zM510.3 88.8h0.5v0.5h-0.5zM512.3 88.8h1v0.5h-1zM515.8 88.8h0.5v0.5h-0.5zM451.3 89.3h0.5v0.5h-0.5zM453.3 89.3h1.5v0.5h-1.5zM456.3 89.3h0.5v0.5h-0.5zM457.8 89.3h0.5v0.5h-0.5zM458.8 89.3h0.5v0.5h-0.5zM460.3 89.3h3v0.5h-3zM463.8 89.3h2.5v0.5h-2.5zM467.3 89.3h4v0.5h-4zM471.8 89.3h7v0.5h-7zM479.3 89.3h1v0.5h-1zM480.8 89.3h0.5v0.5h-0.5zM481.8 89.3h3v0.5h-3zM485.3 89.3h3v0.5h-3zM488.8 89.3h0.5v0.5h-0.5zM490.3 89.3h1.5v0.5h-1.5zM493.3 89.3h0.5v0.5h-0.5zM495.3 89.3h1.5v0.5h-1.5zM497.8 89.3h0.5v0.5h-0.5zM498.8 89.3h1v0.5h-1zM500.3 89.3h1v0.5h-1zM501.8 89.3h0.5v0.5h-0.5zM502.8 89.3h0.5v0.5h-0.5zM503.8 89.3h0.5v0.5h-0.5zM504.8 89.3h0.5v0.5h-0.5zM506.8 89.3h0.5v0.5h-0.5zM508.3 89.3h0.5v0.5h-0.5zM509.3 89.3h0.5v0.5h-0.5zM512.3 89.3h0.5v0.5h-0.5zM513.8 89.3h0.5v0.5h-0.5zM451.3 89.8h0.5v0.5h-0.5zM452.8 89.8h1v0.5h-1zM454.3 89.8h3v0.5h-3zM458.3 89.8h0.5v0.5h-0.5zM459.3 89.8h3.5v0.5h-3.5zM463.3 89.8h0.5v0.5h-0.5zM464.3 89.8h0.5v0.5h-0.5zM465.3 89.8h2v0.5h-2zM467.8 89.8h2v0.5h-2zM470.3 89.8h0.5v0.5h-0.5zM471.3 89.8h4v0.5h-4zM475.8 89.8h0.5v0.5h-0.5zM476.8 89.8h3v0.5h-3zM480.3 89.8h3v0.5h-3zM483.8 89.8h3v0.5h-3zM487.3 89.8h0.5v0.5h-0.5zM488.8 89.8h0.5v0.5h-0.5zM490.8 89.8h1.5v0.5h-1.5zM495.3 89.8h0.5v0.5h-0.5zM496.8 89.8h1v0.5h-1zM498.8 89.8h0.5v0.5h-0.5zM500.3 89.8h0.5v0.5h-0.5zM501.3 89.8h0.5v0.5h-0.5zM503.3 89.8h0.5v0.5h-0.5zM505.8 89.8h0.5v0.5h-0.5zM506.8 89.8h1v0.5h-1zM508.3 89.8h0.5v0.5h-0.5zM510.3 89.8h1v0.5h-1zM452.8 90.3h0.5v0.5h-0.5zM453.8 90.3h0.5v0.5h-0.5zM455.3 90.3h2.5v0.5h-2.5zM458.3 90.3h4v0.5h-4zM462.8 90.3h5.5v0.5h-5.5zM468.8 90.3h1v0.5h-1zM470.8 90.3h1v0.5h-1zM472.3 90.3h4v0.5h-4zM477.3 90.3h3.5v0.5h-3.5zM481.3 90.3h2v0.5h-2zM483.8 90.3h1.5v0.5h-1.5zM485.8 90.3h2.5v0.5h-2.5zM489.3 90.3h3.5v0.5h-3.5zM493.3 90.3h1.5v0.5h-1.5zM497.8 90.3h1v0.5h-1zM500.8 90.3h0.5v0.5h-0.5zM502.8 90.3h0.5v0.5h-0.5zM505.3 90.3h0.5v0.5h-0.5zM506.3 90.3h0.5v0.5h-0.5zM507.8 90.3h0.5v0.5h-0.5zM509.8 90.3h0.5v0.5h-0.5zM515.3 90.3h0.5v0.5h-0.5zM450.3 90.8h0.5v0.5h-0.5zM451.8 90.8h0.5v0.5h-0.5zM453.3 90.8h1.5v0.5h-1.5zM455.3 90.8h0.5v0.5h-0.5zM456.3 90.8h3v0.5h-3zM459.8 90.8h1.5v0.5h-1.5zM462.3 90.8h4v0.5h-4zM466.8 90.8h0.5v0.5h-0.5zM468.3 90.8h1.5v0.5h-1.5zM470.8 90.8h0.5v0.5h-0.5zM472.3 90.8h1v0.5h-1zM473.8 90.8h0.5v0.5h-0.5zM474.8 90.8h2v0.5h-2zM477.8 90.8h2.5v0.5h-2.5zM480.8 90.8h3.5v0.5h-3.5zM484.8 90.8h0.5v0.5h-0.5zM485.8 90.8h0.5v0.5h-0.5zM486.8 90.8h0.5v0.5h-0.5zM487.8 90.8h0.5v0.5h-0.5zM489.3 90.8h2.5v0.5h-2.5zM493.3 90.8h1.5v0.5h-1.5zM495.3 90.8h0.5v0.5h-0.5zM497.3 90.8h0.5v0.5h-0.5zM499.3 90.8h0.5v0.5h-0.5zM500.3 90.8h0.5v0.5h-0.5zM502.8 90.8h0.5v0.5h-0.5zM508.3 90.8h1v0.5h-1zM509.8 90.8h0.5v0.5h-0.5zM511.8 90.8h1v0.5h-1zM451.3 91.3h0.5v0.5h-0.5zM452.3 91.3h1v0.5h-1zM453.8 91.3h1.5v0.5h-1.5zM455.8 91.3h1v0.5h-1zM457.3 91.3h0.5v0.5h-0.5zM458.3 91.3h6.5v0.5h-6.5zM465.8 91.3h2v0.5h-2zM468.3 91.3h1v0.5h-1zM471.3 91.3h2.5v0.5h-2.5zM474.3 91.3h5v0.5h-5zM479.8 91.3h0.5v0.5h-0.5zM480.8 91.3h1v0.5h-1zM482.3 91.3h0.5v0.5h-0.5zM483.3 91.3h2v0.5h-2zM487.3 91.3h0.5v0.5h-0.5zM488.8 91.3h1v0.5h-1zM492.8 91.3h1v0.5h-1zM494.3 91.3h1v0.5h-1zM495.8 91.3h0.5v0.5h-0.5zM498.8 91.3h0.5v0.5h-0.5zM499.8 91.3h0.5v0.5h-0.5zM502.8 91.3h0.5v0.5h-0.5zM450.3 91.8h1.5v0.5h-1.5zM453.8 91.8h2v0.5h-2zM456.3 91.8h17v0.5h-17zM473.8 91.8h3.5v0.5h-3.5zM477.8 91.8h0.5v0.5h-0.5zM478.8 91.8h1.5v0.5h-1.5zM481.3 91.8h1.5v0.5h-1.5zM483.3 91.8h1.5v0.5h-1.5zM486.3 91.8h0.5v0.5h-0.5zM487.3 91.8h0.5v0.5h-0.5zM488.3 91.8h1v0.5h-1zM490.3 91.8h0.5v0.5h-0.5zM491.3 91.8h0.5v0.5h-0.5zM492.3 91.8h0.5v0.5h-0.5zM494.3 91.8h0.5v0.5h-0.5zM495.3 91.8h0.5v0.5h-0.5zM496.3 91.8h0.5v0.5h-0.5zM497.8 91.8h1.5v0.5h-1.5zM502.8 91.8h0.5v0.5h-0.5zM504.8 91.8h0.5v0.5h-0.5zM509.8 91.8h0.5v0.5h-0.5zM511.8 91.8h0.5v0.5h-0.5zM451.3 92.3h0.5v0.5h-0.5zM452.3 92.3h1v0.5h-1zM454.8 92.3h1.5v0.5h-1.5zM456.8 92.3h0.5v0.5h-0.5zM457.8 92.3h1.5v0.5h-1.5zM459.8 92.3h1v0.5h-1zM461.3 92.3h4v0.5h-4zM466.3 92.3h4.5v0.5h-4.5zM471.3 92.3h0.5v0.5h-0.5zM472.8 92.3h1v0.5h-1zM474.3 92.3h0.5v0.5h-0.5zM475.8 92.3h0.5v0.5h-0.5zM477.3 92.3h0.5v0.5h-0.5zM478.3 92.3h2v0.5h-2zM480.8 92.3h3v0.5h-3zM484.3 92.3h1v0.5h-1zM487.3 92.3h0.5v0.5h-0.5zM489.8 92.3h1v0.5h-1zM492.3 92.3h0.5v0.5h-0.5zM494.3 92.3h0.5v0.5h-0.5zM497.3 92.3h0.5v0.5h-0.5zM498.3 92.3h0.5v0.5h-0.5zM501.3 92.3h1.5v0.5h-1.5zM504.8 92.3h0.5v0.5h-0.5zM505.8 92.3h0.5v0.5h-0.5zM506.8 92.3h0.5v0.5h-0.5zM508.8 92.3h0.5v0.5h-0.5zM511.8 92.3h0.5v0.5h-0.5zM513.8 92.3h0.5v0.5h-0.5zM450.3 92.8h0.5v0.5h-0.5zM451.8 92.8h0.5v0.5h-0.5zM453.8 92.8h1.5v0.5h-1.5zM455.8 92.8h2v0.5h-2zM458.3 92.8h3.5v0.5h-3.5zM462.3 92.8h1.5v0.5h-1.5zM464.3 92.8h3.5v0.5h-3.5zM468.3 92.8h3v0.5h-3zM471.8 92.8h0.5v0.5h-0.5zM473.8 92.8h0.5v0.5h-0.5zM474.8 92.8h5.5v0.5h-5.5zM481.3 92.8h2.5v0.5h-2.5zM484.3 92.8h0.5v0.5h-0.5zM485.3 92.8h0.5v0.5h-0.5zM487.3 92.8h1.5v0.5h-1.5zM495.3 92.8h0.5v0.5h-0.5zM496.3 92.8h1v0.5h-1zM501.3 92.8h0.5v0.5h-0.5zM502.3 92.8h0.5v0.5h-0.5zM503.8 92.8h0.5v0.5h-0.5zM504.8 92.8h1v0.5h-1zM507.8 92.8h1v0.5h-1zM451.3 93.3h0.5v0.5h-0.5zM452.3 93.3h2v0.5h-2zM455.3 93.3h2.5v0.5h-2.5zM458.3 93.3h8v0.5h-8zM466.8 93.3h1v0.5h-1zM468.3 93.3h1v0.5h-1zM470.8 93.3h0.5v0.5h-0.5zM471.8 93.3h2v0.5h-2zM474.8 93.3h2.5v0.5h-2.5zM477.8 93.3h0.5v0.5h-0.5zM478.8 93.3h1v0.5h-1zM480.3 93.3h2v0.5h-2zM483.3 93.3h1v0.5h-1zM489.3 93.3h0.5v0.5h-0.5zM490.3 93.3h0.5v0.5h-0.5zM492.3 93.3h0.5v0.5h-0.5zM499.3 93.3h0.5v0.5h-0.5zM500.3 93.3h0.5v0.5h-0.5zM502.3 93.3h0.5v0.5h-0.5zM503.3 93.3h0.5v0.5h-0.5zM505.8 93.3h0.5v0.5h-0.5zM507.8 93.3h0.5v0.5h-0.5zM509.8 93.3h0.5v0.5h-0.5zM450.8 93.8h0.5v0.5h-0.5zM452.3 93.8h1.5v0.5h-1.5zM454.8 93.8h12.5v0.5h-12.5zM468.3 93.8h2.5v0.5h-2.5zM471.8 93.8h3.5v0.5h-3.5zM476.8 93.8h0.5v0.5h-0.5zM477.8 93.8h1.5v0.5h-1.5zM479.8 93.8h1.5v0.5h-1.5zM481.8 93.8h0.5v0.5h-0.5zM485.3 93.8h0.5v0.5h-0.5zM486.3 93.8h0.5v0.5h-0.5zM492.8 93.8h0.5v0.5h-0.5zM495.8 93.8h1v0.5h-1zM497.3 93.8h1v0.5h-1zM500.3 93.8h1.5v0.5h-1.5zM503.3 93.8h0.5v0.5h-0.5zM504.8 93.8h0.5v0.5h-0.5zM510.8 93.8h0.5v0.5h-0.5zM450.8 94.3h1.5v0.5h-1.5zM452.8 94.3h1v0.5h-1zM454.3 94.3h3.5v0.5h-3.5zM458.3 94.3h6v0.5h-6zM464.8 94.3h5v0.5h-5zM470.3 94.3h0.5v0.5h-0.5zM471.8 94.3h0.5v0.5h-0.5zM473.8 94.3h0.5v0.5h-0.5zM474.8 94.3h1v0.5h-1zM476.3 94.3h1v0.5h-1zM478.3 94.3h2v0.5h-2zM484.3 94.3h0.5v0.5h-0.5zM488.8 94.3h0.5v0.5h-0.5zM490.8 94.3h0.5v0.5h-0.5zM492.8 94.3h0.5v0.5h-0.5zM494.8 94.3h0.5v0.5h-0.5zM495.8 94.3h1.5v0.5h-1.5zM498.3 94.3h1v0.5h-1zM499.8 94.3h1v0.5h-1zM503.3 94.3h0.5v0.5h-0.5zM505.3 94.3h0.5v0.5h-0.5zM506.8 94.3h0.5v0.5h-0.5zM509.3 94.3h0.5v0.5h-0.5zM450.8 94.8h0.5v0.5h-0.5zM451.8 94.8h9v0.5h-9zM461.8 94.8h9v0.5h-9zM471.3 94.8h1.5v0.5h-1.5zM473.3 94.8h0.5v0.5h-0.5zM475.8 94.8h0.5v0.5h-0.5zM477.3 94.8h0.5v0.5h-0.5zM479.8 94.8h0.5v0.5h-0.5zM483.3 94.8h0.5v0.5h-0.5zM484.8 94.8h0.5v0.5h-0.5zM488.3 94.8h1v0.5h-1zM493.3 94.8h0.5v0.5h-0.5zM494.3 94.8h0.5v0.5h-0.5zM498.8 94.8h0.5v0.5h-0.5zM499.8 94.8h1v0.5h-1zM503.8 94.8h0.5v0.5h-0.5zM505.8 94.8h1v0.5h-1zM507.8 94.8h0.5v0.5h-0.5zM450.3 95.3h0.5v0.5h-0.5zM451.8 95.3h1.5v0.5h-1.5zM453.8 95.3h1.5v0.5h-1.5zM455.8 95.3h8.5v0.5h-8.5zM464.8 95.3h0.5v0.5h-0.5zM465.8 95.3h2v0.5h-2zM468.8 95.3h0.5v0.5h-0.5zM469.8 95.3h1v0.5h-1zM473.3 95.3h2v0.5h-2zM475.8 95.3h0.5v0.5h-0.5zM477.8 95.3h0.5v0.5h-0.5zM478.8 95.3h0.5v0.5h-0.5zM480.3 95.3h0.5v0.5h-0.5zM496.3 95.3h0.5v0.5h-0.5zM498.8 95.3h0.5v0.5h-0.5zM503.8 95.3h0.5v0.5h-0.5zM505.8 95.3h0.5v0.5h-0.5zM506.8 95.3h0.5v0.5h-0.5zM513.8 95.3h0.5v0.5h-0.5zM450.8 95.8h0.5v0.5h-0.5zM452.3 95.8h8.5v0.5h-8.5zM461.3 95.8h4v0.5h-4zM465.8 95.8h0.5v0.5h-0.5zM466.8 95.8h0.5v0.5h-0.5zM467.8 95.8h0.5v0.5h-0.5zM468.8 95.8h1v0.5h-1zM470.3 95.8h0.5v0.5h-0.5zM471.3 95.8h1v0.5h-1zM473.3 95.8h0.5v0.5h-0.5zM477.3 95.8h0.5v0.5h-0.5zM483.8 95.8h0.5v0.5h-0.5zM485.3 95.8h0.5v0.5h-0.5zM489.3 95.8h1v0.5h-1zM496.8 95.8h1v0.5h-1zM501.3 95.8h0.5v0.5h-0.5zM505.3 95.8h0.5v0.5h-0.5zM506.3 95.8h1v0.5h-1zM510.3 95.8h1v0.5h-1zM450.3 96.3h0.5v0.5h-0.5zM451.8 96.3h0.5v0.5h-0.5zM452.8 96.3h5.5v0.5h-5.5zM458.8 96.3h8.5v0.5h-8.5zM467.8 96.3h0.5v0.5h-0.5zM469.8 96.3h0.5v0.5h-0.5zM470.8 96.3h0.5v0.5h-0.5zM471.8 96.3h1.5v0.5h-1.5zM473.8 96.3h0.5v0.5h-0.5zM477.3 96.3h0.5v0.5h-0.5zM479.8 96.3h0.5v0.5h-0.5zM491.3 96.3h0.5v0.5h-0.5zM492.8 96.3h1v0.5h-1zM496.3 96.3h1.5v0.5h-1.5zM501.8 96.3h1v0.5h-1zM503.3 96.3h0.5v0.5h-0.5zM505.3 96.3h0.5v0.5h-0.5zM450.3 96.8h0.5v0.5h-0.5zM451.8 96.8h0.5v0.5h-0.5zM453.3 96.8h0.5v0.5h-0.5zM454.3 96.8h1.5v0.5h-1.5zM456.3 96.8h2.5v0.5h-2.5zM459.3 96.8h3v0.5h-3zM462.8 96.8h0.5v0.5h-0.5zM463.8 96.8h1.5v0.5h-1.5zM465.8 96.8h4.5v0.5h-4.5zM471.3 96.8h0.5v0.5h-0.5zM473.8 96.8h0.5v0.5h-0.5zM477.3 96.8h0.5v0.5h-0.5zM478.3 96.8h0.5v0.5h-0.5zM479.3 96.8h0.5v0.5h-0.5zM487.3 96.8h0.5v0.5h-0.5zM489.3 96.8h0.5v0.5h-0.5zM490.3 96.8h0.5v0.5h-0.5zM492.3 96.8h0.5v0.5h-0.5zM494.3 96.8h0.5v0.5h-0.5zM496.3 96.8h0.5v0.5h-0.5zM499.3 96.8h0.5v0.5h-0.5zM500.3 96.8h0.5v0.5h-0.5zM501.3 96.8h0.5v0.5h-0.5zM506.3 96.8h0.5v0.5h-0.5zM507.3 96.8h0.5v0.5h-0.5zM508.8 96.8h0.5v0.5h-0.5zM514.3 96.8h0.5v0.5h-0.5zM450.3 97.3h1v0.5h-1zM451.8 97.3h14v0.5h-14zM466.3 97.3h0.5v0.5h-0.5zM467.8 97.3h3v0.5h-3zM473.3 97.3h1v0.5h-1zM474.8 97.3h0.5v0.5h-0.5zM477.8 97.3h0.5v0.5h-0.5zM484.8 97.3h0.5v0.5h-0.5zM486.8 97.3h0.5v0.5h-0.5zM491.8 97.3h0.5v0.5h-0.5zM493.8 97.3h1v0.5h-1zM495.8 97.3h0.5v0.5h-0.5zM498.3 97.3h1v0.5h-1zM504.8 97.3h0.5v0.5h-0.5zM506.3 97.3h0.5v0.5h-0.5zM511.8 97.3h0.5v0.5h-0.5zM515.8 97.3h0.5v0.5h-0.5zM450.3 97.8h0.5v0.5h-0.5zM451.3 97.8h0.5v0.5h-0.5zM452.3 97.8h2.5v0.5h-2.5zM455.3 97.8h11v0.5h-11zM467.3 97.8h1v0.5h-1zM469.8 97.8h1v0.5h-1zM492.3 97.8h1v0.5h-1zM493.8 97.8h0.5v0.5h-0.5zM495.8 97.8h0.5v0.5h-0.5zM496.8 97.8h1v0.5h-1zM498.3 97.8h0.5v0.5h-0.5zM509.3 97.8h0.5v0.5h-0.5zM451.3 98.3h0.5v0.5h-0.5zM452.3 98.3h1.5v0.5h-1.5zM454.3 98.3h1.5v0.5h-1.5zM456.3 98.3h3.5v0.5h-3.5zM460.3 98.3h5.5v0.5h-5.5zM466.3 98.3h1v0.5h-1zM467.8 98.3h1v0.5h-1zM470.3 98.3h1v0.5h-1zM482.3 98.3h1v0.5h-1zM486.8 98.3h0.5v0.5h-0.5zM487.8 98.3h0.5v0.5h-0.5zM492.3 98.3h0.5v0.5h-0.5zM493.8 98.3h1v0.5h-1zM497.8 98.3h2v0.5h-2zM500.8 98.3h0.5v0.5h-0.5zM505.3 98.3h0.5v0.5h-0.5zM507.8 98.3h1v0.5h-1zM509.3 98.3h0.5v0.5h-0.5zM510.8 98.3h0.5v0.5h-0.5zM450.8 98.8h1v0.5h-1zM452.8 98.8h2v0.5h-2zM455.3 98.8h0.5v0.5h-0.5zM456.3 98.8h4v0.5h-4zM460.8 98.8h1.5v0.5h-1.5zM462.8 98.8h6v0.5h-6zM469.3 98.8h0.5v0.5h-0.5zM470.3 98.8h0.5v0.5h-0.5zM472.3 98.8h0.5v0.5h-0.5zM490.3 98.8h0.5v0.5h-0.5zM492.8 98.8h0.5v0.5h-0.5zM498.8 98.8h0.5v0.5h-0.5zM501.8 98.8h0.5v0.5h-0.5zM505.8 98.8h0.5v0.5h-0.5zM510.3 98.8h0.5v0.5h-0.5zM450.3 99.3h0.5v0.5h-0.5zM451.3 99.3h0.5v0.5h-0.5zM452.3 99.3h7v0.5h-7zM459.8 99.3h4.5v0.5h-4.5zM464.8 99.3h2.5v0.5h-2.5zM467.8 99.3h2v0.5h-2zM470.8 99.3h0.5v0.5h-0.5zM476.8 99.3h0.5v0.5h-0.5zM480.3 99.3h0.5v0.5h-0.5zM484.8 99.3h0.5v0.5h-0.5zM489.8 99.3h1v0.5h-1zM492.8 99.3h0.5v0.5h-0.5zM498.8 99.3h0.5v0.5h-0.5zM499.8 99.3h0.5v0.5h-0.5zM501.8 99.3h0.5v0.5h-0.5zM503.8 99.3h0.5v0.5h-0.5zM504.8 99.3h0.5v0.5h-0.5zM507.8 99.3h0.5v0.5h-0.5zM450.8 99.8h0.5v0.5h-0.5zM451.8 99.8h0.5v0.5h-0.5zM453.3 99.8h1v0.5h-1zM454.8 99.8h2.5v0.5h-2.5zM458.3 99.8h4.5v0.5h-4.5zM463.3 99.8h1v0.5h-1zM466.3 99.8h0.5v0.5h-0.5zM467.8 99.8h0.5v0.5h-0.5zM469.3 99.8h1.5v0.5h-1.5zM481.3 99.8h0.5v0.5h-0.5zM485.3 99.8h1v0.5h-1zM487.3 99.8h0.5v0.5h-0.5zM489.8 99.8h0.5v0.5h-0.5zM496.3 99.8h0.5v0.5h-0.5zM502.3 99.8h0.5v0.5h-0.5zM507.3 99.8h0.5v0.5h-0.5zM512.8 99.8h0.5v0.5h-0.5zM451.8 100.3h2v0.5h-2zM454.3 100.3h3.5v0.5h-3.5zM458.3 100.3h6v0.5h-6zM464.8 100.3h0.5v0.5h-0.5zM465.8 100.3h2.5v0.5h-2.5zM476.3 100.3h0.5v0.5h-0.5zM501.3 100.3h0.5v0.5h-0.5zM503.3 100.3h0.5v0.5h-0.5zM505.8 100.3h0.5v0.5h-0.5zM512.3 100.3h0.5v0.5h-0.5zM450.3 100.8h1v0.5h-1zM451.8 100.8h0.5v0.5h-0.5zM452.8 100.8h7.5v0.5h-7.5zM460.8 100.8h0.5v0.5h-0.5zM461.8 100.8h1.5v0.5h-1.5zM463.8 100.8h1.5v0.5h-1.5zM465.8 100.8h0.5v0.5h-0.5zM467.3 100.8h1.5v0.5h-1.5zM469.3 100.8h0.5v0.5h-0.5zM470.3 100.8h0.5v0.5h-0.5zM471.3 100.8h0.5v0.5h-0.5zM484.3 100.8h0.5v0.5h-0.5zM495.8 100.8h0.5v0.5h-0.5zM499.3 100.8h0.5v0.5h-0.5zM500.3 100.8h0.5v0.5h-0.5zM503.3 100.8h0.5v0.5h-0.5zM509.3 100.8h0.5v0.5h-0.5zM510.8 100.8h0.5v0.5h-0.5zM513.8 100.8h0.5v0.5h-0.5zM450.3 101.3h0.5v0.5h-0.5zM451.3 101.3h1v0.5h-1zM452.8 101.3h1v0.5h-1zM455.3 101.3h4.5v0.5h-4.5zM460.3 101.3h1.5v0.5h-1.5zM462.3 101.3h4.5v0.5h-4.5zM467.8 101.3h0.5v0.5h-0.5zM469.3 101.3h0.5v0.5h-0.5zM471.3 101.3h0.5v0.5h-0.5zM473.3 101.3h0.5v0.5h-0.5zM481.3 101.3h0.5v0.5h-0.5zM483.3 101.3h0.5v0.5h-0.5zM487.3 101.3h0.5v0.5h-0.5zM490.8 101.3h0.5v0.5h-0.5zM504.3 101.3h1v0.5h-1zM450.8 101.8h2v0.5h-2zM453.3 101.8h4v0.5h-4zM457.8 101.8h1.5v0.5h-1.5zM459.8 101.8h0.5v0.5h-0.5zM460.8 101.8h4v0.5h-4zM465.3 101.8h0.5v0.5h-0.5zM468.3 101.8h0.5v0.5h-0.5zM469.3 101.8h0.5v0.5h-0.5zM492.3 101.8h0.5v0.5h-0.5zM499.3 101.8h0.5v0.5h-0.5zM450.8 102.3h0.5v0.5h-0.5zM451.8 102.3h2v0.5h-2zM454.3 102.3h1v0.5h-1zM455.8 102.3h2v0.5h-2zM458.3 102.3h1v0.5h-1zM459.8 102.3h0.5v0.5h-0.5zM460.8 102.3h1v0.5h-1zM462.8 102.3h2.5v0.5h-2.5zM465.8 102.3h1.5v0.5h-1.5zM493.8 102.3h0.5v0.5h-0.5zM450.8 102.8h0.5v0.5h-0.5zM451.8 102.8h0.5v0.5h-0.5zM452.8 102.8h2v0.5h-2zM455.3 102.8h1v0.5h-1zM456.8 102.8h3.5v0.5h-3.5zM460.8 102.8h4v0.5h-4zM465.3 102.8h2v0.5h-2zM469.8 102.8h1v0.5h-1zM483.8 102.8h0.5v0.5h-0.5zM485.8 102.8h0.5v0.5h-0.5zM502.8 102.8h0.5v0.5h-0.5zM513.3 102.8h0.5v0.5h-0.5zM451.3 103.3h0.5v0.5h-0.5zM453.8 103.3h1.5v0.5h-1.5zM455.8 103.3h4v0.5h-4zM460.8 103.3h3v0.5h-3zM467.3 103.3h0.5v0.5h-0.5zM468.8 103.3h0.5v0.5h-0.5zM472.3 103.3h0.5v0.5h-0.5zM492.8 103.3h0.5v0.5h-0.5zM503.3 103.3h0.5v0.5h-0.5zM509.3 103.3h0.5v0.5h-0.5zM451.8 103.8h0.5v0.5h-0.5zM452.8 103.8h0.5v0.5h-0.5zM453.8 103.8h6v0.5h-6zM460.3 103.8h0.5v0.5h-0.5zM461.3 103.8h1v0.5h-1zM462.8 103.8h0.5v0.5h-0.5zM467.3 103.8h1v0.5h-1zM454.3 104.3h2v0.5h-2zM457.3 104.3h0.5v0.5h-0.5zM458.3 104.3h3.5v0.5h-3.5zM462.3 104.3h1.5v0.5h-1.5zM464.3 104.3h0.5v0.5h-0.5zM466.3 104.3h0.5v0.5h-0.5zM482.3 104.3h0.5v0.5h-0.5zM493.3 104.3h0.5v0.5h-0.5zM501.3 104.3h0.5v0.5h-0.5zM450.3 104.8h0.5v0.5h-0.5zM453.3 104.8h0.5v0.5h-0.5zM454.8 104.8h1.5v0.5h-1.5zM456.8 104.8h1v0.5h-1zM458.3 104.8h3v0.5h-3zM461.8 104.8h1v0.5h-1zM464.3 104.8h1v0.5h-1zM466.3 104.8h1.5v0.5h-1.5zM471.3 104.8h0.5v0.5h-0.5zM479.8 104.8h0.5v0.5h-0.5zM493.3 104.8h0.5v0.5h-0.5zM510.8 104.8h0.5v0.5h-0.5zM453.3 105.3h1.5v0.5h-1.5zM456.3 105.3h4v0.5h-4zM460.8 105.3h1v0.5h-1zM462.3 105.3h1v0.5h-1zM464.3 105.3h0.5v0.5h-0.5zM466.3 105.3h0.5v0.5h-0.5zM468.8 105.3h0.5v0.5h-0.5zM476.8 105.3h0.5v0.5h-0.5zM451.3 105.8h0.5v0.5h-0.5zM452.3 105.8h0.5v0.5h-0.5zM453.3 105.8h0.5v0.5h-0.5zM455.8 105.8h1.5v0.5h-1.5zM458.3 105.8h0.5v0.5h-0.5zM459.3 105.8h1.5v0.5h-1.5zM464.3 105.8h1.5v0.5h-1.5zM470.3 105.8h0.5v0.5h-0.5zM474.8 105.8h0.5v0.5h-0.5zM495.3 105.8h0.5v0.5h-0.5zM452.8 106.3h2v0.5h-2zM455.8 106.3h1v0.5h-1zM457.8 106.3h1.5v0.5h-1.5zM461.3 106.3h1v0.5h-1zM462.8 106.3h0.5v0.5h-0.5zM464.3 106.3h1v0.5h-1zM466.3 106.3h0.5v0.5h-0.5zM452.3 106.8h0.5v0.5h-0.5zM453.8 106.8h0.5v0.5h-0.5zM456.3 106.8h1v0.5h-1zM457.8 106.8h1.5v0.5h-1.5zM470.8 106.8h0.5v0.5h-0.5zM491.3 106.8h0.5v0.5h-0.5zM451.3 107.3h0.5v0.5h-0.5zM453.8 107.3h1v0.5h-1zM455.3 107.3h0.5v0.5h-0.5zM457.8 107.3h0.5v0.5h-0.5zM458.8 107.3h1v0.5h-1zM460.3 107.3h1v0.5h-1zM462.8 107.3h1v0.5h-1zM466.8 107.3h0.5v0.5h-0.5zM454.3 107.8h1v0.5h-1zM456.3 107.8h1v0.5h-1zM458.8 107.8h0.5v0.5h-0.5zM460.3 107.8h0.5v0.5h-0.5zM472.3 107.8h0.5v0.5h-0.5z" fill="#000" filter="url(#bl)"/>
<text x="269.5" y="154.5" font-size="17" font-family="'Liberation Sans',sans-serif" font-weight="bold" stroke="#000" stroke-width="0.3">C</text>
<text x="318.0" y="165.3" font-size="15.2" text-anchor="middle" font-family="'Liberation Sans',sans-serif" font-weight="bold" stroke="#000" stroke-width="0.3">I</text>
<path d="M285.8 172.6H354V238.3" fill="none" stroke="#666" stroke-width="1"/>
<path d="M285.3 238.3H354.5" fill="none" stroke="#111" stroke-width="1.3"/>
<path d="M285.8 172.6V238.3" fill="none" stroke="#444" stroke-width="0.9" stroke-dasharray="0.8 0.8"/>
<path d="M280.3 171.8h2v2.2h-2z M282.5 170.2h1v1h-1z M284.2 241.3h2v2.2h-2z M286.4 239.9h1v1h-1z M280.3 188.2h2v2.2h-2z M282.5 186.6h1v1h-1z M301.2 241.3h2v2.2h-2z M303.5 239.9h1v1h-1z M280.3 204.6h2v2.2h-2z M282.5 203.0h1v1h-1z M318.3 241.3h2v2.2h-2z M320.5 239.9h1v1h-1z M280.3 221.1h2v2.2h-2z M282.5 219.5h1v1h-1z M335.3 241.3h2v2.2h-2z M337.6 239.9h1v1h-1z M280.3 237.5h2v2.2h-2z M282.5 235.9h1v1h-1z M352.4 241.3h2v2.2h-2z M354.6 239.9h1v1h-1z" fill="#333" filter="url(#bl)"/>
<text x="400.5" y="165.3" font-size="15.2" text-anchor="middle" font-family="'Liberation Sans',sans-serif" font-weight="bold" stroke="#000" stroke-width="0.3">II</text>
<path d="M366.8 173H435.2V238.4" fill="none" stroke="#666" stroke-width="1"/>
<path d="M366.3 238.4H435.7" fill="none" stroke="#111" stroke-width="1.3"/>
<path d="M366.8 173V238.4" fill="none" stroke="#444" stroke-width="0.9" stroke-dasharray="0.8 0.8"/>
<path d="M361.3 172.2h2v2.2h-2z M363.5 170.6h1v1h-1z M365.2 241.4h2v2.2h-2z M367.4 240.0h1v1h-1z M361.3 188.5h2v2.2h-2z M363.5 186.9h1v1h-1z M382.3 241.4h2v2.2h-2z M384.5 240.0h1v1h-1z M361.3 204.9h2v2.2h-2z M363.5 203.3h1v1h-1z M399.4 241.4h2v2.2h-2z M401.6 240.0h1v1h-1z M361.3 221.2h2v2.2h-2z M363.5 219.7h1v1h-1z M416.5 241.4h2v2.2h-2z M418.7 240.0h1v1h-1z M361.3 237.6h2v2.2h-2z M363.5 236.0h1v1h-1z M433.6 241.4h2v2.2h-2z M435.8 240.0h1v1h-1z" fill="#333" filter="url(#bl)"/>
<text x="485.7" y="165.3" font-size="15.2" text-anchor="middle" font-family="'Liberation Sans',sans-serif" font-weight="bold" stroke="#000" stroke-width="0.3">III</text>
<path d="M449.8 172.5H516V238.5" fill="none" stroke="#666" stroke-width="1"/>
<path d="M449.3 238.5H516.5" fill="none" stroke="#111" stroke-width="1.3"/>
<path d="M449.8 172.5V238.5" fill="none" stroke="#444" stroke-width="0.9" stroke-dasharray="0.8 0.8"/>
<path d="M444.3 171.7h2v2.2h-2z M446.5 170.1h1v1h-1z M448.2 241.5h2v2.2h-2z M450.4 240.1h1v1h-1z M444.3 188.2h2v2.2h-2z M446.5 186.6h1v1h-1z M464.8 241.5h2v2.2h-2z M467.0 240.1h1v1h-1z M444.3 204.7h2v2.2h-2z M446.5 203.1h1v1h-1z M481.3 241.5h2v2.2h-2z M483.5 240.1h1v1h-1z M444.3 221.2h2v2.2h-2z M446.5 219.6h1v1h-1z M497.8 241.5h2v2.2h-2z M500.1 240.1h1v1h-1z M444.3 237.7h2v2.2h-2z M446.5 236.1h1v1h-1z M514.4 241.5h2v2.2h-2z M516.6 240.1h1v1h-1z" fill="#333" filter="url(#bl)"/>
<path d="M286.3 262.5H378" fill="none" stroke="#000" stroke-width="1.3"/>
<path d="M377 260.2L383 262.5L377 264.8Z" fill="#000"/>
<text x="389.5" y="267" font-size="10" font-family="'Liberation Sans',sans-serif" font-weight="bold" stroke="#000" stroke-width="0.3">NKp46</text>
<path d="M286.00 238.00 L286.50 236.37 L287.00 234.20 L287.50 231.45 L288.00 229.93 L288.50 226.92 L289.00 224.02 L289.50 219.34 L290.00 214.89 L290.50 211.18 L291.00 207.18 L291.50 202.99 L292.00 199.26 L292.50 194.72 L293.00 190.15 L293.50 186.43 L294.00 183.18 L294.50 180.89 L295.00 178.87 L295.50 180.35 L296.00 181.74 L296.50 186.03 L297.00 190.18 L297.50 193.67 L298.00 198.74 L298.50 204.07 L299.00 209.21 L299.50 213.99 L300.00 217.28 L300.50 220.94 L301.00 225.31 L301.50 227.32 L302.00 230.24 L302.50 232.00 L303.00 233.81 L303.50 235.95 L304.00 236.18 L304.50 236.54 L305.00 236.66 L305.50 236.73 L306.00 237.22 L306.50 238.00 L307.00 237.67" fill="none" stroke="#000" stroke-width="1.0" stroke-linejoin="round"/>
<path d="M286.00 238.00 L286.40 237.35 L286.80 236.70 L287.20 236.52 L287.60 236.33 L288.00 236.15 L288.40 235.97 L288.80 235.78 L289.20 235.60 L289.60 235.42 L290.00 235.24 L290.40 235.05 L290.80 234.87 L291.20 234.69 L291.60 234.50 L292.00 234.32 L292.40 234.14 L292.80 233.87 L293.20 233.34 L293.60 232.81 L294.00 232.28 L294.40 231.75 L294.80 231.22 L295.20 230.69 L295.60 230.16 L296.00 229.63 L296.40 229.10 L296.80 228.39 L297.20 227.16 L297.60 225.93 L298.00 224.70 L298.40 223.47 L298.80 222.24 L299.20 221.01 L299.60 219.44 L300.00 217.75 L300.40 215.85 L300.80 215.12 L301.20 212.53 L301.60 215.18 L302.00 209.96 L302.40 213.04 L302.80 206.75 L303.20 208.33 L303.60 204.87 L304.00 209.01 L304.40 206.01 L304.80 211.96 L305.20 207.79 L305.60 212.17 L306.00 206.12 L306.40 211.86 L306.80 204.85 L307.20 208.21 L307.60 202.61 L308.00 206.49 L308.40 201.86 L308.80 202.62 L309.20 199.34 L309.60 200.83 L310.00 195.72 L310.40 198.92 L310.80 195.37 L311.20 200.01 L311.60 194.13 L312.00 198.16 L312.40 194.10 L312.80 196.46 L313.20 195.00 L313.60 199.99 L314.00 197.73 L314.40 200.08 L314.80 201.11 L315.20 203.98 L315.60 206.66 L316.00 209.33 L316.40 212.92 L316.80 216.81 L317.20 220.70 L317.60 223.02 L318.00 225.35 L318.40 227.67 L318.80 230.00 L319.20 231.23 L319.60 232.46 L320.00 233.69 L320.40 234.32 L320.80 234.74 L321.20 235.16 L321.60 235.58 L322.00 236.00 L322.40 236.12 L322.80 236.24 L323.20 236.36 L323.60 236.48 L324.00 236.60 L324.40 236.72 L324.80 236.84 L325.20 236.96 L325.60 237.08 L326.00 237.20 L326.40 237.28 L326.80 237.36 L327.20 237.44 L327.60 237.52 L328.00 237.60 L328.40 237.68 L328.80 237.76 L329.20 237.84 L329.60 237.92 L330.00 238.00" fill="none" stroke="#000" stroke-width="0.8" stroke-linejoin="round"/>
<path d="M286.00 238.00 L286.33 237.46 L286.66 236.93 L286.99 236.61 L287.32 236.46 L287.65 236.31 L287.98 236.16 L288.31 236.01 L288.64 235.86 L288.97 235.71 L289.30 235.56 L289.63 235.40 L289.96 235.25 L290.29 235.10 L290.62 234.95 L290.95 234.80 L291.28 234.65 L291.61 234.50 L291.94 234.35 L292.27 234.20 L292.60 234.05 L292.93 233.70 L293.26 233.26 L293.59 232.82 L293.92 232.38 L294.25 231.95 L294.58 231.51 L294.91 231.07 L295.24 230.63 L295.57 230.20 L295.90 229.76 L296.23 229.32 L296.56 228.89 L296.89 228.12 L297.22 227.10 L297.55 226.08 L297.88 225.07 L298.21 224.05 L298.54 223.04 L298.87 222.02 L299.20 220.83 L299.53 219.61 L299.86 217.60 L300.19 217.32 L300.52 214.16 L300.85 211.42 L301.18 211.90 L301.51 209.95 L301.84 209.43 L302.17 206.95 L302.50 213.08 L302.83 207.12 L303.16 209.99 L303.49 207.33 L303.82 205.95 L304.15 204.30 L304.48 208.67 L304.81 208.34 L305.14 208.43 L305.47 208.73 L305.80 206.49 L306.13 205.86 L306.46 207.59 L306.79 207.54 L307.12 208.87 L307.45 201.36 L307.78 204.95 L308.11 203.14 L308.44 200.65 L308.77 200.49 L309.10 201.04 L309.43 197.96 L309.76 197.24 L310.09 196.02 L310.42 196.02 L310.75 200.79 L311.08 199.78 L311.41 197.38 L311.74 191.93 L312.07 198.33 L312.40 194.14 L312.73 195.20 L313.06 194.59 L313.39 197.33 L313.72 195.34 L314.05 200.17 L314.38 200.06 L314.71 199.79 L315.04 202.71 L315.37 203.78 L315.70 207.34 L316.03 209.39 L316.36 212.24 L316.69 215.49 L317.02 218.95 L317.35 221.57 L317.68 223.49 L318.01 225.41 L318.34 227.33 L318.67 229.24 L319.00 230.62 L319.33 231.63 L319.66 232.65 L319.99 233.66 L320.32 234.23 L320.65 234.58 L320.98 234.93 L321.31 235.27 L321.64 235.62 L321.97 235.97 L322.30 236.09 L322.63 236.19 L322.96 236.29 L323.29 236.39 L323.62 236.49 L323.95 236.58 L324.28 236.68 L324.61 236.78 L324.94 236.88 L325.27 236.98 L325.60 237.08 L325.93 237.18 L326.26 237.25 L326.59 237.32 L326.92 237.38 L327.25 237.45 L327.58 237.52 L327.91 237.58 L328.24 237.65 L328.57 237.71 L328.90 237.78 L329.23 237.85 L329.56 237.91 L329.89 237.98" fill="none" stroke="#000" stroke-width="1.2" stroke-linejoin="round"/>
<path d="M286.00 238.00 L286.50 237.32 L287.00 236.39 L287.50 236.24 L288.00 235.67 L288.50 236.32 L289.00 235.73 L289.50 235.15 L290.00 235.58 L290.50 234.23 L291.00 234.94 L291.50 234.77 L292.00 234.31 L292.50 234.26 L293.00 233.99 L293.50 233.35 L294.00 231.99 L294.50 231.98 L295.00 230.77 L295.50 230.08 L296.00 229.80 L296.50 228.76 L297.00 228.07 L297.50 226.49 L298.00 224.98 L298.50 222.80 L299.00 221.73 L299.50 220.21 L300.00 218.17 L300.50 216.41 L301.00 214.00 L301.50 211.17 L302.00 209.96 L302.50 208.38 L303.00 206.55 L303.50 206.27 L304.00 205.67 L304.50 206.83 L305.00 208.46 L305.50 208.71 L306.00 207.58 L306.50 206.68 L307.00 205.81 L307.50 205.69 L308.00 203.35 L308.50 201.78 L309.00 201.31 L309.50 198.63 L310.00 196.51 L310.50 196.13 L311.00 195.17 L311.50 195.57 L312.00 194.89 L312.50 194.09 L313.00 194.80 L313.50 196.40 L314.00 197.55 L314.50 199.40 L315.00 201.80 L315.50 206.51 L316.00 209.73 L316.50 213.02 L317.00 218.28 L317.50 222.48 L318.00 225.61 L318.50 228.65 L319.00 230.61 L319.50 232.21 L320.00 233.25 L320.50 234.62 L321.00 234.61 L321.50 235.34 L322.00 235.72 L322.50 236.22 L323.00 236.93 L323.50 236.68 L324.00 236.18 L324.50 237.22 L325.00 237.33 L325.50 236.54 L326.00 236.96 L326.50 237.70 L327.00 237.17 L327.50 237.37 L328.00 238.00 L328.50 238.00 L329.00 238.00 L329.50 237.57 L330.00 238.00" fill="none" stroke="#000" stroke-width="1.1" stroke-linejoin="round"/>
<path d="M366.80 237.28 L367.30 235.96 L367.80 234.45 L368.30 232.54 L368.80 230.78 L369.30 229.85 L369.80 228.15 L370.30 223.42 L370.80 219.80 L371.30 215.67 L371.80 211.26 L372.30 207.01 L372.80 203.37 L373.30 197.98 L373.80 194.28 L374.30 189.38 L374.80 186.67 L375.30 183.80 L375.80 182.09 L376.30 180.28 L376.80 180.78 L377.30 181.81 L377.80 184.72 L378.30 186.65 L378.80 192.58 L379.30 197.72 L379.80 201.84 L380.30 207.79 L380.80 211.97 L381.30 216.69 L381.80 220.74 L382.30 225.01 L382.80 229.02 L383.30 231.49 L383.80 234.07 L384.30 235.38 L384.80 235.65 L385.30 237.33 L385.80 237.24" fill="none" stroke="#000" stroke-width="1.0" stroke-linejoin="round"/>
<path d="M366.80 238.00 L367.20 237.47 L367.60 236.93 L368.00 236.40 L368.40 235.92 L368.80 235.59 L369.20 235.26 L369.60 234.93 L370.00 234.60 L370.40 234.27 L370.80 233.94 L371.20 233.61 L371.60 233.28 L372.00 232.95 L372.40 232.45 L372.80 231.46 L373.20 230.47 L373.60 229.47 L374.00 228.48 L374.40 227.49 L374.80 226.50 L375.20 224.87 L375.60 222.62 L376.00 220.37 L376.40 218.12 L376.80 215.86 L377.20 213.31 L377.60 210.66 L378.00 208.01 L378.40 206.87 L378.80 203.86 L379.20 207.73 L379.60 202.08 L380.00 203.76 L380.40 199.12 L380.80 206.46 L381.20 198.01 L381.60 201.97 L382.00 195.76 L382.40 206.47 L382.80 198.53 L383.20 202.22 L383.60 196.85 L384.00 201.74 L384.40 193.32 L384.80 200.56 L385.20 195.42 L385.60 204.68 L386.00 195.12 L386.40 199.90 L386.80 190.93 L387.20 198.85 L387.60 189.63 L388.00 191.24 L388.40 188.15 L388.80 195.32 L389.20 186.26 L389.60 193.96 L390.00 191.21 L390.40 196.60 L390.80 193.19 L391.20 199.68 L391.60 195.08 L392.00 203.43 L392.40 195.98 L392.80 202.45 L393.20 196.38 L393.60 198.59 L394.00 196.27 L394.40 201.61 L394.80 197.01 L395.20 199.72 L395.60 199.95 L396.00 202.64 L396.40 205.32 L396.80 207.99 L397.20 210.97 L397.60 214.86 L398.00 218.75 L398.40 222.02 L398.80 224.67 L399.20 227.32 L399.60 229.97 L400.00 231.72 L400.40 232.56 L400.80 233.41 L401.20 234.25 L401.60 235.09 L402.00 235.48 L402.40 235.73 L402.80 235.98 L403.20 236.22 L403.60 236.47 L404.00 236.72 L404.40 236.94 L404.80 237.08 L405.20 237.22 L405.60 237.36 L406.00 237.50 L406.40 237.64 L406.80 237.78 L407.20 237.92 L407.60 238.00 L408.00 238.00" fill="none" stroke="#000" stroke-width="0.8" stroke-linejoin="round"/>
<path d="M366.80 238.00 L367.13 237.56 L367.46 237.12 L367.79 236.68 L368.12 236.24 L368.45 235.88 L368.78 235.60 L369.11 235.33 L369.44 235.06 L369.77 234.79 L370.10 234.52 L370.43 234.24 L370.76 233.97 L371.09 233.70 L371.42 233.43 L371.75 233.15 L372.08 232.88 L372.41 232.43 L372.74 231.61 L373.07 230.79 L373.40 229.97 L373.73 229.15 L374.06 228.33 L374.39 227.51 L374.72 226.69 L375.05 225.72 L375.38 223.86 L375.71 222.00 L376.04 220.14 L376.37 218.28 L376.70 216.43 L377.03 214.43 L377.36 212.63 L377.69 209.67 L378.02 209.39 L378.35 205.10 L378.68 203.18 L379.01 202.92 L379.34 200.91 L379.67 199.33 L380.00 199.20 L380.33 202.35 L380.66 201.60 L380.99 194.85 L381.32 199.33 L381.65 196.59 L381.98 197.18 L382.31 199.37 L382.64 200.18 L382.97 200.96 L383.30 198.41 L383.63 194.44 L383.96 197.13 L384.29 190.77 L384.62 195.55 L384.95 193.75 L385.28 192.90 L385.61 197.16 L385.94 195.32 L386.27 192.31 L386.60 193.52 L386.93 190.35 L387.26 191.41 L387.59 187.96 L387.92 190.09 L388.25 189.67 L388.58 185.58 L388.91 189.00 L389.24 184.30 L389.57 190.26 L389.90 190.35 L390.23 192.85 L390.56 192.22 L390.89 194.21 L391.22 194.32 L391.55 193.59 L391.88 196.06 L392.21 196.72 L392.54 195.77 L392.87 197.41 L393.20 194.23 L393.53 197.09 L393.86 196.86 L394.19 201.47 L394.52 195.07 L394.85 198.29 L395.18 197.49 L395.51 201.21 L395.84 202.32 L396.17 204.99 L396.50 206.54 L396.83 206.41 L397.16 210.12 L397.49 213.70 L397.82 216.90 L398.15 220.21 L398.48 222.55 L398.81 224.74 L399.14 226.93 L399.47 229.11 L399.80 231.30 L400.13 231.99 L400.46 232.69 L400.79 233.38 L401.12 234.08 L401.45 234.77 L401.78 235.35 L402.11 235.55 L402.44 235.76 L402.77 235.96 L403.10 236.16 L403.43 236.36 L403.76 236.57 L404.09 236.77 L404.42 236.94 L404.75 237.06 L405.08 237.17 L405.41 237.29 L405.74 237.41 L406.07 237.52 L406.40 237.64 L406.73 237.75 L407.06 237.87 L407.39 237.99 L407.72 238.00" fill="none" stroke="#000" stroke-width="1.2" stroke-linejoin="round"/>
<path d="M366.80 237.74 L367.30 237.80 L367.80 236.86 L368.30 234.81 L368.80 235.24 L369.30 235.16 L369.80 234.66 L370.30 234.64 L370.80 233.99 L371.30 233.24 L371.80 233.02 L372.30 232.37 L372.80 231.99 L373.30 230.30 L373.80 228.72 L374.30 227.34 L374.80 226.35 L375.30 224.44 L375.80 221.66 L376.30 218.67 L376.80 216.51 L377.30 212.50 L377.80 209.88 L378.30 206.80 L378.80 204.21 L379.30 202.49 L379.80 202.09 L380.30 200.26 L380.80 199.23 L381.30 197.60 L381.80 196.86 L382.30 198.39 L382.80 198.76 L383.30 198.91 L383.80 196.04 L384.30 193.59 L384.80 195.07 L385.30 195.53 L385.80 196.30 L386.30 195.04 L386.80 192.84 L387.30 190.23 L387.80 189.31 L388.30 188.24 L388.80 186.95 L389.30 187.32 L389.80 191.22 L390.30 193.51 L390.80 194.42 L391.30 194.52 L391.80 194.82 L392.30 196.29 L392.80 196.32 L393.30 197.43 L393.80 196.21 L394.30 196.85 L394.80 197.61 L395.30 199.41 L395.80 202.29 L396.30 205.61 L396.80 208.44 L397.30 212.35 L397.80 217.23 L398.30 221.75 L398.80 224.29 L399.30 227.24 L399.80 230.93 L400.30 231.89 L400.80 233.65 L401.30 234.78 L401.80 235.26 L402.30 235.40 L402.80 236.28 L403.30 236.71 L403.80 236.75 L404.30 237.27 L404.80 236.71 L405.30 236.94 L405.80 237.97 L406.30 237.36 L406.80 238.00 L407.30 238.00 L407.80 238.00" fill="none" stroke="#000" stroke-width="1.1" stroke-linejoin="round"/>
<path d="M449.80 238.00 L450.30 237.46 L450.80 236.41 L451.30 235.23 L451.80 233.00 L452.30 229.98 L452.80 227.23 L453.30 223.66 L453.80 219.65 L454.30 213.74 L454.80 207.74 L455.30 201.55 L455.80 195.20 L456.30 189.26 L456.80 182.38 L457.30 177.12 L457.80 173.53 L458.30 174.78 L458.80 175.55 L459.30 180.30 L459.80 185.28 L460.30 192.29 L460.80 200.72 L461.30 208.00 L461.80 214.41 L462.30 221.03 L462.80 224.86 L463.30 228.19 L463.80 230.49 L464.30 232.26 L464.80 233.56 L465.30 235.30 L465.80 236.72 L466.30 236.95 L466.80 237.99" fill="none" stroke="#000" stroke-width="1.0" stroke-linejoin="round"/>
<path d="M449.80 238.00 L450.20 237.87 L450.60 237.45 L451.00 237.02 L451.40 236.63 L451.80 236.36 L452.20 236.09 L452.60 235.82 L453.00 235.55 L453.40 235.28 L453.80 235.01 L454.20 234.74 L454.60 234.47 L455.00 234.20 L455.40 233.85 L455.80 233.26 L456.20 232.67 L456.60 232.07 L457.00 231.48 L457.40 230.89 L457.80 230.30 L458.20 229.50 L458.60 228.51 L459.00 227.52 L459.40 226.53 L459.80 225.53 L460.20 224.54 L460.60 223.55 L461.00 221.97 L461.40 220.19 L461.80 218.41 L462.20 216.63 L462.60 214.36 L463.00 210.62 L463.40 206.87 L463.80 203.55 L464.20 200.64 L464.60 197.73 L465.00 195.50 L465.40 193.50 L465.80 178.38 L466.20 187.37 L466.60 191.10 L467.00 189.90 L467.40 188.86 L467.80 188.67 L468.20 187.40 L468.60 190.84 L469.00 186.87 L469.40 194.41 L469.80 187.09 L470.20 195.92 L470.60 188.97 L471.00 196.77 L471.40 190.83 L471.80 198.47 L472.20 194.01 L472.60 199.68 L473.00 196.14 L473.40 200.70 L473.80 198.23 L474.20 202.58 L474.60 200.51 L475.00 203.95 L475.40 202.27 L475.80 211.27 L476.20 201.46 L476.60 208.65 L477.00 200.84 L477.40 205.39 L477.80 203.11 L478.20 208.11 L478.60 206.81 L479.00 209.27 L479.40 211.79 L479.80 214.93 L480.20 218.07 L480.60 221.21 L481.00 223.62 L481.40 225.77 L481.80 227.92 L482.20 229.47 L482.60 230.42 L483.00 231.37 L483.40 232.32 L483.80 233.26 L484.20 233.79 L484.60 234.17 L485.00 234.56 L485.40 234.94 L485.80 235.33 L486.20 235.71 L486.60 236.03 L487.00 236.14 L487.40 236.26 L487.80 236.37 L488.20 236.49 L488.60 236.60 L489.00 236.71 L489.40 236.83 L489.80 236.94 L490.20 237.05 L490.60 237.16 L491.00 237.26 L491.40 237.36 L491.80 237.47 L492.20 237.57 L492.60 237.68 L493.00 237.78 L493.40 237.88 L493.80 237.99 L494.20 238.00 L494.60 238.00 L495.00 238.00" fill="none" stroke="#000" stroke-width="0.8" stroke-linejoin="round"/>
<path d="M449.80 238.00 L450.13 237.95 L450.46 237.60 L450.79 237.24 L451.12 236.89 L451.45 236.60 L451.78 236.38 L452.11 236.15 L452.44 235.93 L452.77 235.71 L453.10 235.49 L453.43 235.26 L453.76 235.04 L454.09 234.82 L454.42 234.59 L454.75 234.37 L455.08 234.15 L455.41 233.84 L455.74 233.35 L456.07 232.86 L456.40 232.37 L456.73 231.88 L457.06 231.39 L457.39 230.90 L457.72 230.41 L458.05 229.88 L458.38 229.06 L458.71 228.24 L459.04 227.42 L459.37 226.60 L459.70 225.78 L460.03 224.96 L460.36 224.14 L460.69 223.32 L461.02 221.88 L461.35 220.41 L461.68 218.94 L462.01 217.48 L462.34 216.01 L462.67 213.71 L463.00 210.62 L463.33 207.53 L463.66 204.56 L463.99 202.16 L464.32 199.76 L464.65 197.36 L464.98 195.60 L465.31 193.95 L465.64 186.18 L465.97 176.74 L466.30 192.00 L466.63 191.02 L466.96 189.35 L467.29 188.98 L467.62 189.78 L467.95 185.38 L468.28 188.06 L468.61 184.05 L468.94 185.53 L469.27 183.99 L469.60 189.54 L469.93 190.03 L470.26 190.26 L470.59 195.01 L470.92 189.48 L471.25 190.70 L471.58 193.56 L471.91 190.59 L472.24 194.45 L472.57 193.06 L472.90 198.07 L473.23 198.86 L473.56 198.43 L473.89 197.07 L474.22 196.05 L474.55 199.16 L474.88 203.10 L475.21 200.59 L475.54 202.53 L475.87 201.20 L476.20 204.13 L476.53 199.30 L476.86 203.33 L477.19 200.01 L477.52 201.81 L477.85 204.56 L478.18 204.07 L478.51 203.81 L478.84 207.36 L479.17 210.19 L479.50 212.23 L479.83 215.83 L480.16 218.01 L480.49 220.34 L480.82 222.73 L481.15 224.42 L481.48 226.20 L481.81 227.98 L482.14 229.33 L482.47 230.11 L482.80 230.89 L483.13 231.68 L483.46 232.46 L483.79 233.24 L484.12 233.71 L484.45 234.03 L484.78 234.35 L485.11 234.66 L485.44 234.98 L485.77 235.30 L486.10 235.62 L486.43 235.93 L486.76 236.07 L487.09 236.17 L487.42 236.26 L487.75 236.36 L488.08 236.45 L488.41 236.55 L488.74 236.64 L489.07 236.73 L489.40 236.83 L489.73 236.92 L490.06 237.02 L490.39 237.10 L490.72 237.19 L491.05 237.27 L491.38 237.36 L491.71 237.44 L492.04 237.53 L492.37 237.62 L492.70 237.70 L493.03 237.79 L493.36 237.87 L493.69 237.96 L494.02 238.00 L494.35 238.00 L494.68 238.00" fill="none" stroke="#000" stroke-width="1.2" stroke-linejoin="round"/>
<path d="M449.80 238.00 L450.30 237.48 L450.80 237.45 L451.30 236.92 L451.80 236.74 L452.30 236.06 L452.80 235.83 L453.30 235.69 L453.80 235.16 L454.30 234.86 L454.80 234.14 L455.30 233.14 L455.80 233.17 L456.30 232.79 L456.80 231.37 L457.30 230.79 L457.80 230.84 L458.30 229.57 L458.80 228.21 L459.30 226.72 L459.80 225.34 L460.30 224.37 L460.80 222.18 L461.30 220.43 L461.80 219.13 L462.30 216.51 L462.80 212.09 L463.30 208.00 L463.80 203.87 L464.30 199.72 L464.80 196.70 L465.30 193.47 L465.80 178.19 L466.30 191.77 L466.80 191.07 L467.30 188.92 L467.80 188.07 L468.30 187.32 L468.80 187.11 L469.30 188.39 L469.80 188.53 L470.30 189.04 L470.80 190.04 L471.30 191.50 L471.80 192.04 L472.30 193.37 L472.80 196.08 L473.30 197.05 L473.80 198.44 L474.30 200.06 L474.80 200.79 L475.30 203.37 L475.80 202.24 L476.30 201.01 L476.80 201.27 L477.30 201.99 L477.80 203.40 L478.30 204.51 L478.80 207.58 L479.30 211.91 L479.80 214.62 L480.30 218.98 L480.80 223.03 L481.30 225.92 L481.80 228.38 L482.30 229.43 L482.80 231.10 L483.30 232.33 L483.80 233.81 L484.30 234.27 L484.80 234.09 L485.30 234.44 L485.80 235.94 L486.30 235.32 L486.80 236.33 L487.30 236.52 L487.80 235.88 L488.30 236.40 L488.80 236.28 L489.30 237.40 L489.80 236.56 L490.30 237.31 L490.80 237.12 L491.30 237.84 L491.80 237.70 L492.30 237.91 L492.80 237.81 L493.30 238.00 L493.80 237.77 L494.30 238.00 L494.80 238.00" fill="none" stroke="#000" stroke-width="1.1" stroke-linejoin="round"/>
<path d="M305.5 218.5H354.5 M305.5 215.0V222.0" fill="none" stroke="#555" stroke-width="1.1"/>
<text x="347.3" y="212.9" font-size="11" text-anchor="end" font-family="'Liberation Sans',sans-serif" font-weight="bold" stroke="#000" stroke-width="0.3">65</text>
<path d="M385.5 219.2H435.2 M385.5 215.7V222.7" fill="none" stroke="#555" stroke-width="1.1"/>
<text x="427.8" y="213.6" font-size="11" text-anchor="end" font-family="'Liberation Sans',sans-serif" font-weight="bold" stroke="#000" stroke-width="0.3">60</text>
<path d="M467.3 218.4H516 M467.3 214.9V221.9" fill="none" stroke="#555" stroke-width="1.1"/>
<text x="511.8" y="212.8" font-size="11" text-anchor="end" font-family="'Liberation Sans',sans-serif" font-weight="bold" stroke="#000" stroke-width="0.3">62</text>
</svg>
</body></html>
